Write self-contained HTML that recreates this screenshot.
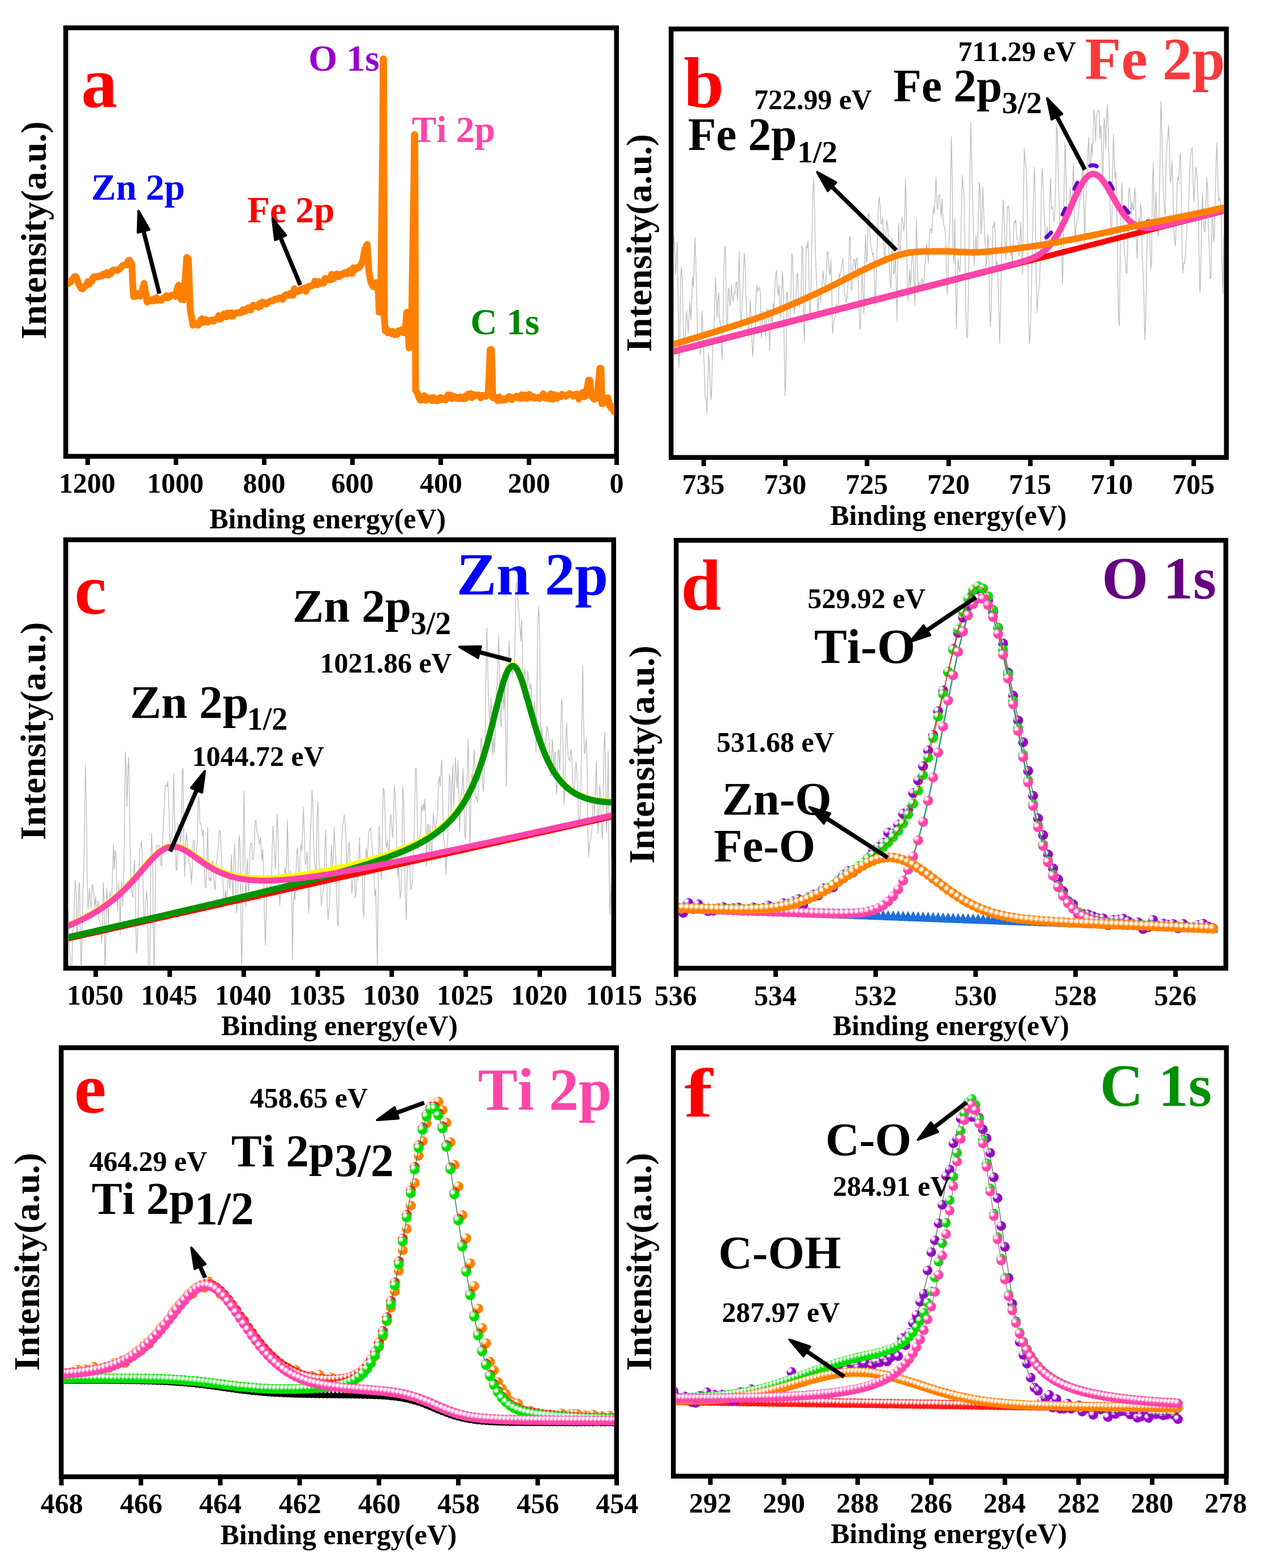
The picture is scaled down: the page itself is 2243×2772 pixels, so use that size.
<!DOCTYPE html>
<html><head><meta charset="utf-8"><title>XPS spectra</title>
<style>html,body{margin:0;padding:0;background:#fff;}svg{display:block;}text{font-family:'Liberation Serif','Times New Roman',serif;font-weight:bold;font-kerning:none}</style></head>
<body><svg xmlns="http://www.w3.org/2000/svg" width="2243" height="2772" viewBox="0 0 2243 2772">
<rect width="2243" height="2772" fill="#fff"/>
<defs>
<radialGradient id="gG" cx="0.31" cy="0.3" r="0.33"><stop offset="0" stop-color="#ffffff"/><stop offset="0.3" stop-color="#ffffff"/><stop offset="0.65" stop-color="#90f090"/><stop offset="1" stop-color="#00dd00"/></radialGradient>
<radialGradient id="gP" cx="0.31" cy="0.3" r="0.33"><stop offset="0" stop-color="#ffffff"/><stop offset="0.3" stop-color="#ffffff"/><stop offset="0.65" stop-color="#ffa8d8"/><stop offset="1" stop-color="#ff44aa"/></radialGradient>
<radialGradient id="gU" cx="0.31" cy="0.3" r="0.33"><stop offset="0" stop-color="#ffffff"/><stop offset="0.3" stop-color="#ffffff"/><stop offset="0.65" stop-color="#d8a8f0"/><stop offset="1" stop-color="#9900cc"/></radialGradient>
<radialGradient id="gO" cx="0.31" cy="0.3" r="0.33"><stop offset="0" stop-color="#ffffff"/><stop offset="0.3" stop-color="#ffffff"/><stop offset="0.65" stop-color="#ffc890"/><stop offset="1" stop-color="#ff8000"/></radialGradient>
<radialGradient id="gR" cx="0.31" cy="0.3" r="0.33"><stop offset="0" stop-color="#ffffff"/><stop offset="0.3" stop-color="#ffffff"/><stop offset="0.65" stop-color="#ff9a9a"/><stop offset="1" stop-color="#ff1a1a"/></radialGradient>
<radialGradient id="gK" cx="0.31" cy="0.3" r="0.33"><stop offset="0" stop-color="#ffffff"/><stop offset="0.3" stop-color="#ffffff"/><stop offset="0.65" stop-color="#000000"/><stop offset="1" stop-color="#000000"/></radialGradient>
</defs>
<rect x="116.2" y="49.2" width="973.5" height="757.5" fill="none" stroke="#000" stroke-width="8.5"/>
<rect x="151.0" y="810.0" width="8" height="12" fill="#000"/>
<rect x="307.0" y="810.0" width="8" height="12" fill="#000"/>
<rect x="463.0" y="810.0" width="8" height="12" fill="#000"/>
<rect x="619.0" y="810.0" width="8" height="12" fill="#000"/>
<rect x="775.0" y="810.0" width="8" height="12" fill="#000"/>
<rect x="931.0" y="810.0" width="8" height="12" fill="#000"/>
<rect x="1086.0" y="810.0" width="8" height="12" fill="#000"/>
<text x="104.0" y="871.0" font-size="50" fill="#000">1200</text>
<text x="260.0" y="871.0" font-size="50" fill="#000">1000</text>
<text x="429.6" y="871.0" font-size="50" fill="#000">800</text>
<text x="585.6" y="871.0" font-size="50" fill="#000">600</text>
<text x="742.1" y="871.0" font-size="50" fill="#000">400</text>
<text x="897.4" y="871.0" font-size="50" fill="#000">200</text>
<text x="1077.5" y="871.0" font-size="50" fill="#000">0</text>
<text x="370.2" y="933.5" font-size="50" fill="#000">Binding energy(eV)</text>
<text transform="translate(80.9,600.1) rotate(-90)" x="0" y="0" font-size="64.3" fill="#000">Intensity(a.u.)</text>
<rect x="1186.2" y="51.2" width="981.5" height="757.5" fill="none" stroke="#000" stroke-width="8.5"/>
<rect x="1239.8" y="812.0" width="8" height="12" fill="#000"/>
<rect x="1384.1" y="812.0" width="8" height="12" fill="#000"/>
<rect x="1528.5" y="812.0" width="8" height="12" fill="#000"/>
<rect x="1672.8" y="812.0" width="8" height="12" fill="#000"/>
<rect x="1817.2" y="812.0" width="8" height="12" fill="#000"/>
<rect x="1961.5" y="812.0" width="8" height="12" fill="#000"/>
<rect x="2105.9" y="812.0" width="8" height="12" fill="#000"/>
<text x="1205.8" y="872.7" font-size="50" fill="#000">735</text>
<text x="1350.2" y="872.7" font-size="50" fill="#000">730</text>
<text x="1494.5" y="872.7" font-size="50" fill="#000">725</text>
<text x="1638.9" y="872.7" font-size="50" fill="#000">720</text>
<text x="1783.2" y="872.7" font-size="50" fill="#000">715</text>
<text x="1927.6" y="872.7" font-size="50" fill="#000">710</text>
<text x="2071.9" y="872.7" font-size="50" fill="#000">705</text>
<text x="1467.4" y="928.0" font-size="50" fill="#000">Binding energy(eV)</text>
<text transform="translate(1151.0,622.6) rotate(-90)" x="0" y="0" font-size="64.3" fill="#000">Intensity(a.u.)</text>
<rect x="116.2" y="954.2" width="968.5" height="757.5" fill="none" stroke="#000" stroke-width="8.5"/>
<rect x="165.2" y="1715.0" width="8" height="12" fill="#000"/>
<rect x="296.0" y="1715.0" width="8" height="12" fill="#000"/>
<rect x="426.8" y="1715.0" width="8" height="12" fill="#000"/>
<rect x="557.6" y="1715.0" width="8" height="12" fill="#000"/>
<rect x="688.4" y="1715.0" width="8" height="12" fill="#000"/>
<rect x="819.2" y="1715.0" width="8" height="12" fill="#000"/>
<rect x="950.0" y="1715.0" width="8" height="12" fill="#000"/>
<rect x="1081.0" y="1715.0" width="8" height="12" fill="#000"/>
<text x="118.2" y="1775.5" font-size="50" fill="#000">1050</text>
<text x="248.9" y="1775.5" font-size="50" fill="#000">1045</text>
<text x="379.8" y="1775.5" font-size="50" fill="#000">1040</text>
<text x="510.5" y="1775.5" font-size="50" fill="#000">1035</text>
<text x="641.4" y="1775.5" font-size="50" fill="#000">1030</text>
<text x="772.1" y="1775.5" font-size="50" fill="#000">1025</text>
<text x="903.0" y="1775.5" font-size="50" fill="#000">1020</text>
<text x="1034.9" y="1775.5" font-size="50" fill="#000">1015</text>
<text x="391.0" y="1830.4" font-size="50" fill="#000">Binding energy(eV)</text>
<text transform="translate(80.0,1485.4) rotate(-90)" x="0" y="0" font-size="64.3" fill="#000">Intensity(a.u.)</text>
<rect x="1195.2" y="955.2" width="971.5" height="756.5" fill="none" stroke="#000" stroke-width="8.5"/>
<rect x="1191.0" y="1715.0" width="8" height="12" fill="#000"/>
<rect x="1367.0" y="1715.0" width="8" height="12" fill="#000"/>
<rect x="1543.7" y="1715.0" width="8" height="12" fill="#000"/>
<rect x="1720.4" y="1715.0" width="8" height="12" fill="#000"/>
<rect x="1897.1" y="1715.0" width="8" height="12" fill="#000"/>
<rect x="2073.8" y="1715.0" width="8" height="12" fill="#000"/>
<text x="1156.8" y="1776.5" font-size="50" fill="#000">536</text>
<text x="1333.0" y="1776.5" font-size="50" fill="#000">534</text>
<text x="1510.3" y="1776.5" font-size="50" fill="#000">532</text>
<text x="1686.9" y="1776.5" font-size="50" fill="#000">530</text>
<text x="1863.4" y="1776.5" font-size="50" fill="#000">528</text>
<text x="2040.0" y="1776.5" font-size="50" fill="#000">526</text>
<text x="1471.9" y="1830.4" font-size="50" fill="#000">Binding energy(eV)</text>
<text transform="translate(1156.0,1526.9) rotate(-90)" x="0" y="0" font-size="64.3" fill="#000">Intensity(a.u.)</text>
<rect x="108.2" y="1852.2" width="981.5" height="758.5" fill="none" stroke="#000" stroke-width="8.5"/>
<rect x="104.5" y="2614.0" width="8" height="12" fill="#000"/>
<rect x="245.1" y="2614.0" width="8" height="12" fill="#000"/>
<rect x="385.3" y="2614.0" width="8" height="12" fill="#000"/>
<rect x="525.6" y="2614.0" width="8" height="12" fill="#000"/>
<rect x="665.8" y="2614.0" width="8" height="12" fill="#000"/>
<rect x="806.1" y="2614.0" width="8" height="12" fill="#000"/>
<rect x="946.4" y="2614.0" width="8" height="12" fill="#000"/>
<rect x="1086.0" y="2614.0" width="8" height="12" fill="#000"/>
<text x="71.8" y="2674.8" font-size="50" fill="#000">468</text>
<text x="212.0" y="2674.8" font-size="50" fill="#000">466</text>
<text x="351.9" y="2674.8" font-size="50" fill="#000">464</text>
<text x="492.8" y="2674.8" font-size="50" fill="#000">462</text>
<text x="633.0" y="2674.8" font-size="50" fill="#000">460</text>
<text x="773.1" y="2674.8" font-size="50" fill="#000">458</text>
<text x="913.3" y="2674.8" font-size="50" fill="#000">456</text>
<text x="1053.2" y="2674.8" font-size="50" fill="#000">454</text>
<text x="389.4" y="2729.6" font-size="50" fill="#000">Binding energy(eV)</text>
<text transform="translate(69.0,2423.6) rotate(-90)" x="0" y="0" font-size="64.3" fill="#000">Intensity(a.u.)</text>
<rect x="1190.2" y="1852.2" width="977.5" height="757.5" fill="none" stroke="#000" stroke-width="8.5"/>
<rect x="1251.6" y="2613.0" width="8" height="12" fill="#000"/>
<rect x="1381.7" y="2613.0" width="8" height="12" fill="#000"/>
<rect x="1511.9" y="2613.0" width="8" height="12" fill="#000"/>
<rect x="1642.1" y="2613.0" width="8" height="12" fill="#000"/>
<rect x="1772.2" y="2613.0" width="8" height="12" fill="#000"/>
<rect x="1902.4" y="2613.0" width="8" height="12" fill="#000"/>
<rect x="2032.5" y="2613.0" width="8" height="12" fill="#000"/>
<rect x="2163.5" y="2613.0" width="8" height="12" fill="#000"/>
<text x="1218.1" y="2673.8" font-size="50" fill="#000">292</text>
<text x="1348.1" y="2673.8" font-size="50" fill="#000">290</text>
<text x="1478.2" y="2673.8" font-size="50" fill="#000">288</text>
<text x="1608.2" y="2673.8" font-size="50" fill="#000">286</text>
<text x="1738.1" y="2673.8" font-size="50" fill="#000">284</text>
<text x="1868.9" y="2673.8" font-size="50" fill="#000">282</text>
<text x="1998.9" y="2673.8" font-size="50" fill="#000">280</text>
<text x="2129.0" y="2673.8" font-size="50" fill="#000">278</text>
<text x="1468.2" y="2728.2" font-size="50" fill="#000">Binding energy(eV)</text>
<text transform="translate(1150.8,2423.6) rotate(-90)" x="0" y="0" font-size="64.3" fill="#000">Intensity(a.u.)</text>
<clipPath id="ca"><rect x="120" y="53" width="966" height="750"/></clipPath>
<g clip-path="url(#ca)">
<polyline points="120.0,502.0 122.3,499.2 124.6,498.9 126.9,495.0 129.2,492.6 131.5,488.9 133.8,489.0 136.4,493.7 138.9,502.2 141.4,505.8 144.0,510.0 146.2,510.8 148.5,507.3 150.8,505.9 153.0,503.8 155.2,497.7 157.5,502.1 159.8,499.5 162.0,497.9 164.2,490.9 166.5,489.1 168.8,489.5 171.0,490.0 173.3,488.0 175.6,489.1 177.8,487.4 180.1,487.9 182.4,484.3 184.7,485.7 186.9,485.1 189.2,481.7 191.5,486.6 193.8,483.0 196.1,483.7 198.3,478.5 200.6,477.4 202.9,477.5 205.2,477.2 207.4,478.2 209.7,476.4 212.0,475.0 214.5,472.2 217.0,469.2 219.5,468.5 222.0,468.0 224.3,468.3 226.7,460.7 229.0,460.0 233.0,468.0 235.8,524.0 238.2,523.9 240.5,523.7 242.9,518.4 245.3,521.4 247.6,523.8 250.0,520.0 252.2,510.5 254.5,501.0 258.0,520.0 260.0,534.0 262.3,528.6 264.6,532.0 266.9,531.9 269.2,529.6 271.5,532.1 273.8,530.2 276.2,526.2 278.5,531.1 280.8,530.1 283.1,530.1 285.4,530.7 287.7,527.5 290.0,526.0 292.2,526.1 294.4,522.4 296.7,526.8 298.9,523.6 301.1,523.8 303.3,521.6 305.6,522.1 307.8,522.9 310.0,524.0 314.0,508.0 316.0,504.0 318.0,524.0 320.3,529.1 322.7,523.1 325.0,530.0 327.5,492.5 330.0,455.0 333.0,458.0 336.0,545.0 338.5,560.0 341.0,575.0 343.3,570.5 345.7,573.6 348.0,572.0 350.3,574.9 352.5,572.2 354.8,565.6 357.1,563.6 359.3,569.9 361.6,566.6 363.9,565.1 366.1,569.5 368.4,569.2 370.7,566.4 372.9,566.0 375.2,565.8 377.5,568.0 379.7,565.1 382.0,564.2 384.3,563.7 386.5,558.0 388.8,564.3 391.1,562.9 393.3,561.3 395.6,554.7 397.9,557.3 400.1,560.2 402.4,553.3 404.7,556.6 406.9,558.8 409.2,552.7 411.5,559.1 413.7,555.9 416.0,554.0 418.3,552.8 420.5,553.2 422.8,553.2 425.1,551.1 427.3,552.7 429.6,547.6 431.9,547.4 434.1,550.1 436.4,546.9 438.7,543.9 440.9,547.5 443.2,547.9 445.5,542.5 447.7,539.5 450.0,541.7 452.3,540.8 454.5,539.7 456.8,543.0 459.1,536.3 461.3,541.0 463.6,534.2 465.9,534.5 468.1,537.1 470.4,537.5 472.7,536.1 474.9,534.0 477.2,532.7 479.5,532.0 481.7,532.2 484.0,530.0 486.3,528.7 488.5,529.0 490.8,528.9 493.1,526.7 495.3,527.7 497.6,526.4 499.9,529.0 502.1,524.1 504.4,521.5 506.7,520.8 508.9,520.8 511.2,522.2 513.5,518.4 515.7,519.3 518.0,521.9 520.3,510.5 522.5,513.1 524.8,515.6 527.1,515.1 529.3,513.9 531.6,511.5 533.9,513.2 536.1,511.5 538.4,508.7 540.7,515.0 542.9,509.2 545.2,506.2 547.5,506.4 549.7,505.3 552.0,505.0 554.3,503.9 556.5,496.7 558.8,501.1 561.1,503.8 563.3,497.7 565.6,499.4 567.9,501.0 570.1,499.9 572.4,500.5 574.7,491.9 576.9,494.3 579.2,493.4 581.5,494.8 583.7,495.0 586.0,485.1 588.3,493.2 590.5,486.2 592.8,490.4 595.1,484.3 597.3,487.4 599.6,489.0 601.9,484.8 604.1,484.8 606.4,485.3 608.7,482.8 610.9,481.4 613.2,484.4 615.5,482.3 617.7,478.2 620.0,478.0 622.3,483.6 624.6,473.2 626.9,477.2 629.1,473.4 631.4,473.3 633.7,473.7 636.0,471.0 638.5,467.0 641.0,462.0 645.0,440.0 649.0,432.0 652.0,480.0 655.0,497.0 657.5,503.5 660.0,507.0 663.0,499.8 666.0,500.0 669.0,520.0 670.0,552.0 672.5,545.0 676.6,240.0 677.2,104.0 678.0,104.0 678.5,300.0 679.2,560.0 681.0,585.0 683.4,582.4 685.8,588.5 688.2,585.7 690.6,586.5 693.0,590.0 695.3,585.9 697.6,591.8 699.9,590.0 702.2,591.1 704.5,584.7 706.8,586.4 709.1,583.1 711.4,587.0 713.7,588.4 716.0,584.0 719.0,552.0 721.0,575.0 723.0,615.0 727.0,600.0 729.4,450.0 731.8,300.0 732.4,238.0 733.2,238.0 733.8,400.0 734.5,690.0 737.8,694.9 741.0,704.0 743.2,707.8 745.5,706.5 747.7,703.8 749.9,699.6 752.2,707.8 754.4,704.2 756.6,703.1 758.8,705.6 761.1,705.7 763.3,708.4 765.5,702.4 767.8,707.7 770.0,705.0 772.2,708.4 774.4,708.2 776.6,704.1 778.9,702.6 781.1,706.6 783.3,704.3 785.5,704.2 787.7,707.1 789.9,702.9 792.2,697.9 794.4,702.3 796.6,698.6 798.8,704.9 801.0,703.5 803.2,701.1 805.5,702.4 807.7,704.2 809.9,702.3 812.1,705.1 814.3,701.6 816.5,704.1 818.8,705.0 821.0,705.1 823.2,699.5 825.4,703.1 827.6,696.3 829.8,698.0 832.1,695.7 834.3,702.9 836.5,697.2 838.7,699.9 840.9,699.3 843.1,699.6 845.4,698.1 847.6,699.9 849.8,703.5 852.0,699.0 854.2,698.9 856.4,699.9 858.6,700.8 860.8,697.7 863.0,698.0 866.4,618.0 868.6,618.0 871.0,703.0 873.3,701.0 875.7,703.7 878.0,706.0 880.2,708.4 882.4,701.8 884.6,704.2 886.9,707.9 889.1,707.2 891.3,705.2 893.5,707.0 895.7,705.3 898.0,702.0 900.2,700.9 902.4,703.0 904.6,706.6 906.8,702.9 909.0,702.0 911.2,702.1 913.5,700.2 915.7,703.5 917.9,700.8 920.1,704.3 922.3,697.7 924.5,704.0 926.8,701.5 929.0,698.3 931.2,704.5 933.4,702.0 935.6,697.2 937.9,700.3 940.1,703.0 942.3,701.0 944.5,703.9 946.7,703.7 948.9,703.3 951.1,702.4 953.4,704.7 955.6,702.9 957.8,702.3 960.0,696.1 962.2,703.1 964.5,703.9 966.7,700.0 968.9,699.4 971.1,705.1 973.3,696.0 975.5,701.3 977.8,705.8 980.0,697.6 982.2,701.4 984.4,704.1 986.6,699.2 988.8,700.7 991.0,701.4 993.3,696.9 995.5,698.7 997.7,699.5 999.9,700.6 1002.1,698.5 1004.4,697.9 1006.6,695.8 1008.8,697.3 1011.0,698.0 1013.4,700.3 1015.8,698.6 1018.2,696.6 1020.6,696.8 1023.0,705.4 1025.4,701.9 1027.8,700.9 1030.2,693.4 1032.6,701.3 1035.0,700.0 1037.7,686.0 1040.4,672.0 1042.4,672.0 1045.0,700.0 1047.5,702.2 1050.0,706.0 1052.5,704.0 1055.0,704.0 1057.7,677.5 1060.3,651.0 1062.3,651.0 1064.0,714.0 1067.0,712.8 1070.0,712.0 1074.0,703.0 1078.0,718.0 1080.5,721.8 1083.0,718.3 1085.5,728.0 1088.0,728.0" fill="none" stroke="#ff8000" stroke-width="12" stroke-linejoin="round" stroke-linecap="round"/>
</g>
<clipPath id="cb"><rect x="1191" y="55" width="972" height="750"/></clipPath>
<g clip-path="url(#cb)">
<polyline points="1188.0,584.8 1189.5,498.8 1191.0,412.7 1192.5,440.9 1194.0,485.6 1195.5,463.7 1197.0,428.2 1198.5,514.1 1200.0,650.1 1201.5,613.9 1203.0,491.0 1204.5,471.8 1206.0,495.9 1207.5,561.8 1209.0,615.7 1210.5,610.7 1212.0,576.6 1213.5,548.2 1215.0,568.8 1216.5,588.8 1218.0,557.8 1219.5,533.2 1221.0,565.0 1222.5,537.3 1224.0,489.4 1225.5,507.7 1227.0,464.8 1228.5,420.7 1230.0,469.8 1231.5,524.2 1233.0,598.1 1234.5,608.9 1236.0,601.9 1237.5,628.0 1239.0,614.8 1240.5,549.8 1242.0,566.7 1243.5,620.4 1245.0,651.7 1246.5,704.2 1248.0,703.7 1249.5,730.3 1251.0,685.2 1252.5,626.3 1254.0,643.2 1255.5,687.3 1257.0,707.0 1258.5,663.6 1260.0,607.7 1261.5,597.8 1263.0,551.1 1264.5,490.3 1266.0,516.3 1267.5,561.7 1269.0,529.2 1270.5,516.8 1272.0,567.3 1273.5,569.6 1275.0,610.6 1276.5,636.7 1278.0,577.2 1279.5,478.6 1281.0,435.1 1282.5,445.8 1284.0,569.3 1285.5,586.7 1287.0,510.5 1288.5,509.4 1290.0,540.2 1291.5,530.3 1293.0,502.5 1294.5,525.4 1296.0,532.5 1297.5,517.9 1299.0,519.4 1300.5,501.2 1302.0,498.3 1303.5,531.1 1305.0,500.0 1306.5,444.8 1308.0,528.3 1309.5,581.4 1311.0,554.7 1312.5,527.0 1314.0,484.3 1315.5,447.6 1317.0,464.6 1318.5,524.2 1320.0,562.9 1321.5,571.4 1323.0,596.8 1324.5,565.6 1326.0,529.3 1327.5,556.9 1329.0,600.9 1330.5,630.0 1332.0,604.2 1333.5,582.2 1335.0,576.7 1336.5,517.2 1338.0,504.3 1339.5,516.2 1341.0,509.3 1342.5,508.0 1344.0,518.5 1345.5,596.6 1347.0,585.4 1348.5,549.5 1350.0,558.4 1351.5,566.1 1353.0,594.9 1354.5,569.6 1356.0,546.0 1357.5,547.2 1359.0,574.2 1360.5,619.9 1362.0,563.3 1363.5,556.1 1365.0,573.7 1366.5,536.7 1368.0,545.0 1369.5,510.8 1371.0,485.6 1372.5,477.3 1374.0,509.2 1375.5,522.3 1377.0,503.3 1378.5,536.9 1380.0,563.2 1381.5,520.9 1383.0,479.5 1384.5,510.7 1386.0,602.0 1387.5,699.2 1389.0,666.5 1390.5,517.5 1392.0,517.7 1393.5,566.0 1395.0,565.2 1396.5,561.2 1398.0,514.2 1399.5,448.5 1401.0,453.9 1402.5,529.9 1404.0,555.0 1405.5,538.5 1407.0,525.5 1408.5,486.3 1410.0,482.3 1411.5,532.5 1413.0,542.5 1414.5,535.2 1416.0,518.0 1417.5,434.0 1419.0,439.8 1420.5,570.3 1422.0,604.1 1423.5,509.6 1425.0,435.0 1426.5,438.1 1428.0,426.4 1429.5,462.4 1431.0,562.2 1432.5,550.0 1434.0,476.4 1435.5,410.2 1437.0,335.2 1438.5,315.1 1440.0,377.8 1441.5,454.3 1443.0,491.5 1444.5,527.1 1446.0,556.8 1447.5,520.7 1449.0,517.2 1450.5,534.9 1452.0,516.5 1453.5,493.7 1455.0,479.7 1456.5,501.1 1458.0,510.5 1459.5,501.8 1461.0,472.4 1462.5,444.5 1464.0,447.3 1465.5,479.5 1467.0,487.0 1468.5,458.7 1470.0,500.2 1471.5,590.0 1473.0,576.7 1474.5,564.0 1476.0,560.8 1477.5,552.0 1479.0,536.7 1480.5,544.8 1482.0,543.2 1483.5,483.6 1485.0,488.2 1486.5,479.5 1488.0,467.1 1489.5,456.6 1491.0,474.0 1492.5,522.3 1494.0,521.8 1495.5,535.4 1497.0,528.2 1498.5,506.1 1500.0,490.5 1501.5,419.1 1503.0,419.0 1504.5,513.2 1506.0,511.2 1507.5,473.4 1509.0,459.2 1510.5,458.7 1512.0,477.6 1513.5,457.2 1515.0,456.6 1516.5,489.5 1518.0,517.1 1519.5,578.2 1521.0,581.7 1522.5,514.6 1524.0,484.0 1525.5,517.9 1527.0,553.8 1528.5,462.3 1530.0,415.1 1531.5,464.0 1533.0,453.6 1534.5,381.2 1536.0,377.0 1537.5,410.4 1539.0,435.2 1540.5,438.0 1542.0,451.0 1543.5,447.3 1545.0,459.8 1546.5,539.6 1548.0,511.8 1549.5,466.5 1551.0,419.5 1552.5,366.6 1554.0,347.7 1555.5,364.2 1557.0,395.4 1558.5,395.6 1560.0,384.9 1561.5,407.8 1563.0,449.2 1564.5,459.2 1566.0,412.9 1567.5,390.5 1569.0,397.3 1570.5,433.4 1572.0,466.7 1573.5,501.2 1575.0,510.9 1576.5,420.9 1578.0,437.8 1579.5,484.7 1581.0,481.3 1582.5,448.0 1584.0,503.1 1585.5,566.4 1587.0,446.4 1588.5,393.7 1590.0,443.9 1591.5,447.3 1593.0,397.8 1594.5,383.7 1596.0,394.1 1597.5,407.8 1599.0,392.5 1600.5,315.6 1602.0,369.8 1603.5,496.8 1605.0,531.2 1606.5,503.1 1608.0,476.5 1609.5,510.5 1611.0,470.5 1612.5,452.1 1614.0,445.9 1615.5,496.9 1617.0,538.9 1618.5,449.2 1620.0,388.5 1621.5,474.2 1623.0,517.5 1624.5,498.3 1626.0,510.9 1627.5,506.4 1629.0,491.9 1630.5,497.3 1632.0,506.4 1633.5,492.5 1635.0,468.0 1636.5,451.3 1638.0,430.3 1639.5,449.5 1641.0,465.1 1642.5,421.2 1644.0,406.3 1645.5,403.9 1647.0,411.8 1648.5,385.0 1650.0,366.5 1651.5,377.7 1653.0,342.9 1654.5,312.9 1656.0,362.3 1657.5,370.9 1659.0,347.2 1660.5,343.3 1662.0,363.4 1663.5,382.9 1665.0,351.6 1666.5,382.7 1668.0,396.6 1669.5,402.0 1671.0,411.8 1672.5,467.0 1674.0,521.1 1675.5,493.8 1677.0,436.5 1678.5,408.9 1680.0,335.7 1681.5,240.8 1683.0,307.9 1684.5,436.8 1686.0,465.5 1687.5,387.2 1689.0,484.8 1690.5,581.5 1692.0,515.0 1693.5,457.4 1695.0,475.6 1696.5,480.4 1698.0,453.6 1699.5,370.9 1701.0,309.8 1702.5,333.9 1704.0,344.1 1705.5,422.8 1707.0,535.0 1708.5,597.7 1710.0,595.6 1711.5,531.9 1713.0,415.6 1714.5,299.6 1716.0,217.1 1717.5,278.9 1719.0,351.5 1720.5,408.1 1722.0,469.9 1723.5,443.7 1725.0,417.0 1726.5,443.5 1728.0,434.8 1729.5,373.2 1731.0,322.3 1732.5,341.1 1734.0,413.9 1735.5,394.4 1737.0,330.7 1738.5,367.0 1740.0,406.8 1741.5,434.5 1743.0,471.7 1744.5,459.6 1746.0,415.0 1747.5,442.9 1749.0,537.2 1750.5,577.1 1752.0,545.4 1753.5,471.0 1755.0,399.6 1756.5,401.4 1758.0,391.3 1759.5,426.4 1761.0,476.7 1762.5,462.0 1764.0,490.7 1765.5,547.7 1767.0,607.2 1768.5,545.3 1770.0,466.8 1771.5,398.2 1773.0,353.5 1774.5,377.7 1776.0,412.3 1777.5,459.3 1779.0,436.9 1780.5,366.9 1782.0,364.0 1783.5,372.4 1785.0,421.9 1786.5,451.7 1788.0,440.2 1789.5,468.2 1791.0,430.0 1792.5,392.0 1794.0,394.0 1795.5,388.5 1797.0,421.9 1798.5,423.1 1800.0,433.1 1801.5,452.6 1803.0,418.9 1804.5,392.5 1806.0,455.4 1807.5,485.0 1809.0,349.1 1810.5,262.2 1812.0,285.2 1813.5,292.3 1815.0,335.8 1816.5,431.3 1818.0,554.0 1819.5,607.5 1821.0,592.4 1822.5,541.3 1824.0,468.9 1825.5,401.8 1827.0,329.9 1828.5,295.6 1830.0,358.7 1831.5,494.0 1833.0,552.8 1834.5,527.2 1836.0,510.9 1837.5,500.3 1839.0,446.1 1840.5,338.7 1842.0,297.7 1843.5,320.8 1845.0,364.2 1846.5,390.6 1848.0,426.5 1849.5,413.4 1851.0,400.0 1852.5,454.0 1854.0,460.5 1855.5,351.7 1857.0,315.1 1858.5,369.5 1860.0,366.4 1861.5,372.6 1863.0,392.2 1864.5,374.3 1866.0,323.7 1867.5,220.5 1869.0,232.7 1870.5,311.8 1872.0,357.4 1873.5,418.9 1875.0,418.9 1876.5,454.3 1878.0,502.3 1879.5,439.0 1881.0,318.0 1882.5,251.0 1884.0,301.1 1885.5,383.1 1887.0,377.8 1888.5,363.4 1890.0,365.5 1891.5,331.6 1893.0,350.3 1894.5,378.1 1896.0,322.6 1897.5,288.7 1899.0,375.1 1900.5,426.8 1902.0,402.0 1903.5,391.4 1905.0,386.6 1906.5,371.5 1908.0,355.7 1909.5,353.8 1911.0,340.1 1912.5,312.0 1914.0,283.1 1915.5,346.7 1917.0,429.2 1918.5,368.0 1920.0,337.1 1921.5,321.7 1923.0,268.0 1924.5,243.6 1926.0,294.0 1927.5,296.5 1929.0,254.2 1930.5,275.2 1932.0,239.0 1933.5,194.5 1935.0,209.6 1936.5,249.9 1938.0,207.9 1939.5,198.1 1941.0,197.1 1942.5,193.7 1944.0,245.7 1945.5,222.0 1947.0,241.2 1948.5,323.3 1950.0,293.5 1951.5,209.7 1953.0,222.5 1954.5,263.1 1956.0,211.7 1957.5,183.9 1959.0,242.2 1960.5,289.1 1962.0,357.9 1963.5,403.7 1965.0,416.6 1966.5,314.0 1968.0,237.1 1969.5,277.8 1971.0,315.4 1972.5,304.3 1974.0,366.7 1975.5,469.2 1977.0,562.7 1978.5,575.9 1980.0,446.9 1981.5,365.6 1983.0,323.5 1984.5,364.9 1986.0,415.4 1987.5,450.2 1989.0,454.6 1990.5,483.3 1992.0,482.1 1993.5,422.7 1995.0,338.5 1996.5,331.4 1998.0,350.1 1999.5,380.4 2001.0,357.5 2002.5,368.1 2004.0,371.8 2005.5,332.1 2007.0,344.7 2008.5,419.0 2010.0,457.7 2011.5,407.7 2013.0,385.5 2014.5,402.2 2016.0,361.3 2017.5,371.8 2019.0,456.7 2020.5,482.2 2022.0,528.2 2023.5,601.1 2025.0,568.9 2026.5,462.5 2028.0,415.9 2029.5,397.1 2031.0,384.6 2032.5,421.8 2034.0,475.2 2035.5,458.4 2037.0,332.1 2038.5,286.7 2040.0,381.9 2041.5,407.7 2043.0,340.0 2044.5,376.1 2046.0,414.9 2047.5,417.1 2049.0,366.7 2050.5,278.5 2052.0,179.5 2053.5,232.2 2055.0,296.4 2056.5,341.6 2058.0,370.6 2059.5,379.3 2061.0,290.5 2062.5,254.6 2064.0,244.5 2065.5,220.4 2067.0,261.3 2068.5,320.8 2070.0,317.0 2071.5,284.6 2073.0,323.2 2074.5,397.8 2076.0,425.6 2077.5,434.2 2079.0,393.5 2080.5,328.3 2082.0,312.4 2083.5,319.5 2085.0,283.5 2086.5,270.6 2088.0,346.2 2089.5,451.0 2091.0,482.7 2092.5,464.6 2094.0,465.9 2095.5,444.3 2097.0,421.8 2098.5,389.7 2100.0,389.6 2101.5,341.9 2103.0,298.5 2104.5,274.0 2106.0,262.6 2107.5,260.7 2109.0,326.5 2110.5,357.1 2112.0,323.2 2113.5,296.0 2115.0,300.6 2116.5,321.9 2118.0,361.9 2119.5,455.3 2121.0,518.6 2122.5,469.7 2124.0,385.4 2125.5,340.9 2127.0,384.5 2128.5,409.0 2130.0,409.3 2131.5,359.9 2133.0,314.5 2134.5,332.5 2136.0,408.6 2137.5,438.7 2139.0,492.7 2140.5,491.9 2142.0,392.7 2143.5,365.3 2145.0,428.0 2146.5,414.5 2148.0,354.0 2149.5,285.0 2151.0,252.6 2152.5,325.3 2154.0,355.0 2155.5,349.9 2157.0,352.4 2158.5,372.8 2160.0,469.7 2161.5,518.3 2163.0,420.4 2164.5,412.6 2166.0,423.5" fill="none" stroke="#bbbbbb" stroke-width="1.3" stroke-linejoin="round" stroke-linecap="round"/>
<polyline points="1186.0,610.0 1189.0,609.1 1192.0,608.2 1195.0,607.3 1198.0,606.4 1201.0,605.5 1204.0,604.6 1207.0,603.7 1210.0,602.8 1213.0,601.9 1216.0,601.0 1219.0,600.1 1222.0,599.2 1225.0,598.3 1228.0,597.4 1231.0,596.5 1234.0,595.6 1237.0,594.7 1240.0,593.8 1243.0,592.9 1246.0,592.0 1249.0,591.1 1252.0,590.2 1255.0,589.2 1258.0,588.3 1261.0,587.4 1264.0,586.4 1267.0,585.5 1270.0,584.5 1273.0,583.6 1276.0,582.6 1279.0,581.7 1282.0,580.7 1285.0,579.8 1288.0,578.8 1291.0,577.9 1294.0,576.9 1297.0,576.0 1300.0,575.0 1303.0,574.1 1306.0,573.1 1309.0,572.2 1312.0,571.2 1315.0,570.2 1318.0,569.3 1321.0,568.3 1324.0,567.3 1327.0,566.3 1330.0,565.3 1333.0,564.2 1336.0,563.2 1339.0,562.2 1342.0,561.1 1345.0,560.0 1348.0,559.0 1351.0,557.9 1354.0,556.8 1357.0,555.6 1360.0,554.5 1363.0,553.3 1366.0,552.2 1369.0,551.0 1372.0,549.8 1375.0,548.6 1378.0,547.4 1381.0,546.1 1384.0,544.9 1387.0,543.6 1390.0,542.4 1393.0,541.1 1396.0,539.8 1399.0,538.5 1402.0,537.2 1405.0,535.9 1408.0,534.6 1411.0,533.3 1414.0,531.9 1417.0,530.6 1420.0,529.3 1423.0,527.9 1426.0,526.5 1429.0,525.2 1432.0,523.8 1435.0,522.4 1438.0,521.0 1441.0,519.7 1444.0,518.3 1447.0,516.9 1450.0,515.5 1453.0,514.0 1456.0,512.6 1459.0,511.2 1462.0,509.7 1465.0,508.2 1468.0,506.7 1471.0,505.2 1474.0,503.7 1477.0,502.2 1480.0,500.6 1483.0,499.1 1486.0,497.5 1489.0,496.0 1492.0,494.4 1495.0,492.9 1498.0,491.3 1501.0,489.8 1504.0,488.2 1507.0,486.7 1510.0,485.1 1513.0,483.6 1516.0,482.1 1519.0,480.5 1522.0,479.0 1525.0,477.6 1528.0,476.1 1531.0,474.6 1534.0,473.2 1537.0,471.8 1540.0,470.4 1543.0,469.1 1546.0,467.7 1549.0,466.4 1552.0,465.1 1555.0,463.7 1558.0,462.4 1561.0,461.1 1564.0,459.9 1567.0,458.6 1570.0,457.4 1573.0,456.3 1576.0,455.1 1579.0,454.1 1582.0,453.0 1585.0,452.1 1588.0,451.1 1591.0,450.3 1594.0,449.5 1597.0,448.8 1600.0,448.1 1603.0,447.5 1606.0,446.9 1609.0,446.5 1612.0,446.1 1615.0,445.7 1618.0,445.5 1621.0,445.2 1624.0,445.0 1627.0,444.9 1630.0,444.7 1633.0,444.6 1636.0,444.5 1639.0,444.5 1642.0,444.4 1645.0,444.4 1648.0,444.4 1651.0,444.4 1654.0,444.3 1657.0,444.3 1660.0,444.2 1663.0,444.2 1666.0,444.2 1669.0,444.2 1672.0,444.2 1675.0,444.3 1678.0,444.5 1681.0,444.6 1684.0,444.8 1687.0,445.0 1690.0,445.1 1693.0,445.3 1696.0,445.4 1699.0,445.5 1702.0,445.5 1705.0,445.6 1708.0,445.7 1711.0,445.9 1714.0,446.0 1717.0,446.1 1720.0,446.2 1723.0,446.1 1726.0,446.1 1729.0,446.0 1732.0,445.8 1735.0,445.6 1738.0,445.4 1741.0,445.2 1744.0,444.9 1747.0,444.6 1750.0,444.4 1753.0,444.1 1756.0,443.8 1759.0,443.5 1762.0,443.2 1765.0,442.9 1768.0,442.5 1771.0,442.2 1774.0,441.9 1777.0,441.5 1780.0,441.2 1783.0,440.8 1786.0,440.5 1789.0,440.1 1792.0,439.7 1795.0,439.3 1798.0,438.9 1801.0,438.4 1804.0,437.9 1807.0,437.4 1810.0,436.9 1813.0,436.3 1816.0,435.6 1819.0,434.9 1822.0,434.1 1825.0,433.2 1828.0,432.1 1831.0,431.0 1834.0,429.7 1837.0,428.2 1840.0,426.5 1843.0,424.6 1846.0,422.5 1849.0,420.0 1852.0,417.3 1855.0,414.3 1858.0,411.0 1861.0,407.2 1864.0,403.2 1867.0,398.7 1870.0,393.9 1873.0,388.7 1876.0,383.2 1879.0,377.4 1882.0,371.3 1885.0,364.9 1888.0,358.4 1891.0,351.8 1894.0,345.1 1897.0,338.5 1900.0,331.9 1903.0,325.6 1906.0,319.6 1909.0,314.0 1912.0,308.9 1915.0,304.4 1918.0,300.4 1921.0,297.2 1924.0,294.7 1927.0,293.1 1930.0,292.2 1933.0,292.1 1936.0,292.8 1939.0,294.3 1942.0,296.5 1945.0,299.4 1948.0,302.9 1951.0,306.9 1954.0,311.4 1957.0,316.3 1960.0,321.4 1963.0,326.7 1966.0,332.1 1969.0,337.6 1972.0,342.9 1975.0,348.2 1978.0,353.2 1981.0,358.0 1984.0,362.5 1987.0,366.6 1990.0,370.5 1993.0,374.0 1996.0,377.1 1999.0,379.9 2002.0,382.3 2005.0,384.4 2008.0,386.1 2011.0,387.6 2014.0,388.8 2017.0,389.7 2020.0,390.5 2023.0,391.0 2026.0,391.3 2029.0,391.5 2032.0,391.6 2035.0,391.5 2038.0,391.4 2041.0,391.1 2044.0,390.8 2047.0,390.5 2050.0,390.1 2053.0,389.6 2056.0,389.1 2059.0,388.6 2062.0,388.1 2065.0,387.6 2068.0,387.0 2071.0,386.4 2074.0,385.9 2077.0,385.3 2080.0,384.7 2083.0,384.1 2086.0,383.5 2089.0,382.9 2092.0,382.3 2095.0,381.7 2098.0,381.0 2101.0,380.4 2104.0,379.8 2107.0,379.2 2110.0,378.5 2113.0,377.9 2116.0,377.3 2119.0,376.6 2122.0,376.0 2125.0,375.4 2128.0,374.7 2131.0,374.1 2134.0,373.5 2137.0,372.8 2140.0,372.2 2143.0,371.6 2146.0,370.9 2149.0,370.3 2152.0,369.6 2155.0,369.0 2158.0,368.4 2161.0,367.7 2164.0,367.1 2167.0,366.5" fill="none" stroke="#6600cc" stroke-width="7" stroke-linejoin="round" stroke-linecap="round" stroke-dasharray="12 38" stroke-linecap="butt"/>
<polyline points="1186.0,623.0 1189.0,622.3 1192.0,621.5 1195.0,620.7 1198.0,620.0 1201.0,619.2 1204.0,618.4 1207.0,617.6 1210.0,616.9 1213.0,616.1 1216.0,615.3 1219.0,614.6 1222.0,613.8 1225.0,613.0 1228.0,612.3 1231.0,611.5 1234.0,610.7 1237.0,610.0 1240.0,609.2 1243.0,608.4 1246.0,607.7 1249.0,606.9 1252.0,606.1 1255.0,605.4 1258.0,604.6 1261.0,603.8 1264.0,603.1 1267.0,602.3 1270.0,601.5 1273.0,600.8 1276.0,600.0 1279.0,599.2 1282.0,598.5 1285.0,597.7 1288.0,596.9 1291.0,596.2 1294.0,595.4 1297.0,594.6 1300.0,593.9 1303.0,593.1 1306.0,592.3 1309.0,591.5 1312.0,590.8 1315.0,590.0 1318.0,589.2 1321.0,588.5 1324.0,587.7 1327.0,586.9 1330.0,586.2 1333.0,585.4 1336.0,584.6 1339.0,583.9 1342.0,583.1 1345.0,582.3 1348.0,581.6 1351.0,580.8 1354.0,580.0 1357.0,579.3 1360.0,578.5 1363.0,577.7 1366.0,577.0 1369.0,576.2 1372.0,575.4 1375.0,574.7 1378.0,573.9 1381.0,573.1 1384.0,572.4 1387.0,571.6 1390.0,570.8 1393.0,570.1 1396.0,569.3 1399.0,568.5 1402.0,567.7 1405.0,567.0 1408.0,566.2 1411.0,565.4 1414.0,564.7 1417.0,563.9 1420.0,563.1 1423.0,562.4 1426.0,561.6 1429.0,560.8 1432.0,560.1 1435.0,559.3 1438.0,558.5 1441.0,557.8 1444.0,557.0 1447.0,556.2 1450.0,555.5 1453.0,554.7 1456.0,553.9 1459.0,553.2 1462.0,552.4 1465.0,551.6 1468.0,550.9 1471.0,550.1 1474.0,549.3 1477.0,548.6 1480.0,547.8 1483.0,547.0 1486.0,546.3 1489.0,545.5 1492.0,544.7 1495.0,544.0 1498.0,543.2 1501.0,542.4 1504.0,541.6 1507.0,540.9 1510.0,540.1 1513.0,539.3 1516.0,538.6 1519.0,537.8 1522.0,537.0 1525.0,536.3 1528.0,535.5 1531.0,534.7 1534.0,534.0 1537.0,533.2 1540.0,532.4 1543.0,531.7 1546.0,530.9 1549.0,530.1 1552.0,529.4 1555.0,528.6 1558.0,527.8 1561.0,527.1 1564.0,526.3 1567.0,525.5 1570.0,524.8 1573.0,524.0 1576.0,523.2 1579.0,522.5 1582.0,521.7 1585.0,520.9 1588.0,520.2 1591.0,519.4 1594.0,518.6 1597.0,517.8 1600.0,517.1 1603.0,516.3 1606.0,515.5 1609.0,514.8 1612.0,514.0 1615.0,513.2 1618.0,512.5 1621.0,511.7 1624.0,510.9 1627.0,510.2 1630.0,509.4 1633.0,508.6 1636.0,507.9 1639.0,507.1 1642.0,506.3 1645.0,505.6 1648.0,504.8 1651.0,504.0 1654.0,503.3 1657.0,502.5 1660.0,501.7 1663.0,501.0 1666.0,500.2 1669.0,499.4 1672.0,498.7 1675.0,497.9 1678.0,497.1 1681.0,496.4 1684.0,495.6 1687.0,494.8 1690.0,494.1 1693.0,493.3 1696.0,492.5 1699.0,491.7 1702.0,491.0 1705.0,490.2 1708.0,489.4 1711.0,488.7 1714.0,487.9 1717.0,487.1 1720.0,486.4 1723.0,485.6 1726.0,484.8 1729.0,484.1 1732.0,483.3 1735.0,482.5 1738.0,481.8 1741.0,481.0 1744.0,480.2 1747.0,479.5 1750.0,478.7 1753.0,477.9 1756.0,477.2 1759.0,476.4 1762.0,475.6 1765.0,474.9 1768.0,474.1 1771.0,473.3 1774.0,472.6 1777.0,471.8 1780.0,471.0 1783.0,470.3 1786.0,469.5 1789.0,468.7 1792.0,467.9 1795.0,467.2 1798.0,466.4 1801.0,465.6 1804.0,464.9 1807.0,464.1 1810.0,463.3 1813.0,462.6 1816.0,461.8 1819.0,461.0 1822.0,460.3 1825.0,459.5 1828.0,458.7 1831.0,458.0 1834.0,457.2 1837.0,456.4 1840.0,455.7 1843.0,454.9 1846.0,454.1 1849.0,453.4 1852.0,452.6 1855.0,451.8 1858.0,451.1 1861.0,450.3 1864.0,449.5 1867.0,448.8 1870.0,448.0 1873.0,447.2 1876.0,446.5 1879.0,445.7 1882.0,444.9 1885.0,444.1 1888.0,443.4 1891.0,442.6 1894.0,441.8 1897.0,441.1 1900.0,440.3 1903.0,439.5 1906.0,438.8 1909.0,438.0 1912.0,437.2 1915.0,436.5 1918.0,435.7 1921.0,434.9 1924.0,434.2 1927.0,433.4 1930.0,432.6 1933.0,431.9 1936.0,431.1 1939.0,430.3 1942.0,429.6 1945.0,428.8 1948.0,428.0 1951.0,427.3 1954.0,426.5 1957.0,425.7 1960.0,425.0 1963.0,424.2 1966.0,423.4 1969.0,422.7 1972.0,421.9 1975.0,421.1 1978.0,420.4 1981.0,419.6 1984.0,418.8 1987.0,418.0 1990.0,417.3 1993.0,416.5 1996.0,415.7 1999.0,415.0 2002.0,414.2 2005.0,413.4 2008.0,412.7 2011.0,411.9 2014.0,411.1 2017.0,410.4 2020.0,409.6 2023.0,408.8 2026.0,408.1 2029.0,407.3 2032.0,406.5 2035.0,405.8 2038.0,405.0 2041.0,404.2 2044.0,403.5 2047.0,402.7 2050.0,401.9 2053.0,401.2 2056.0,400.4 2059.0,399.6 2062.0,398.9 2065.0,398.1 2068.0,397.3 2071.0,396.6 2074.0,395.8 2077.0,395.0 2080.0,394.2 2083.0,393.5 2086.0,392.7 2089.0,391.9 2092.0,391.2 2095.0,390.4 2098.0,389.6 2101.0,388.9 2104.0,388.1 2107.0,387.3 2110.0,386.6 2113.0,385.8 2116.0,385.0 2119.0,384.3 2122.0,383.5 2125.0,382.7 2128.0,382.0 2131.0,381.2 2134.0,380.4 2137.0,379.7 2140.0,378.9 2143.0,378.1 2146.0,377.4 2149.0,376.6 2152.0,375.8 2155.0,375.1 2158.0,374.3 2161.0,373.5 2164.0,372.8 2167.0,372.0" fill="none" stroke="#ff0000" stroke-width="10" stroke-linejoin="round" stroke-linecap="round"/>
<polyline points="1186.0,622.0 1189.0,621.3 1192.0,620.5 1195.0,619.7 1198.0,619.0 1201.0,618.2 1204.0,617.4 1207.0,616.6 1210.0,615.9 1213.0,615.1 1216.0,614.3 1219.0,613.6 1222.0,612.8 1225.0,612.0 1228.0,611.3 1231.0,610.5 1234.0,609.7 1237.0,609.0 1240.0,608.2 1243.0,607.4 1246.0,606.7 1249.0,605.9 1252.0,605.1 1255.0,604.4 1258.0,603.6 1261.0,602.8 1264.0,602.1 1267.0,601.3 1270.0,600.5 1273.0,599.8 1276.0,599.0 1279.0,598.2 1282.0,597.5 1285.0,596.7 1288.0,595.9 1291.0,595.2 1294.0,594.4 1297.0,593.6 1300.0,592.9 1303.0,592.1 1306.0,591.3 1309.0,590.5 1312.0,589.8 1315.0,589.0 1318.0,588.2 1321.0,587.5 1324.0,586.7 1327.0,585.9 1330.0,585.2 1333.0,584.4 1336.0,583.6 1339.0,582.9 1342.0,582.1 1345.0,581.3 1348.0,580.6 1351.0,579.8 1354.0,579.0 1357.0,578.3 1360.0,577.5 1363.0,576.7 1366.0,576.0 1369.0,575.2 1372.0,574.4 1375.0,573.7 1378.0,572.9 1381.0,572.1 1384.0,571.4 1387.0,570.6 1390.0,569.8 1393.0,569.1 1396.0,568.3 1399.0,567.5 1402.0,566.7 1405.0,566.0 1408.0,565.2 1411.0,564.4 1414.0,563.7 1417.0,562.9 1420.0,562.1 1423.0,561.4 1426.0,560.6 1429.0,559.8 1432.0,559.1 1435.0,558.3 1438.0,557.5 1441.0,556.8 1444.0,556.0 1447.0,555.2 1450.0,554.5 1453.0,553.7 1456.0,552.9 1459.0,552.2 1462.0,551.4 1465.0,550.6 1468.0,549.9 1471.0,549.1 1474.0,548.3 1477.0,547.6 1480.0,546.8 1483.0,546.0 1486.0,545.3 1489.0,544.5 1492.0,543.7 1495.0,543.0 1498.0,542.2 1501.0,541.4 1504.0,540.6 1507.0,539.9 1510.0,539.1 1513.0,538.3 1516.0,537.6 1519.0,536.8 1522.0,536.0 1525.0,535.3 1528.0,534.5 1531.0,533.7 1534.0,533.0 1537.0,532.2 1540.0,531.4 1543.0,530.7 1546.0,529.9 1549.0,529.1 1552.0,528.4 1555.0,527.6 1558.0,526.8 1561.0,526.1 1564.0,525.3 1567.0,524.5 1570.0,523.8 1573.0,523.0 1576.0,522.2 1579.0,521.5 1582.0,520.7 1585.0,519.9 1588.0,519.2 1591.0,518.4 1594.0,517.6 1597.0,516.8 1600.0,516.1 1603.0,515.3 1606.0,514.5 1609.0,513.8 1612.0,513.0 1615.0,512.2 1618.0,511.5 1621.0,510.7 1624.0,509.9 1627.0,509.2 1630.0,508.4 1633.0,507.6 1636.0,506.9 1639.0,506.1 1642.0,505.3 1645.0,504.6 1648.0,503.8 1651.0,503.0 1654.0,502.3 1657.0,501.5 1660.0,500.7 1663.0,500.0 1666.0,499.2 1669.0,498.4 1672.0,497.7 1675.0,496.9 1678.0,496.1 1681.0,495.4 1684.0,494.6 1687.0,493.8 1690.0,493.0 1693.0,492.3 1696.0,491.5 1699.0,490.7 1702.0,490.0 1705.0,489.2 1708.0,488.4 1711.0,487.7 1714.0,486.9 1717.0,486.1 1720.0,485.4 1723.0,484.6 1726.0,483.8 1729.0,483.1 1732.0,482.3 1735.0,481.5 1738.0,480.8 1741.0,480.0 1744.0,479.2 1747.0,478.5 1750.0,477.7 1753.0,476.9 1756.0,476.2 1759.0,475.4 1762.0,474.6 1765.0,473.9 1768.0,473.1 1771.0,472.3 1774.0,471.5 1777.0,470.8 1780.0,470.0 1783.0,469.2 1786.0,468.4 1789.0,467.6 1792.0,466.8 1795.0,466.0 1798.0,465.2 1801.0,464.3 1804.0,463.5 1807.0,462.6 1810.0,461.7 1813.0,460.7 1816.0,459.7 1819.0,458.6 1822.0,457.4 1825.0,456.2 1828.0,454.9 1831.0,453.4 1834.0,451.8 1837.0,450.0 1840.0,448.0 1843.0,445.8 1846.0,443.4 1849.0,440.7 1852.0,437.8 1855.0,434.5 1858.0,430.9 1861.0,426.9 1864.0,422.6 1867.0,418.0 1870.0,413.0 1873.0,407.6 1876.0,401.9 1879.0,395.8 1882.0,389.5 1885.0,383.0 1888.0,376.3 1891.0,369.5 1894.0,362.6 1897.0,355.8 1900.0,349.1 1903.0,342.6 1906.0,336.4 1909.0,330.7 1912.0,325.4 1915.0,320.6 1918.0,316.6 1921.0,313.2 1924.0,310.5 1927.0,308.7 1930.0,307.6 1933.0,307.4 1936.0,308.0 1939.0,309.4 1942.0,311.4 1945.0,314.2 1948.0,317.6 1951.0,321.5 1954.0,325.9 1957.0,330.7 1960.0,335.7 1963.0,340.9 1966.0,346.2 1969.0,351.5 1972.0,356.8 1975.0,361.9 1978.0,366.8 1981.0,371.5 1984.0,375.9 1987.0,380.0 1990.0,383.7 1993.0,387.1 1996.0,390.1 1999.0,392.7 2002.0,395.0 2005.0,397.0 2008.0,398.6 2011.0,399.9 2014.0,401.0 2017.0,401.8 2020.0,402.4 2023.0,402.7 2026.0,402.9 2029.0,403.0 2032.0,402.9 2035.0,402.6 2038.0,402.3 2041.0,401.9 2044.0,401.4 2047.0,400.9 2050.0,400.3 2053.0,399.7 2056.0,399.0 2059.0,398.4 2062.0,397.7 2065.0,396.9 2068.0,396.2 2071.0,395.5 2074.0,394.7 2077.0,394.0 2080.0,393.2 2083.0,392.5 2086.0,391.7 2089.0,390.9 2092.0,390.2 2095.0,389.4 2098.0,388.6 2101.0,387.9 2104.0,387.1 2107.0,386.3 2110.0,385.6 2113.0,384.8 2116.0,384.0 2119.0,383.3 2122.0,382.5 2125.0,381.7 2128.0,381.0 2131.0,380.2 2134.0,379.4 2137.0,378.7 2140.0,377.9 2143.0,377.1 2146.0,376.4 2149.0,375.6 2152.0,374.8 2155.0,374.1 2158.0,373.3 2161.0,372.5 2164.0,371.8 2167.0,371.0" fill="none" stroke="#ff44aa" stroke-width="11" stroke-linejoin="round" stroke-linecap="round"/>
<polyline points="1186.0,610.0 1189.0,609.1 1192.0,608.2 1195.0,607.3 1198.0,606.4 1201.0,605.5 1204.0,604.6 1207.0,603.7 1210.0,602.8 1213.0,601.9 1216.0,601.0 1219.0,600.1 1222.0,599.2 1225.0,598.3 1228.0,597.4 1231.0,596.5 1234.0,595.6 1237.0,594.7 1240.0,593.8 1243.0,592.9 1246.0,592.0 1249.0,591.1 1252.0,590.2 1255.0,589.2 1258.0,588.3 1261.0,587.4 1264.0,586.4 1267.0,585.5 1270.0,584.5 1273.0,583.6 1276.0,582.6 1279.0,581.7 1282.0,580.7 1285.0,579.8 1288.0,578.8 1291.0,577.9 1294.0,576.9 1297.0,576.0 1300.0,575.0 1303.0,574.1 1306.0,573.1 1309.0,572.2 1312.0,571.2 1315.0,570.2 1318.0,569.3 1321.0,568.3 1324.0,567.3 1327.0,566.3 1330.0,565.3 1333.0,564.2 1336.0,563.2 1339.0,562.2 1342.0,561.1 1345.0,560.0 1348.0,559.0 1351.0,557.9 1354.0,556.8 1357.0,555.6 1360.0,554.5 1363.0,553.3 1366.0,552.2 1369.0,551.0 1372.0,549.8 1375.0,548.6 1378.0,547.4 1381.0,546.1 1384.0,544.9 1387.0,543.6 1390.0,542.4 1393.0,541.1 1396.0,539.8 1399.0,538.5 1402.0,537.2 1405.0,535.9 1408.0,534.6 1411.0,533.3 1414.0,531.9 1417.0,530.6 1420.0,529.3 1423.0,527.9 1426.0,526.5 1429.0,525.2 1432.0,523.8 1435.0,522.4 1438.0,521.0 1441.0,519.7 1444.0,518.3 1447.0,516.9 1450.0,515.5 1453.0,514.0 1456.0,512.6 1459.0,511.2 1462.0,509.7 1465.0,508.2 1468.0,506.7 1471.0,505.2 1474.0,503.7 1477.0,502.2 1480.0,500.6 1483.0,499.1 1486.0,497.5 1489.0,496.0 1492.0,494.4 1495.0,492.9 1498.0,491.3 1501.0,489.8 1504.0,488.2 1507.0,486.7 1510.0,485.1 1513.0,483.6 1516.0,482.1 1519.0,480.5 1522.0,479.0 1525.0,477.6 1528.0,476.1 1531.0,474.6 1534.0,473.2 1537.0,471.8 1540.0,470.4 1543.0,469.1 1546.0,467.7 1549.0,466.4 1552.0,465.1 1555.0,463.7 1558.0,462.4 1561.0,461.1 1564.0,459.9 1567.0,458.6 1570.0,457.4 1573.0,456.3 1576.0,455.1 1579.0,454.1 1582.0,453.0 1585.0,452.1 1588.0,451.1 1591.0,450.3 1594.0,449.5 1597.0,448.8 1600.0,448.1 1603.0,447.5 1606.0,446.9 1609.0,446.5 1612.0,446.1 1615.0,445.7 1618.0,445.5 1621.0,445.2 1624.0,445.0 1627.0,444.9 1630.0,444.7 1633.0,444.6 1636.0,444.5 1639.0,444.5 1642.0,444.4 1645.0,444.4 1648.0,444.4 1651.0,444.4 1654.0,444.3 1657.0,444.3 1660.0,444.2 1663.0,444.2 1666.0,444.2 1669.0,444.2 1672.0,444.2 1675.0,444.3 1678.0,444.5 1681.0,444.6 1684.0,444.8 1687.0,445.0 1690.0,445.1 1693.0,445.3 1696.0,445.4 1699.0,445.5 1702.0,445.5 1705.0,445.6 1708.0,445.7 1711.0,445.9 1714.0,446.0 1717.0,446.1 1720.0,446.2 1723.0,446.1 1726.0,446.1 1729.0,446.0 1732.0,445.8 1735.0,445.6 1738.0,445.4 1741.0,445.2 1744.0,444.9 1747.0,444.6 1750.0,444.4 1753.0,444.1 1756.0,443.8 1759.0,443.5 1762.0,443.2 1765.0,442.9 1768.0,442.5 1771.0,442.2 1774.0,441.9 1777.0,441.6 1780.0,441.2 1783.0,440.9 1786.0,440.5 1789.0,440.2 1792.0,439.8 1795.0,439.4 1798.0,439.1 1801.0,438.7 1804.0,438.3 1807.0,437.9 1810.0,437.5 1813.0,437.1 1816.0,436.7 1819.0,436.3 1822.0,435.9 1825.0,435.5 1828.0,435.0 1831.0,434.6 1834.0,434.1 1837.0,433.6 1840.0,433.2 1843.0,432.7 1846.0,432.2 1849.0,431.7 1852.0,431.2 1855.0,430.6 1858.0,430.1 1861.0,429.6 1864.0,429.0 1867.0,428.5 1870.0,427.9 1873.0,427.4 1876.0,426.8 1879.0,426.3 1882.0,425.7 1885.0,425.1 1888.0,424.5 1891.0,423.9 1894.0,423.4 1897.0,422.8 1900.0,422.2 1903.0,421.6 1906.0,421.0 1909.0,420.4 1912.0,419.8 1915.0,419.2 1918.0,418.6 1921.0,418.0 1924.0,417.4 1927.0,416.8 1930.0,416.2 1933.0,415.5 1936.0,414.9 1939.0,414.3 1942.0,413.6 1945.0,413.0 1948.0,412.3 1951.0,411.7 1954.0,411.0 1957.0,410.4 1960.0,409.7 1963.0,409.0 1966.0,408.4 1969.0,407.7 1972.0,407.0 1975.0,406.4 1978.0,405.7 1981.0,405.0 1984.0,404.4 1987.0,403.7 1990.0,403.1 1993.0,402.4 1996.0,401.7 1999.0,401.1 2002.0,400.5 2005.0,399.8 2008.0,399.2 2011.0,398.6 2014.0,397.9 2017.0,397.3 2020.0,396.7 2023.0,396.1 2026.0,395.5 2029.0,394.9 2032.0,394.3 2035.0,393.7 2038.0,393.1 2041.0,392.5 2044.0,391.9 2047.0,391.3 2050.0,390.7 2053.0,390.1 2056.0,389.5 2059.0,388.9 2062.0,388.3 2065.0,387.7 2068.0,387.1 2071.0,386.5 2074.0,385.9 2077.0,385.3 2080.0,384.7 2083.0,384.1 2086.0,383.5 2089.0,382.9 2092.0,382.3 2095.0,381.7 2098.0,381.0 2101.0,380.4 2104.0,379.8 2107.0,379.2 2110.0,378.5 2113.0,377.9 2116.0,377.3 2119.0,376.6 2122.0,376.0 2125.0,375.4 2128.0,374.7 2131.0,374.1 2134.0,373.5 2137.0,372.8 2140.0,372.2 2143.0,371.6 2146.0,370.9 2149.0,370.3 2152.0,369.6 2155.0,369.0 2158.0,368.4 2161.0,367.7 2164.0,367.1 2167.0,366.5" fill="none" stroke="#ff8000" stroke-width="11.5" stroke-linejoin="round" stroke-linecap="round"/>
</g>
<clipPath id="cc"><rect x="121" y="958" width="960" height="750"/></clipPath>
<g clip-path="url(#cc)">
<polyline points="118.0,1669.1 119.5,1607.6 121.0,1609.3 122.5,1670.9 124.0,1689.5 125.5,1748.9 127.0,1710.0 128.5,1642.3 130.0,1641.7 131.5,1594.1 133.0,1555.8 134.5,1575.9 136.0,1647.7 137.5,1640.4 139.0,1567.2 140.5,1560.1 142.0,1654.5 143.5,1716.6 145.0,1659.3 146.5,1580.6 148.0,1543.0 149.5,1454.4 151.0,1351.8 152.5,1415.8 154.0,1539.6 155.5,1606.6 157.0,1587.2 158.5,1570.7 160.0,1602.1 161.5,1603.9 163.0,1563.4 164.5,1565.6 166.0,1582.3 167.5,1604.9 169.0,1585.1 170.5,1602.2 172.0,1609.3 173.5,1592.3 175.0,1625.4 176.5,1629.5 178.0,1637.5 179.5,1666.3 181.0,1635.9 182.5,1559.8 184.0,1593.6 185.5,1711.4 187.0,1663.7 188.5,1570.5 190.0,1588.6 191.5,1633.9 193.0,1590.8 194.5,1577.0 196.0,1595.6 197.5,1592.8 199.0,1538.4 200.5,1492.9 202.0,1536.6 203.5,1502.9 205.0,1509.8 206.5,1576.3 208.0,1611.0 209.5,1561.6 211.0,1583.3 212.5,1652.6 214.0,1570.3 215.5,1559.0 217.0,1601.1 218.5,1570.1 220.0,1460.5 221.5,1328.9 223.0,1355.0 224.5,1425.9 226.0,1363.9 227.5,1338.1 229.0,1431.2 230.5,1526.4 232.0,1568.6 233.5,1581.1 235.0,1586.8 236.5,1538.6 238.0,1520.6 239.5,1597.8 241.0,1684.9 242.5,1674.4 244.0,1623.9 245.5,1562.4 247.0,1500.9 248.5,1499.4 250.0,1486.1 251.5,1513.3 253.0,1567.9 254.5,1623.3 256.0,1634.0 257.5,1593.9 259.0,1575.9 260.5,1591.2 262.0,1676.1 263.5,1771.7 265.0,1683.4 266.5,1529.5 268.0,1473.8 269.5,1513.7 271.0,1635.6 272.5,1727.9 274.0,1610.2 275.5,1516.3 277.0,1494.7 278.5,1496.1 280.0,1494.5 281.5,1494.0 283.0,1504.4 284.5,1530.1 286.0,1530.4 287.5,1480.1 289.0,1453.5 290.5,1428.9 292.0,1390.6 293.5,1387.3 295.0,1390.6 296.5,1381.1 298.0,1406.0 299.5,1465.9 301.0,1493.7 302.5,1480.6 304.0,1479.5 305.5,1446.8 307.0,1367.5 308.5,1437.2 310.0,1486.4 311.5,1538.5 313.0,1536.9 314.5,1456.1 316.0,1463.0 317.5,1457.5 319.0,1490.6 320.5,1477.0 322.0,1363.2 323.5,1358.0 325.0,1500.4 326.5,1549.2 328.0,1495.6 329.5,1473.1 331.0,1486.3 332.5,1507.8 334.0,1525.3 335.5,1528.5 337.0,1540.0 338.5,1562.9 340.0,1528.8 341.5,1487.3 343.0,1484.7 344.5,1512.8 346.0,1514.6 347.5,1506.7 349.0,1480.0 350.5,1409.2 352.0,1411.8 353.5,1456.3 355.0,1455.9 356.5,1464.4 358.0,1477.7 359.5,1466.9 361.0,1538.7 362.5,1564.4 364.0,1570.1 365.5,1522.5 367.0,1462.9 368.5,1530.0 370.0,1557.3 371.5,1551.8 373.0,1558.1 374.5,1524.3 376.0,1522.0 377.5,1547.1 379.0,1564.7 380.5,1572.8 382.0,1530.5 383.5,1516.9 385.0,1507.1 386.5,1484.7 388.0,1466.9 389.5,1470.6 391.0,1503.3 392.5,1545.8 394.0,1557.2 395.5,1590.8 397.0,1593.5 398.5,1573.9 400.0,1590.7 401.5,1580.6 403.0,1553.1 404.5,1542.4 406.0,1571.3 407.5,1555.7 409.0,1511.7 410.5,1561.8 412.0,1588.3 413.5,1512.4 415.0,1491.3 416.5,1554.1 418.0,1613.8 419.5,1604.3 421.0,1535.9 422.5,1476.9 424.0,1488.7 425.5,1581.4 427.0,1710.2 428.5,1654.4 430.0,1474.2 431.5,1398.3 433.0,1526.7 434.5,1603.6 436.0,1538.0 437.5,1518.8 439.0,1579.9 440.5,1561.4 442.0,1499.7 443.5,1490.8 445.0,1491.2 446.5,1519.4 448.0,1518.5 449.5,1498.2 451.0,1453.3 452.5,1449.6 454.0,1470.4 455.5,1473.2 457.0,1483.7 458.5,1493.1 460.0,1479.9 461.5,1497.4 463.0,1521.8 464.5,1501.0 466.0,1539.0 467.5,1623.3 469.0,1670.8 470.5,1617.0 472.0,1556.8 473.5,1557.5 475.0,1551.0 476.5,1554.7 478.0,1578.2 479.5,1586.7 481.0,1505.1 482.5,1460.0 484.0,1483.3 485.5,1511.8 487.0,1536.7 488.5,1478.8 490.0,1440.2 491.5,1479.4 493.0,1569.5 494.5,1600.3 496.0,1574.2 497.5,1577.2 499.0,1567.7 500.5,1574.1 502.0,1570.1 503.5,1534.6 505.0,1546.9 506.5,1530.8 508.0,1448.9 509.5,1512.3 511.0,1576.9 512.5,1571.5 514.0,1539.0 515.5,1573.3 517.0,1696.8 518.5,1601.6 520.0,1576.8 521.5,1590.6 523.0,1547.2 524.5,1506.6 526.0,1498.6 527.5,1542.0 529.0,1571.4 530.5,1511.1 532.0,1492.1 533.5,1503.9 535.0,1464.5 536.5,1427.4 538.0,1477.1 539.5,1526.4 541.0,1528.2 542.5,1506.1 544.0,1527.1 545.5,1614.3 547.0,1583.9 548.5,1476.1 550.0,1447.2 551.5,1397.1 553.0,1418.7 554.5,1496.6 556.0,1523.5 557.5,1534.6 559.0,1548.2 560.5,1439.4 562.0,1416.6 563.5,1507.9 565.0,1557.2 566.5,1559.1 568.0,1602.8 569.5,1585.9 571.0,1578.2 572.5,1567.8 574.0,1507.5 575.5,1468.3 577.0,1515.8 578.5,1605.3 580.0,1626.1 581.5,1605.7 583.0,1591.6 584.5,1520.3 586.0,1495.0 587.5,1537.9 589.0,1514.7 590.5,1461.9 592.0,1492.1 593.5,1517.3 595.0,1581.0 596.5,1631.2 598.0,1638.0 599.5,1559.5 601.0,1543.8 602.5,1550.9 604.0,1492.4 605.5,1462.8 607.0,1451.9 608.5,1440.5 610.0,1457.8 611.5,1480.1 613.0,1527.9 614.5,1522.2 616.0,1496.5 617.5,1489.4 619.0,1534.9 620.5,1547.3 622.0,1579.7 623.5,1555.8 625.0,1541.1 626.5,1545.3 628.0,1586.7 629.5,1576.7 631.0,1521.5 632.5,1556.5 634.0,1527.4 635.5,1481.4 637.0,1527.5 638.5,1535.6 640.0,1530.8 641.5,1605.1 643.0,1620.2 644.5,1559.7 646.0,1509.1 647.5,1499.7 649.0,1524.0 650.5,1494.8 652.0,1469.9 653.5,1467.3 655.0,1463.6 656.5,1485.4 658.0,1502.0 659.5,1511.9 661.0,1549.4 662.5,1583.6 664.0,1572.5 665.5,1636.9 667.0,1706.2 668.5,1565.0 670.0,1460.0 671.5,1487.0 673.0,1545.1 674.5,1553.8 676.0,1463.2 677.5,1393.1 679.0,1398.5 680.5,1435.1 682.0,1492.6 683.5,1498.7 685.0,1484.7 686.5,1508.9 688.0,1515.3 689.5,1447.8 691.0,1440.4 692.5,1463.8 694.0,1480.9 695.5,1442.5 697.0,1389.3 698.5,1400.6 700.0,1446.2 701.5,1497.8 703.0,1549.7 704.5,1529.4 706.0,1567.5 707.5,1587.5 709.0,1572.5 710.5,1490.0 712.0,1391.1 713.5,1415.0 715.0,1503.4 716.5,1584.9 718.0,1625.8 719.5,1553.3 721.0,1529.1 722.5,1515.3 724.0,1524.2 725.5,1567.9 727.0,1572.5 728.5,1560.4 730.0,1532.5 731.5,1485.3 733.0,1430.7 734.5,1358.4 736.0,1359.5 737.5,1445.0 739.0,1503.1 740.5,1493.3 742.0,1475.5 743.5,1474.3 745.0,1424.4 746.5,1433.4 748.0,1421.1 749.5,1432.8 751.0,1413.1 752.5,1449.4 754.0,1530.8 755.5,1457.3 757.0,1457.1 758.5,1508.8 760.0,1458.1 761.5,1488.9 763.0,1526.1 764.5,1470.1 766.0,1436.5 767.5,1457.9 769.0,1466.2 770.5,1457.0 772.0,1452.6 773.5,1434.6 775.0,1383.4 776.5,1372.3 778.0,1389.7 779.5,1358.9 781.0,1343.5 782.5,1414.6 784.0,1485.2 785.5,1488.2 787.0,1515.8 788.5,1545.5 790.0,1501.5 791.5,1480.1 793.0,1417.2 794.5,1367.7 796.0,1382.9 797.5,1436.9 799.0,1386.2 800.5,1352.1 802.0,1426.8 803.5,1387.7 805.0,1339.6 806.5,1368.3 808.0,1394.0 809.5,1345.3 811.0,1398.2 812.5,1469.9 814.0,1417.6 815.5,1400.9 817.0,1394.6 818.5,1358.8 820.0,1402.3 821.5,1475.4 823.0,1483.8 824.5,1417.8 826.0,1359.5 827.5,1307.2 829.0,1378.3 830.5,1500.8 832.0,1436.4 833.5,1369.5 835.0,1378.1 836.5,1356.0 838.0,1324.9 839.5,1367.9 841.0,1411.3 842.5,1409.2 844.0,1419.4 845.5,1400.8 847.0,1366.2 848.5,1376.9 850.0,1308.1 851.5,1303.2 853.0,1385.7 854.5,1399.1 856.0,1364.0 857.5,1301.7 859.0,1195.6 860.5,1110.2 862.0,1176.0 863.5,1237.3 865.0,1267.2 866.5,1277.1 868.0,1232.7 869.5,1308.2 871.0,1335.6 872.5,1304.4 874.0,1330.3 875.5,1297.0 877.0,1223.1 878.5,1212.2 880.0,1174.8 881.5,1123.0 883.0,1185.1 884.5,1273.4 886.0,1284.8 887.5,1218.2 889.0,1228.8 890.5,1255.6 892.0,1203.6 893.5,1280.1 895.0,1389.7 896.5,1306.2 898.0,1197.9 899.5,1133.3 901.0,1158.7 902.5,1172.7 904.0,1181.3 905.5,1192.7 907.0,1179.9 908.5,1177.9 910.0,1151.9 911.5,1048.2 913.0,1029.2 914.5,1046.5 916.0,1074.3 917.5,1085.5 919.0,1110.6 920.5,1132.6 922.0,1094.9 923.5,1154.4 925.0,1234.0 926.5,1192.1 928.0,1182.2 929.5,1235.8 931.0,1225.8 932.5,1186.1 934.0,1195.4 935.5,1207.9 937.0,1218.3 938.5,1208.8 940.0,1243.3 941.5,1271.7 943.0,1269.5 944.5,1238.9 946.0,1257.6 947.5,1329.0 949.0,1232.9 950.5,1107.3 952.0,1073.3 953.5,1101.0 955.0,1258.8 956.5,1318.2 958.0,1287.4 959.5,1320.2 961.0,1338.1 962.5,1314.4 964.0,1315.2 965.5,1297.3 967.0,1283.4 968.5,1292.7 970.0,1305.2 971.5,1327.4 973.0,1371.8 974.5,1371.6 976.0,1306.5 977.5,1320.5 979.0,1375.2 980.5,1330.2 982.0,1332.5 983.5,1403.8 985.0,1387.1 986.5,1324.6 988.0,1328.8 989.5,1362.6 991.0,1299.1 992.5,1236.3 994.0,1246.8 995.5,1353.4 997.0,1421.9 998.5,1387.3 1000.0,1306.9 1001.5,1277.0 1003.0,1314.6 1004.5,1342.0 1006.0,1340.7 1007.5,1346.1 1009.0,1324.8 1010.5,1332.0 1012.0,1376.1 1013.5,1394.4 1015.0,1393.3 1016.5,1373.5 1018.0,1346.2 1019.5,1360.9 1021.0,1393.5 1022.5,1443.6 1024.0,1455.0 1025.5,1436.7 1027.0,1379.7 1028.5,1272.6 1030.0,1176.8 1031.5,1273.8 1033.0,1332.6 1034.5,1326.8 1036.0,1306.1 1037.5,1335.6 1039.0,1472.0 1040.5,1515.3 1042.0,1490.1 1043.5,1486.1 1045.0,1479.5 1046.5,1463.4 1048.0,1409.6 1049.5,1412.5 1051.0,1443.3 1052.5,1394.9 1054.0,1347.2 1055.5,1410.4 1057.0,1472.7 1058.5,1441.9 1060.0,1387.9 1061.5,1403.2 1063.0,1458.5 1064.5,1483.4 1066.0,1437.1 1067.5,1321.9 1069.0,1293.7 1070.5,1357.9 1072.0,1471.3 1073.5,1427.1 1075.0,1328.2 1076.5,1534.5 1078.0,1616.1 1079.5,1575.8 1081.0,1514.9" fill="none" stroke="#bbbbbb" stroke-width="1.3" stroke-linejoin="round" stroke-linecap="round"/>
<polyline points="116.0,1637.4 119.0,1636.1 122.0,1634.9 125.0,1633.6 128.0,1632.2 131.0,1630.9 134.0,1629.5 137.0,1628.1 140.0,1626.7 143.0,1625.2 146.0,1623.7 149.0,1622.2 152.0,1620.6 155.0,1619.0 158.0,1617.4 161.0,1615.7 164.0,1614.0 167.0,1612.2 170.0,1610.4 173.0,1608.5 176.0,1606.6 179.0,1604.7 182.0,1602.6 185.0,1600.5 188.0,1598.4 191.0,1596.2 194.0,1593.9 197.0,1591.6 200.0,1589.1 203.0,1586.7 206.0,1584.1 209.0,1581.5 212.0,1578.7 215.0,1576.0 218.0,1573.1 221.0,1570.1 224.0,1567.1 227.0,1564.0 230.0,1560.8 233.0,1557.6 236.0,1554.3 239.0,1550.9 242.0,1547.5 245.0,1544.0 248.0,1540.5 251.0,1537.0 254.0,1533.4 257.0,1529.9 260.0,1526.5 263.0,1523.1 266.0,1519.7 269.0,1516.5 272.0,1513.4 275.0,1510.5 278.0,1507.7 281.0,1505.1 284.0,1502.8 287.0,1500.8 290.0,1499.0 293.0,1497.5 296.0,1496.3 299.0,1495.4 302.0,1494.8 305.0,1494.6 308.0,1494.6 311.0,1495.0 314.0,1495.6 317.0,1496.5 320.0,1497.6 323.0,1498.9 326.0,1500.4 329.0,1502.1 332.0,1503.9 335.0,1505.9 338.0,1507.9 341.0,1509.9 344.0,1512.0 347.0,1514.2 350.0,1516.3 353.0,1518.4 356.0,1520.5 359.0,1522.5 362.0,1524.5 365.0,1526.5 368.0,1528.4 371.0,1530.2 374.0,1531.9 377.0,1533.5 380.0,1535.1 383.0,1536.6 386.0,1538.0 389.0,1539.4 392.0,1540.6 395.0,1541.8 398.0,1542.9 401.0,1543.9 404.0,1544.9 407.0,1545.8 410.0,1546.6 413.0,1547.4 416.0,1548.1 419.0,1548.7 422.0,1549.3 425.0,1549.8 428.0,1550.3 431.0,1550.7 434.0,1551.1 437.0,1551.4 440.0,1551.7 443.0,1552.0 446.0,1552.2 449.0,1552.3 452.0,1552.5 455.0,1552.6 458.0,1552.6 461.0,1552.6 464.0,1552.6 467.0,1552.6 470.0,1552.5 473.0,1552.5 476.0,1552.3 479.0,1552.2 482.0,1552.0 485.0,1551.9 488.0,1551.6 491.0,1551.4 494.0,1551.2 497.0,1550.9 500.0,1550.6 503.0,1550.3 506.0,1550.0 509.0,1549.7 512.0,1549.3 515.0,1548.9 518.0,1548.6 521.0,1548.2 524.0,1547.7 527.0,1547.3 530.0,1546.9 533.0,1546.4 536.0,1546.0 539.0,1545.5 542.0,1545.0 545.0,1544.5 548.0,1544.0 551.0,1543.5 554.0,1543.0 557.0,1542.4 560.0,1541.9 563.0,1541.3 566.0,1540.7 569.0,1540.2 572.0,1539.6 575.0,1539.0 578.0,1538.4 581.0,1537.7 584.0,1537.1 587.0,1536.5 590.0,1535.8 593.0,1535.2 596.0,1534.5 599.0,1533.8 602.0,1533.2 605.0,1532.5 608.0,1531.8 611.0,1531.1 614.0,1530.4 617.0,1529.6 620.0,1528.9 623.0,1528.2 626.0,1527.4 629.0,1526.6 632.0,1525.9 635.0,1525.1 638.0,1524.3 641.0,1523.5 644.0,1522.7 647.0,1521.8 650.0,1521.0 653.0,1520.2 656.0,1519.3 659.0,1518.4 662.0,1517.5 665.0,1516.6 668.0,1515.7 671.0,1514.8 674.0,1513.9 677.0,1512.9 680.0,1511.9 683.0,1510.9 686.0,1509.9 689.0,1508.9 692.0,1507.9 695.0,1506.8 698.0,1505.7 701.0,1504.6 704.0,1503.5 707.0,1502.4 710.0,1501.2 713.0,1500.0 716.0,1498.8 719.0,1497.5 722.0,1496.2 725.0,1494.9 728.0,1493.6 731.0,1492.2 734.0,1490.8 737.0,1489.3 740.0,1487.8 743.0,1486.2 746.0,1484.6 749.0,1483.0 752.0,1481.3 755.0,1479.5 758.0,1477.7 761.0,1475.8 764.0,1473.9 767.0,1471.9 770.0,1469.8 773.0,1467.6 776.0,1465.3 779.0,1462.9 782.0,1460.5 785.0,1457.9 788.0,1455.2 791.0,1452.3 794.0,1449.3 797.0,1446.2 800.0,1442.9 803.0,1439.5 806.0,1435.8 809.0,1432.0 812.0,1427.9 815.0,1423.6 818.0,1419.0 821.0,1414.2 824.0,1409.1 827.0,1403.6 830.0,1397.9 833.0,1391.7 836.0,1385.2 839.0,1378.3 842.0,1370.9 845.0,1363.0 848.0,1354.7 851.0,1345.9 854.0,1336.6 857.0,1326.8 860.0,1316.5 863.0,1305.7 866.0,1294.5 869.0,1282.9 872.0,1271.0 875.0,1259.0 878.0,1246.9 881.0,1235.0 884.0,1223.6 887.0,1212.7 890.0,1202.7 893.0,1193.9 896.0,1186.6 899.0,1180.9 902.0,1177.1 905.0,1175.2 908.0,1175.4 911.0,1177.5 914.0,1181.5 917.0,1187.3 920.0,1194.5 923.0,1202.9 926.0,1212.3 929.0,1222.4 932.0,1233.0 935.0,1243.7 938.0,1254.4 941.0,1265.1 944.0,1275.4 947.0,1285.4 950.0,1295.0 953.0,1304.1 956.0,1312.7 959.0,1320.8 962.0,1328.4 965.0,1335.5 968.0,1342.2 971.0,1348.3 974.0,1354.1 977.0,1359.4 980.0,1364.3 983.0,1368.8 986.0,1373.0 989.0,1376.9 992.0,1380.5 995.0,1383.8 998.0,1386.9 1001.0,1389.7 1004.0,1392.3 1007.0,1394.7 1010.0,1396.9 1013.0,1398.9 1016.0,1400.8 1019.0,1402.5 1022.0,1404.1 1025.0,1405.5 1028.0,1406.9 1031.0,1408.1 1034.0,1409.2 1037.0,1410.2 1040.0,1411.1 1043.0,1411.9 1046.0,1412.7 1049.0,1413.4 1052.0,1414.0 1055.0,1414.5 1058.0,1415.0 1061.0,1415.4 1064.0,1415.8 1067.0,1416.1 1070.0,1416.4 1073.0,1416.6 1076.0,1416.8 1079.0,1417.0 1082.0,1417.1 1085.0,1417.2" fill="none" stroke="#ffff00" stroke-width="10" stroke-linejoin="round" stroke-linecap="round"/>
<polyline points="116.0,1660.2 119.0,1659.6 122.0,1658.9 125.0,1658.2 128.0,1657.5 131.0,1656.9 134.0,1656.2 137.0,1655.5 140.0,1654.8 143.0,1654.2 146.0,1653.5 149.0,1652.8 152.0,1652.2 155.0,1651.5 158.0,1650.8 161.0,1650.1 164.0,1649.5 167.0,1648.8 170.0,1648.1 173.0,1647.5 176.0,1646.8 179.0,1646.1 182.0,1645.4 185.0,1644.8 188.0,1644.1 191.0,1643.4 194.0,1642.7 197.0,1642.1 200.0,1641.4 203.0,1640.7 206.0,1640.1 209.0,1639.4 212.0,1638.7 215.0,1638.0 218.0,1637.4 221.0,1636.7 224.0,1636.0 227.0,1635.3 230.0,1634.7 233.0,1634.0 236.0,1633.3 239.0,1632.7 242.0,1632.0 245.0,1631.3 248.0,1630.6 251.0,1630.0 254.0,1629.3 257.0,1628.6 260.0,1628.0 263.0,1627.3 266.0,1626.6 269.0,1625.9 272.0,1625.3 275.0,1624.6 278.0,1623.9 281.0,1623.2 284.0,1622.6 287.0,1621.9 290.0,1621.2 293.0,1620.6 296.0,1619.9 299.0,1619.2 302.0,1618.5 305.0,1617.9 308.0,1617.2 311.0,1616.5 314.0,1615.9 317.0,1615.2 320.0,1614.5 323.0,1613.8 326.0,1613.2 329.0,1612.5 332.0,1611.8 335.0,1611.1 338.0,1610.5 341.0,1609.8 344.0,1609.1 347.0,1608.5 350.0,1607.8 353.0,1607.1 356.0,1606.4 359.0,1605.8 362.0,1605.1 365.0,1604.4 368.0,1603.8 371.0,1603.1 374.0,1602.4 377.0,1601.7 380.0,1601.1 383.0,1600.4 386.0,1599.7 389.0,1599.0 392.0,1598.4 395.0,1597.7 398.0,1597.0 401.0,1596.4 404.0,1595.7 407.0,1595.0 410.0,1594.3 413.0,1593.7 416.0,1593.0 419.0,1592.3 422.0,1591.6 425.0,1591.0 428.0,1590.3 431.0,1589.6 434.0,1589.0 437.0,1588.3 440.0,1587.6 443.0,1586.9 446.0,1586.3 449.0,1585.6 452.0,1584.9 455.0,1584.3 458.0,1583.6 461.0,1582.9 464.0,1582.2 467.0,1581.6 470.0,1580.9 473.0,1580.2 476.0,1579.5 479.0,1578.9 482.0,1578.2 485.0,1577.5 488.0,1576.9 491.0,1576.2 494.0,1575.5 497.0,1574.8 500.0,1574.2 503.0,1573.5 506.0,1572.8 509.0,1572.2 512.0,1571.5 515.0,1570.8 518.0,1570.1 521.0,1569.5 524.0,1568.8 527.0,1568.1 530.0,1567.4 533.0,1566.8 536.0,1566.1 539.0,1565.4 542.0,1564.8 545.0,1564.1 548.0,1563.4 551.0,1562.7 554.0,1562.1 557.0,1561.4 560.0,1560.7 563.0,1560.1 566.0,1559.4 569.0,1558.7 572.0,1558.0 575.0,1557.4 578.0,1556.7 581.0,1556.0 584.0,1555.3 587.0,1554.7 590.0,1554.0 593.0,1553.3 596.0,1552.7 599.0,1552.0 602.0,1551.3 605.0,1550.6 608.0,1550.0 611.0,1549.3 614.0,1548.6 617.0,1548.0 620.0,1547.3 623.0,1546.6 626.0,1545.9 629.0,1545.3 632.0,1544.6 635.0,1543.9 638.0,1543.2 641.0,1542.6 644.0,1541.9 647.0,1541.2 650.0,1540.6 653.0,1539.9 656.0,1539.2 659.0,1538.5 662.0,1537.9 665.0,1537.2 668.0,1536.5 671.0,1535.8 674.0,1535.2 677.0,1534.5 680.0,1533.8 683.0,1533.2 686.0,1532.5 689.0,1531.8 692.0,1531.1 695.0,1530.5 698.0,1529.8 701.0,1529.1 704.0,1528.5 707.0,1527.8 710.0,1527.1 713.0,1526.4 716.0,1525.8 719.0,1525.1 722.0,1524.4 725.0,1523.7 728.0,1523.1 731.0,1522.4 734.0,1521.7 737.0,1521.1 740.0,1520.4 743.0,1519.7 746.0,1519.0 749.0,1518.4 752.0,1517.7 755.0,1517.0 758.0,1516.4 761.0,1515.7 764.0,1515.0 767.0,1514.3 770.0,1513.7 773.0,1513.0 776.0,1512.3 779.0,1511.6 782.0,1511.0 785.0,1510.3 788.0,1509.6 791.0,1509.0 794.0,1508.3 797.0,1507.6 800.0,1506.9 803.0,1506.3 806.0,1505.6 809.0,1504.9 812.0,1504.3 815.0,1503.6 818.0,1502.9 821.0,1502.2 824.0,1501.6 827.0,1500.9 830.0,1500.2 833.0,1499.5 836.0,1498.9 839.0,1498.2 842.0,1497.5 845.0,1496.9 848.0,1496.2 851.0,1495.5 854.0,1494.8 857.0,1494.2 860.0,1493.5 863.0,1492.8 866.0,1492.1 869.0,1491.5 872.0,1490.8 875.0,1490.1 878.0,1489.5 881.0,1488.8 884.0,1488.1 887.0,1487.4 890.0,1486.8 893.0,1486.1 896.0,1485.4 899.0,1484.8 902.0,1484.1 905.0,1483.4 908.0,1482.7 911.0,1482.1 914.0,1481.4 917.0,1480.7 920.0,1480.0 923.0,1479.4 926.0,1478.7 929.0,1478.0 932.0,1477.4 935.0,1476.7 938.0,1476.0 941.0,1475.3 944.0,1474.7 947.0,1474.0 950.0,1473.3 953.0,1472.7 956.0,1472.0 959.0,1471.3 962.0,1470.6 965.0,1470.0 968.0,1469.3 971.0,1468.6 974.0,1467.9 977.0,1467.3 980.0,1466.6 983.0,1465.9 986.0,1465.3 989.0,1464.6 992.0,1463.9 995.0,1463.2 998.0,1462.6 1001.0,1461.9 1004.0,1461.2 1007.0,1460.6 1010.0,1459.9 1013.0,1459.2 1016.0,1458.5 1019.0,1457.9 1022.0,1457.2 1025.0,1456.5 1028.0,1455.8 1031.0,1455.2 1034.0,1454.5 1037.0,1453.8 1040.0,1453.2 1043.0,1452.5 1046.0,1451.8 1049.0,1451.1 1052.0,1450.5 1055.0,1449.8 1058.0,1449.1 1061.0,1448.4 1064.0,1447.8 1067.0,1447.1 1070.0,1446.4 1073.0,1445.8 1076.0,1445.1 1079.0,1444.4 1082.0,1443.7 1085.0,1443.1" fill="none" stroke="#ff0000" stroke-width="10" stroke-linejoin="round" stroke-linecap="round"/>
<polyline points="116.0,1657.9 119.0,1657.2 122.0,1656.5 125.0,1655.9 128.0,1655.2 131.0,1654.5 134.0,1653.8 137.0,1653.1 140.0,1652.4 143.0,1651.8 146.0,1651.1 149.0,1650.4 152.0,1649.7 155.0,1649.0 158.0,1648.3 161.0,1647.7 164.0,1647.0 167.0,1646.3 170.0,1645.6 173.0,1644.9 176.0,1644.2 179.0,1643.6 182.0,1642.9 185.0,1642.2 188.0,1641.5 191.0,1640.8 194.0,1640.1 197.0,1639.4 200.0,1638.8 203.0,1638.1 206.0,1637.4 209.0,1636.7 212.0,1636.0 215.0,1635.3 218.0,1634.6 221.0,1633.9 224.0,1633.3 227.0,1632.6 230.0,1631.9 233.0,1631.2 236.0,1630.5 239.0,1629.8 242.0,1629.1 245.0,1628.4 248.0,1627.7 251.0,1627.1 254.0,1626.4 257.0,1625.7 260.0,1625.0 263.0,1624.3 266.0,1623.6 269.0,1622.9 272.0,1622.2 275.0,1621.5 278.0,1620.8 281.0,1620.1 284.0,1619.5 287.0,1618.8 290.0,1618.1 293.0,1617.4 296.0,1616.7 299.0,1616.0 302.0,1615.3 305.0,1614.6 308.0,1613.9 311.0,1613.2 314.0,1612.5 317.0,1611.8 320.0,1611.1 323.0,1610.4 326.0,1609.7 329.0,1609.0 332.0,1608.3 335.0,1607.6 338.0,1606.9 341.0,1606.2 344.0,1605.5 347.0,1604.8 350.0,1604.1 353.0,1603.4 356.0,1602.7 359.0,1602.0 362.0,1601.3 365.0,1600.6 368.0,1599.9 371.0,1599.2 374.0,1598.5 377.0,1597.8 380.0,1597.1 383.0,1596.4 386.0,1595.7 389.0,1595.0 392.0,1594.3 395.0,1593.6 398.0,1592.9 401.0,1592.1 404.0,1591.4 407.0,1590.7 410.0,1590.0 413.0,1589.3 416.0,1588.6 419.0,1587.9 422.0,1587.2 425.0,1586.4 428.0,1585.7 431.0,1585.0 434.0,1584.3 437.0,1583.6 440.0,1582.9 443.0,1582.1 446.0,1581.4 449.0,1580.7 452.0,1580.0 455.0,1579.2 458.0,1578.5 461.0,1577.8 464.0,1577.1 467.0,1576.3 470.0,1575.6 473.0,1574.9 476.0,1574.1 479.0,1573.4 482.0,1572.7 485.0,1571.9 488.0,1571.2 491.0,1570.5 494.0,1569.7 497.0,1569.0 500.0,1568.2 503.0,1567.5 506.0,1566.7 509.0,1566.0 512.0,1565.2 515.0,1564.5 518.0,1563.7 521.0,1563.0 524.0,1562.2 527.0,1561.5 530.0,1560.7 533.0,1559.9 536.0,1559.2 539.0,1558.4 542.0,1557.6 545.0,1556.9 548.0,1556.1 551.0,1555.3 554.0,1554.5 557.0,1553.7 560.0,1553.0 563.0,1552.2 566.0,1551.4 569.0,1550.6 572.0,1549.8 575.0,1549.0 578.0,1548.2 581.0,1547.4 584.0,1546.6 587.0,1545.7 590.0,1544.9 593.0,1544.1 596.0,1543.3 599.0,1542.4 602.0,1541.6 605.0,1540.8 608.0,1539.9 611.0,1539.1 614.0,1538.2 617.0,1537.3 620.0,1536.5 623.0,1535.6 626.0,1534.7 629.0,1533.8 632.0,1532.9 635.0,1532.0 638.0,1531.1 641.0,1530.2 644.0,1529.3 647.0,1528.3 650.0,1527.4 653.0,1526.5 656.0,1525.5 659.0,1524.5 662.0,1523.5 665.0,1522.5 668.0,1521.5 671.0,1520.5 674.0,1519.5 677.0,1518.5 680.0,1517.4 683.0,1516.3 686.0,1515.3 689.0,1514.2 692.0,1513.0 695.0,1511.9 698.0,1510.7 701.0,1509.6 704.0,1508.4 707.0,1507.2 710.0,1505.9 713.0,1504.7 716.0,1503.4 719.0,1502.0 722.0,1500.7 725.0,1499.3 728.0,1497.9 731.0,1496.5 734.0,1495.0 737.0,1493.5 740.0,1491.9 743.0,1490.3 746.0,1488.7 749.0,1487.0 752.0,1485.2 755.0,1483.4 758.0,1481.6 761.0,1479.6 764.0,1477.6 767.0,1475.6 770.0,1473.4 773.0,1471.2 776.0,1468.9 779.0,1466.4 782.0,1463.9 785.0,1461.3 788.0,1458.5 791.0,1455.7 794.0,1452.6 797.0,1449.5 800.0,1446.1 803.0,1442.6 806.0,1439.0 809.0,1435.1 812.0,1431.0 815.0,1426.6 818.0,1422.0 821.0,1417.2 824.0,1412.0 827.0,1406.5 830.0,1400.7 833.0,1394.6 836.0,1388.0 839.0,1381.0 842.0,1373.6 845.0,1365.8 848.0,1357.4 851.0,1348.6 854.0,1339.3 857.0,1329.4 860.0,1319.1 863.0,1308.3 866.0,1297.0 869.0,1285.4 872.0,1273.5 875.0,1261.4 878.0,1249.4 881.0,1237.5 884.0,1225.9 887.0,1215.1 890.0,1205.1 893.0,1196.3 896.0,1188.9 899.0,1183.2 902.0,1179.3 905.0,1177.4 908.0,1177.6 911.0,1179.7 914.0,1183.7 917.0,1189.4 920.0,1196.6 923.0,1205.0 926.0,1214.4 929.0,1224.5 932.0,1235.0 935.0,1245.7 938.0,1256.4 941.0,1267.0 944.0,1277.4 947.0,1287.4 950.0,1296.9 953.0,1306.0 956.0,1314.6 959.0,1322.7 962.0,1330.3 965.0,1337.4 968.0,1344.0 971.0,1350.1 974.0,1355.9 977.0,1361.1 980.0,1366.0 983.0,1370.6 986.0,1374.8 989.0,1378.6 992.0,1382.2 995.0,1385.5 998.0,1388.6 1001.0,1391.4 1004.0,1394.0 1007.0,1396.3 1010.0,1398.5 1013.0,1400.5 1016.0,1402.4 1019.0,1404.1 1022.0,1405.7 1025.0,1407.1 1028.0,1408.4 1031.0,1409.6 1034.0,1410.7 1037.0,1411.7 1040.0,1412.6 1043.0,1413.4 1046.0,1414.2 1049.0,1414.8 1052.0,1415.4 1055.0,1416.0 1058.0,1416.4 1061.0,1416.8 1064.0,1417.2 1067.0,1417.5 1070.0,1417.8 1073.0,1418.0 1076.0,1418.2 1079.0,1418.3 1082.0,1418.4 1085.0,1418.5" fill="none" stroke="#009400" stroke-width="11" stroke-linejoin="round" stroke-linecap="round"/>
<polyline points="116.0,1638.7 119.0,1637.5 122.0,1636.2 125.0,1634.9 128.0,1633.6 131.0,1632.3 134.0,1630.9 137.0,1629.5 140.0,1628.1 143.0,1626.6 146.0,1625.2 149.0,1623.6 152.0,1622.1 155.0,1620.5 158.0,1618.9 161.0,1617.2 164.0,1615.5 167.0,1613.7 170.0,1611.9 173.0,1610.1 176.0,1608.2 179.0,1606.2 182.0,1604.2 185.0,1602.1 188.0,1600.0 191.0,1597.8 194.0,1595.5 197.0,1593.2 200.0,1590.8 203.0,1588.3 206.0,1585.8 209.0,1583.2 212.0,1580.5 215.0,1577.7 218.0,1574.8 221.0,1571.9 224.0,1568.9 227.0,1565.8 230.0,1562.6 233.0,1559.4 236.0,1556.1 239.0,1552.7 242.0,1549.3 245.0,1545.9 248.0,1542.4 251.0,1538.9 254.0,1535.4 257.0,1531.9 260.0,1528.4 263.0,1525.0 266.0,1521.7 269.0,1518.5 272.0,1515.4 275.0,1512.5 278.0,1509.8 281.0,1507.2 284.0,1504.9 287.0,1502.9 290.0,1501.1 293.0,1499.6 296.0,1498.5 299.0,1497.6 302.0,1497.1 305.0,1496.8 308.0,1496.9 311.0,1497.3 314.0,1497.9 317.0,1498.8 320.0,1500.0 323.0,1501.3 326.0,1502.9 329.0,1504.6 332.0,1506.4 335.0,1508.4 338.0,1510.4 341.0,1512.5 344.0,1514.6 347.0,1516.8 350.0,1519.0 353.0,1521.1 356.0,1523.2 359.0,1525.3 362.0,1527.3 365.0,1529.3 368.0,1531.2 371.0,1533.0 374.0,1534.8 377.0,1536.5 380.0,1538.1 383.0,1539.6 386.0,1541.0 389.0,1542.4 392.0,1543.7 395.0,1544.9 398.0,1546.1 401.0,1547.1 404.0,1548.1 407.0,1549.1 410.0,1549.9 413.0,1550.7 416.0,1551.5 419.0,1552.2 422.0,1552.8 425.0,1553.4 428.0,1553.9 431.0,1554.3 434.0,1554.8 437.0,1555.1 440.0,1555.5 443.0,1555.8 446.0,1556.0 449.0,1556.2 452.0,1556.4 455.0,1556.6 458.0,1556.7 461.0,1556.8 464.0,1556.8 467.0,1556.8 470.0,1556.8 473.0,1556.8 476.0,1556.7 479.0,1556.7 482.0,1556.6 485.0,1556.5 488.0,1556.3 491.0,1556.1 494.0,1556.0 497.0,1555.8 500.0,1555.6 503.0,1555.3 506.0,1555.1 509.0,1554.8 512.0,1554.5 515.0,1554.3 518.0,1554.0 521.0,1553.6 524.0,1553.3 527.0,1553.0 530.0,1552.6 533.0,1552.3 536.0,1551.9 539.0,1551.5 542.0,1551.1 545.0,1550.7 548.0,1550.3 551.0,1549.9 554.0,1549.5 557.0,1549.1 560.0,1548.6 563.0,1548.2 566.0,1547.7 569.0,1547.3 572.0,1546.8 575.0,1546.3 578.0,1545.9 581.0,1545.4 584.0,1544.9 587.0,1544.4 590.0,1543.9 593.0,1543.4 596.0,1542.9 599.0,1542.4 602.0,1541.9 605.0,1541.4 608.0,1540.8 611.0,1540.3 614.0,1539.8 617.0,1539.2 620.0,1538.7 623.0,1538.2 626.0,1537.6 629.0,1537.1 632.0,1536.5 635.0,1536.0 638.0,1535.4 641.0,1534.9 644.0,1534.3 647.0,1533.7 650.0,1533.2 653.0,1532.6 656.0,1532.0 659.0,1531.4 662.0,1530.9 665.0,1530.3 668.0,1529.7 671.0,1529.1 674.0,1528.5 677.0,1527.9 680.0,1527.4 683.0,1526.8 686.0,1526.2 689.0,1525.6 692.0,1525.0 695.0,1524.4 698.0,1523.8 701.0,1523.2 704.0,1522.6 707.0,1522.0 710.0,1521.4 713.0,1520.8 716.0,1520.2 719.0,1519.6 722.0,1518.9 725.0,1518.3 728.0,1517.7 731.0,1517.1 734.0,1516.5 737.0,1515.9 740.0,1515.3 743.0,1514.6 746.0,1514.0 749.0,1513.4 752.0,1512.8 755.0,1512.2 758.0,1511.5 761.0,1510.9 764.0,1510.3 767.0,1509.7 770.0,1509.0 773.0,1508.4 776.0,1507.8 779.0,1507.1 782.0,1506.5 785.0,1505.9 788.0,1505.2 791.0,1504.6 794.0,1504.0 797.0,1503.3 800.0,1502.7 803.0,1502.1 806.0,1501.4 809.0,1500.8 812.0,1500.2 815.0,1499.5 818.0,1498.9 821.0,1498.3 824.0,1497.6 827.0,1497.0 830.0,1496.3 833.0,1495.7 836.0,1495.1 839.0,1494.4 842.0,1493.8 845.0,1493.1 848.0,1492.5 851.0,1491.8 854.0,1491.2 857.0,1490.6 860.0,1489.9 863.0,1489.3 866.0,1488.6 869.0,1488.0 872.0,1487.3 875.0,1486.7 878.0,1486.0 881.0,1485.4 884.0,1484.7 887.0,1484.1 890.0,1483.4 893.0,1482.8 896.0,1482.1 899.0,1481.5 902.0,1480.8 905.0,1480.2 908.0,1479.5 911.0,1478.9 914.0,1478.2 917.0,1477.6 920.0,1476.9 923.0,1476.3 926.0,1475.6 929.0,1475.0 932.0,1474.3 935.0,1473.7 938.0,1473.0 941.0,1472.4 944.0,1471.7 947.0,1471.0 950.0,1470.4 953.0,1469.7 956.0,1469.1 959.0,1468.4 962.0,1467.8 965.0,1467.1 968.0,1466.5 971.0,1465.8 974.0,1465.1 977.0,1464.5 980.0,1463.8 983.0,1463.2 986.0,1462.5 989.0,1461.9 992.0,1461.2 995.0,1460.5 998.0,1459.9 1001.0,1459.2 1004.0,1458.6 1007.0,1457.9 1010.0,1457.3 1013.0,1456.6 1016.0,1455.9 1019.0,1455.3 1022.0,1454.6 1025.0,1454.0 1028.0,1453.3 1031.0,1452.6 1034.0,1452.0 1037.0,1451.3 1040.0,1450.7 1043.0,1450.0 1046.0,1449.3 1049.0,1448.7 1052.0,1448.0 1055.0,1447.4 1058.0,1446.7 1061.0,1446.0 1064.0,1445.4 1067.0,1444.7 1070.0,1444.1 1073.0,1443.4 1076.0,1442.7 1079.0,1442.1 1082.0,1441.4 1085.0,1440.7" fill="none" stroke="#ff44aa" stroke-width="10.5" stroke-linejoin="round" stroke-linecap="round"/>
</g>
<clipPath id="cd"><rect x="1199" y="959" width="963" height="749"/></clipPath>
<g clip-path="url(#cd)">
<path d="M1189.9,1594.5L1198.9,1612.5L1180.9,1612.5ZM1198.7,1594.8L1207.7,1612.8L1189.7,1612.8ZM1207.6,1595.1L1216.6,1613.1L1198.6,1613.1ZM1216.4,1595.5L1225.4,1613.5L1207.4,1613.5ZM1225.2,1595.8L1234.2,1613.8L1216.2,1613.8ZM1234.1,1596.1L1243.1,1614.1L1225.1,1614.1ZM1242.9,1596.5L1251.9,1614.5L1233.9,1614.5ZM1251.7,1596.8L1260.7,1614.8L1242.7,1614.8ZM1260.6,1597.2L1269.6,1615.2L1251.6,1615.2ZM1269.4,1597.5L1278.4,1615.5L1260.4,1615.5ZM1278.2,1597.8L1287.2,1615.8L1269.2,1615.8ZM1287.1,1598.2L1296.1,1616.2L1278.1,1616.2ZM1295.9,1598.5L1304.9,1616.5L1286.9,1616.5ZM1304.7,1598.8L1313.7,1616.8L1295.7,1616.8ZM1313.6,1599.2L1322.6,1617.2L1304.6,1617.2ZM1322.4,1599.5L1331.4,1617.5L1313.4,1617.5ZM1331.2,1599.9L1340.2,1617.9L1322.2,1617.9ZM1340.1,1600.2L1349.1,1618.2L1331.1,1618.2ZM1348.9,1600.5L1357.9,1618.5L1339.9,1618.5ZM1357.7,1600.9L1366.7,1618.9L1348.7,1618.9ZM1366.6,1601.2L1375.6,1619.2L1357.6,1619.2ZM1375.4,1601.5L1384.4,1619.5L1366.4,1619.5ZM1384.3,1601.9L1393.3,1619.9L1375.3,1619.9ZM1393.1,1602.2L1402.1,1620.2L1384.1,1620.2ZM1401.9,1602.6L1410.9,1620.6L1392.9,1620.6ZM1410.8,1602.9L1419.8,1620.9L1401.8,1620.9ZM1419.6,1603.2L1428.6,1621.2L1410.6,1621.2ZM1428.4,1603.6L1437.4,1621.6L1419.4,1621.6ZM1437.3,1603.9L1446.3,1621.9L1428.3,1621.9ZM1446.1,1604.2L1455.1,1622.2L1437.1,1622.2ZM1454.9,1604.6L1463.9,1622.6L1445.9,1622.6ZM1463.8,1604.9L1472.8,1622.9L1454.8,1622.9ZM1472.6,1605.3L1481.6,1623.3L1463.6,1623.3ZM1481.4,1605.6L1490.4,1623.6L1472.4,1623.6ZM1490.3,1605.9L1499.3,1623.9L1481.3,1623.9ZM1499.1,1606.3L1508.1,1624.3L1490.1,1624.3ZM1507.9,1606.6L1516.9,1624.6L1498.9,1624.6ZM1516.8,1606.9L1525.8,1624.9L1507.8,1624.9ZM1525.6,1607.3L1534.6,1625.3L1516.6,1625.3ZM1534.4,1607.6L1543.4,1625.6L1525.4,1625.6ZM1543.3,1608.0L1552.3,1626.0L1534.3,1626.0ZM1552.1,1608.3L1561.1,1626.3L1543.1,1626.3ZM1561.0,1608.6L1570.0,1626.6L1552.0,1626.6ZM1569.8,1609.0L1578.8,1627.0L1560.8,1627.0ZM1578.6,1609.3L1587.6,1627.3L1569.6,1627.3ZM1587.5,1609.6L1596.5,1627.6L1578.5,1627.6ZM1596.3,1610.0L1605.3,1628.0L1587.3,1628.0ZM1605.1,1610.3L1614.1,1628.3L1596.1,1628.3ZM1614.0,1610.7L1623.0,1628.7L1605.0,1628.7ZM1622.8,1611.0L1631.8,1629.0L1613.8,1629.0ZM1631.6,1611.3L1640.6,1629.3L1622.6,1629.3ZM1640.5,1611.7L1649.5,1629.7L1631.5,1629.7ZM1649.3,1612.0L1658.3,1630.0L1640.3,1630.0ZM1658.1,1612.3L1667.1,1630.3L1649.1,1630.3ZM1667.0,1612.7L1676.0,1630.7L1658.0,1630.7ZM1675.8,1613.0L1684.8,1631.0L1666.8,1631.0ZM1684.6,1613.4L1693.6,1631.4L1675.6,1631.4ZM1693.5,1613.7L1702.5,1631.7L1684.5,1631.7ZM1702.3,1614.0L1711.3,1632.0L1693.3,1632.0ZM1711.1,1614.4L1720.1,1632.4L1702.1,1632.4ZM1720.0,1614.7L1729.0,1632.7L1711.0,1632.7ZM1728.8,1615.0L1737.8,1633.0L1719.8,1633.0ZM1737.7,1615.4L1746.7,1633.4L1728.7,1633.4ZM1746.5,1615.7L1755.5,1633.7L1737.5,1633.7ZM1755.3,1616.1L1764.3,1634.1L1746.3,1634.1ZM1764.2,1616.4L1773.2,1634.4L1755.2,1634.4ZM1773.0,1616.7L1782.0,1634.7L1764.0,1634.7ZM1781.8,1617.1L1790.8,1635.1L1772.8,1635.1ZM1790.7,1617.4L1799.7,1635.4L1781.7,1635.4ZM1799.5,1617.7L1808.5,1635.7L1790.5,1635.7ZM1808.3,1618.1L1817.3,1636.1L1799.3,1636.1ZM1817.2,1618.4L1826.2,1636.4L1808.2,1636.4ZM1826.0,1618.8L1835.0,1636.8L1817.0,1636.8ZM1834.8,1619.1L1843.8,1637.1L1825.8,1637.1ZM1843.7,1619.4L1852.7,1637.4L1834.7,1637.4ZM1852.5,1619.8L1861.5,1637.8L1843.5,1637.8ZM1861.3,1620.1L1870.3,1638.1L1852.3,1638.1ZM1870.2,1620.4L1879.2,1638.4L1861.2,1638.4ZM1879.0,1620.8L1888.0,1638.8L1870.0,1638.8ZM1887.8,1621.1L1896.8,1639.1L1878.8,1639.1ZM1896.7,1621.5L1905.7,1639.5L1887.7,1639.5ZM1905.5,1621.8L1914.5,1639.8L1896.5,1639.8ZM1914.4,1622.1L1923.4,1640.1L1905.4,1640.1ZM1923.2,1622.5L1932.2,1640.5L1914.2,1640.5ZM1932.0,1622.8L1941.0,1640.8L1923.0,1640.8ZM1940.9,1623.1L1949.9,1641.1L1931.9,1641.1ZM1949.7,1623.5L1958.7,1641.5L1940.7,1641.5ZM1958.5,1623.8L1967.5,1641.8L1949.5,1641.8ZM1967.4,1624.2L1976.4,1642.2L1958.4,1642.2ZM1976.2,1624.5L1985.2,1642.5L1967.2,1642.5ZM1985.0,1624.8L1994.0,1642.8L1976.0,1642.8ZM1993.9,1625.2L2002.9,1643.2L1984.9,1643.2ZM2002.7,1625.5L2011.7,1643.5L1993.7,1643.5ZM2011.5,1625.8L2020.5,1643.8L2002.5,1643.8ZM2020.4,1626.2L2029.4,1644.2L2011.4,1644.2ZM2029.2,1626.5L2038.2,1644.5L2020.2,1644.5ZM2038.0,1626.9L2047.0,1644.9L2029.0,1644.9ZM2046.9,1627.2L2055.9,1645.2L2037.9,1645.2ZM2055.7,1627.5L2064.7,1645.5L2046.7,1645.5ZM2064.5,1627.9L2073.5,1645.9L2055.5,1645.9ZM2073.4,1628.2L2082.4,1646.2L2064.4,1646.2ZM2082.2,1628.5L2091.2,1646.5L2073.2,1646.5ZM2091.1,1628.9L2100.1,1646.9L2082.1,1646.9ZM2099.9,1629.2L2108.9,1647.2L2090.9,1647.2ZM2108.7,1629.6L2117.7,1647.6L2099.7,1647.6ZM2117.6,1629.9L2126.6,1647.9L2108.6,1647.9ZM2126.4,1630.2L2135.4,1648.2L2117.4,1648.2ZM2135.2,1630.6L2144.2,1648.6L2126.2,1648.6ZM2144.1,1630.9L2153.1,1648.9L2135.1,1648.9Z" fill="#1e6fdc"/>
<circle cx="1189.9" cy="1607.5" r="8.8" fill="url(#gU)"/>
<circle cx="1198.7" cy="1606.5" r="8.8" fill="url(#gU)"/>
<circle cx="1207.6" cy="1613.8" r="8.8" fill="url(#gU)"/>
<circle cx="1216.4" cy="1596.3" r="8.8" fill="url(#gU)"/>
<circle cx="1225.2" cy="1606.9" r="8.8" fill="url(#gU)"/>
<circle cx="1234.1" cy="1598.7" r="8.8" fill="url(#gU)"/>
<circle cx="1242.9" cy="1606.1" r="8.8" fill="url(#gU)"/>
<circle cx="1251.7" cy="1610.5" r="8.8" fill="url(#gU)"/>
<circle cx="1260.6" cy="1609.9" r="8.8" fill="url(#gU)"/>
<circle cx="1269.4" cy="1605.9" r="8.8" fill="url(#gU)"/>
<circle cx="1278.2" cy="1603.9" r="8.8" fill="url(#gU)"/>
<circle cx="1287.1" cy="1606.6" r="8.8" fill="url(#gU)"/>
<circle cx="1295.9" cy="1605.5" r="8.8" fill="url(#gU)"/>
<circle cx="1304.7" cy="1604.2" r="8.8" fill="url(#gU)"/>
<circle cx="1313.6" cy="1609.7" r="8.8" fill="url(#gU)"/>
<circle cx="1322.4" cy="1609.1" r="8.8" fill="url(#gU)"/>
<circle cx="1331.2" cy="1604.3" r="8.8" fill="url(#gU)"/>
<circle cx="1340.1" cy="1608.3" r="8.8" fill="url(#gU)"/>
<circle cx="1348.9" cy="1604.9" r="8.8" fill="url(#gU)"/>
<circle cx="1357.7" cy="1601.0" r="8.8" fill="url(#gU)"/>
<circle cx="1366.6" cy="1604.8" r="8.8" fill="url(#gU)"/>
<circle cx="1375.4" cy="1603.0" r="8.8" fill="url(#gU)"/>
<circle cx="1384.3" cy="1596.9" r="8.8" fill="url(#gU)"/>
<circle cx="1393.1" cy="1597.5" r="8.8" fill="url(#gU)"/>
<circle cx="1401.9" cy="1593.6" r="8.8" fill="url(#gU)"/>
<circle cx="1410.8" cy="1589.5" r="8.8" fill="url(#gU)"/>
<circle cx="1419.6" cy="1600.1" r="8.8" fill="url(#gU)"/>
<circle cx="1428.4" cy="1586.4" r="8.8" fill="url(#gU)"/>
<circle cx="1437.3" cy="1581.4" r="8.8" fill="url(#gU)"/>
<circle cx="1446.1" cy="1583.0" r="8.8" fill="url(#gU)"/>
<circle cx="1454.9" cy="1570.2" r="8.8" fill="url(#gU)"/>
<circle cx="1463.8" cy="1571.3" r="8.8" fill="url(#gU)"/>
<circle cx="1472.6" cy="1568.5" r="8.8" fill="url(#gU)"/>
<circle cx="1481.4" cy="1556.3" r="8.8" fill="url(#gU)"/>
<circle cx="1490.3" cy="1546.2" r="8.8" fill="url(#gU)"/>
<circle cx="1499.1" cy="1539.9" r="8.8" fill="url(#gU)"/>
<circle cx="1507.9" cy="1542.2" r="8.8" fill="url(#gU)"/>
<circle cx="1516.8" cy="1534.4" r="8.8" fill="url(#gU)"/>
<circle cx="1525.6" cy="1528.0" r="8.8" fill="url(#gU)"/>
<circle cx="1534.4" cy="1516.1" r="8.8" fill="url(#gU)"/>
<circle cx="1543.3" cy="1502.7" r="8.8" fill="url(#gU)"/>
<circle cx="1552.1" cy="1497.3" r="8.8" fill="url(#gU)"/>
<circle cx="1561.0" cy="1489.7" r="8.8" fill="url(#gU)"/>
<circle cx="1569.8" cy="1471.8" r="8.8" fill="url(#gU)"/>
<circle cx="1578.6" cy="1473.3" r="8.8" fill="url(#gU)"/>
<circle cx="1587.5" cy="1457.7" r="8.8" fill="url(#gU)"/>
<circle cx="1596.3" cy="1438.4" r="8.8" fill="url(#gU)"/>
<circle cx="1605.1" cy="1431.6" r="8.8" fill="url(#gU)"/>
<circle cx="1614.0" cy="1401.8" r="8.8" fill="url(#gU)"/>
<circle cx="1622.8" cy="1379.5" r="8.8" fill="url(#gU)"/>
<circle cx="1631.6" cy="1354.4" r="8.8" fill="url(#gU)"/>
<circle cx="1640.5" cy="1326.9" r="8.8" fill="url(#gU)"/>
<circle cx="1649.3" cy="1299.4" r="8.8" fill="url(#gU)"/>
<circle cx="1658.1" cy="1257.4" r="8.8" fill="url(#gU)"/>
<circle cx="1667.0" cy="1220.8" r="8.8" fill="url(#gU)"/>
<circle cx="1675.8" cy="1188.0" r="8.8" fill="url(#gU)"/>
<circle cx="1684.6" cy="1146.9" r="8.8" fill="url(#gU)"/>
<circle cx="1693.5" cy="1118.8" r="8.8" fill="url(#gU)"/>
<circle cx="1702.3" cy="1091.8" r="8.8" fill="url(#gU)"/>
<circle cx="1711.1" cy="1072.0" r="8.8" fill="url(#gU)"/>
<circle cx="1720.0" cy="1048.7" r="8.8" fill="url(#gU)"/>
<circle cx="1728.8" cy="1040.5" r="8.8" fill="url(#gU)"/>
<circle cx="1737.7" cy="1053.1" r="8.8" fill="url(#gU)"/>
<circle cx="1746.5" cy="1061.1" r="8.8" fill="url(#gU)"/>
<circle cx="1755.3" cy="1081.7" r="8.8" fill="url(#gU)"/>
<circle cx="1764.2" cy="1109.7" r="8.8" fill="url(#gU)"/>
<circle cx="1773.0" cy="1137.6" r="8.8" fill="url(#gU)"/>
<circle cx="1781.8" cy="1189.0" r="8.8" fill="url(#gU)"/>
<circle cx="1790.7" cy="1229.9" r="8.8" fill="url(#gU)"/>
<circle cx="1799.5" cy="1273.8" r="8.8" fill="url(#gU)"/>
<circle cx="1808.3" cy="1312.0" r="8.8" fill="url(#gU)"/>
<circle cx="1817.2" cy="1362.7" r="8.8" fill="url(#gU)"/>
<circle cx="1826.0" cy="1406.9" r="8.8" fill="url(#gU)"/>
<circle cx="1834.8" cy="1446.9" r="8.8" fill="url(#gU)"/>
<circle cx="1843.7" cy="1476.3" r="8.8" fill="url(#gU)"/>
<circle cx="1852.5" cy="1510.6" r="8.8" fill="url(#gU)"/>
<circle cx="1861.3" cy="1535.3" r="8.8" fill="url(#gU)"/>
<circle cx="1870.2" cy="1554.5" r="8.8" fill="url(#gU)"/>
<circle cx="1879.0" cy="1575.2" r="8.8" fill="url(#gU)"/>
<circle cx="1887.8" cy="1593.1" r="8.8" fill="url(#gU)"/>
<circle cx="1896.7" cy="1598.6" r="8.8" fill="url(#gU)"/>
<circle cx="1905.5" cy="1615.6" r="8.8" fill="url(#gU)"/>
<circle cx="1914.4" cy="1615.9" r="8.8" fill="url(#gU)"/>
<circle cx="1923.2" cy="1616.9" r="8.8" fill="url(#gU)"/>
<circle cx="1932.0" cy="1620.0" r="8.8" fill="url(#gU)"/>
<circle cx="1940.9" cy="1623.2" r="8.8" fill="url(#gU)"/>
<circle cx="1949.7" cy="1623.6" r="8.8" fill="url(#gU)"/>
<circle cx="1958.5" cy="1635.3" r="8.8" fill="url(#gU)"/>
<circle cx="1967.4" cy="1626.4" r="8.8" fill="url(#gU)"/>
<circle cx="1976.2" cy="1625.7" r="8.8" fill="url(#gU)"/>
<circle cx="1985.0" cy="1624.1" r="8.8" fill="url(#gU)"/>
<circle cx="1993.9" cy="1628.9" r="8.8" fill="url(#gU)"/>
<circle cx="2002.7" cy="1633.3" r="8.8" fill="url(#gU)"/>
<circle cx="2011.5" cy="1630.6" r="8.8" fill="url(#gU)"/>
<circle cx="2020.4" cy="1642.2" r="8.8" fill="url(#gU)"/>
<circle cx="2029.2" cy="1639.0" r="8.8" fill="url(#gU)"/>
<circle cx="2038.0" cy="1626.5" r="8.8" fill="url(#gU)"/>
<circle cx="2046.9" cy="1636.9" r="8.8" fill="url(#gU)"/>
<circle cx="2055.7" cy="1632.9" r="8.8" fill="url(#gU)"/>
<circle cx="2064.5" cy="1634.7" r="8.8" fill="url(#gU)"/>
<circle cx="2073.4" cy="1633.5" r="8.8" fill="url(#gU)"/>
<circle cx="2082.2" cy="1640.9" r="8.8" fill="url(#gU)"/>
<circle cx="2091.1" cy="1633.3" r="8.8" fill="url(#gU)"/>
<circle cx="2099.9" cy="1639.4" r="8.8" fill="url(#gU)"/>
<circle cx="2108.7" cy="1639.2" r="8.8" fill="url(#gU)"/>
<circle cx="2117.6" cy="1635.3" r="8.8" fill="url(#gU)"/>
<circle cx="2126.4" cy="1633.0" r="8.8" fill="url(#gU)"/>
<circle cx="2135.2" cy="1638.1" r="8.8" fill="url(#gU)"/>
<circle cx="2144.1" cy="1641.3" r="8.8" fill="url(#gU)"/>
<polyline points="1189.9,1604.0 1198.7,1604.3 1207.6,1604.5 1216.4,1604.8 1225.2,1605.1 1234.1,1605.3 1242.9,1605.5 1251.7,1605.8 1260.6,1606.0 1269.4,1606.2 1278.2,1606.3 1287.1,1606.4 1295.9,1606.5 1304.7,1606.6 1313.6,1606.5 1322.4,1606.4 1331.2,1606.2 1340.1,1605.8 1348.9,1605.3 1357.7,1604.6 1366.6,1603.6 1375.4,1602.4 1384.3,1600.9 1393.1,1599.0 1401.9,1596.8 1410.8,1594.1 1419.6,1591.0 1428.4,1587.4 1437.3,1583.3 1446.1,1578.8 1454.9,1573.7 1463.8,1568.2 1472.6,1562.3 1481.4,1556.1 1490.3,1549.5 1499.1,1542.7 1507.9,1535.8 1516.8,1528.6 1525.6,1521.4 1534.4,1514.0 1543.3,1506.4 1552.1,1498.4 1561.0,1489.9 1569.8,1480.6 1578.6,1470.0 1587.5,1457.9 1596.3,1443.6 1605.1,1426.7 1614.0,1406.9 1622.8,1383.9 1631.6,1357.5 1640.5,1327.7 1649.3,1295.1 1658.1,1260.2 1667.0,1223.9 1675.8,1187.5 1684.6,1152.3 1693.5,1119.8 1702.3,1091.6 1711.1,1069.2 1720.0,1054.0 1728.8,1047.0 1737.7,1048.8 1746.5,1059.9 1755.3,1079.9 1764.2,1107.9 1773.0,1142.6 1781.8,1182.6 1790.7,1226.1 1799.5,1271.4 1808.3,1316.9 1817.2,1361.1 1826.0,1402.9 1834.8,1441.4 1843.7,1476.0 1852.5,1506.3 1861.3,1532.3 1870.2,1554.1 1879.0,1572.1 1887.8,1586.6 1896.7,1598.1 1905.5,1607.1 1914.4,1614.0 1923.2,1619.3 1932.0,1623.2 1940.9,1626.1 1949.7,1628.3 1958.5,1630.0 1967.4,1631.3 1976.2,1632.3 1985.0,1633.1 1993.9,1633.7 2002.7,1634.3 2011.5,1634.8 2020.4,1635.3 2029.2,1635.8 2038.0,1636.2 2046.9,1636.7 2055.7,1637.1 2064.5,1637.5 2073.4,1637.9 2082.2,1638.3 2091.1,1638.7 2099.9,1639.1 2108.7,1639.5 2117.6,1639.9 2126.4,1640.2 2135.2,1640.6 2144.1,1641.0" fill="none" stroke="#444" stroke-width="1.2" stroke-linejoin="round" stroke-linecap="round"/>
<circle cx="1189.9" cy="1604.3" r="8.8" fill="url(#gG)"/>
<circle cx="1198.7" cy="1604.6" r="8.8" fill="url(#gG)"/>
<circle cx="1207.6" cy="1604.8" r="8.8" fill="url(#gG)"/>
<circle cx="1216.4" cy="1605.1" r="8.8" fill="url(#gG)"/>
<circle cx="1225.2" cy="1605.4" r="8.8" fill="url(#gG)"/>
<circle cx="1234.1" cy="1605.6" r="8.8" fill="url(#gG)"/>
<circle cx="1242.9" cy="1605.9" r="8.8" fill="url(#gG)"/>
<circle cx="1251.7" cy="1606.1" r="8.8" fill="url(#gG)"/>
<circle cx="1260.6" cy="1606.3" r="8.8" fill="url(#gG)"/>
<circle cx="1269.4" cy="1606.5" r="8.8" fill="url(#gG)"/>
<circle cx="1278.2" cy="1606.7" r="8.8" fill="url(#gG)"/>
<circle cx="1287.1" cy="1606.8" r="8.8" fill="url(#gG)"/>
<circle cx="1295.9" cy="1606.9" r="8.8" fill="url(#gG)"/>
<circle cx="1304.7" cy="1607.0" r="8.8" fill="url(#gG)"/>
<circle cx="1313.6" cy="1607.0" r="8.8" fill="url(#gG)"/>
<circle cx="1322.4" cy="1606.9" r="8.8" fill="url(#gG)"/>
<circle cx="1331.2" cy="1606.6" r="8.8" fill="url(#gG)"/>
<circle cx="1340.1" cy="1606.3" r="8.8" fill="url(#gG)"/>
<circle cx="1348.9" cy="1605.8" r="8.8" fill="url(#gG)"/>
<circle cx="1357.7" cy="1605.1" r="8.8" fill="url(#gG)"/>
<circle cx="1366.6" cy="1604.2" r="8.8" fill="url(#gG)"/>
<circle cx="1375.4" cy="1603.0" r="8.8" fill="url(#gG)"/>
<circle cx="1384.3" cy="1601.5" r="8.8" fill="url(#gG)"/>
<circle cx="1393.1" cy="1599.7" r="8.8" fill="url(#gG)"/>
<circle cx="1401.9" cy="1597.5" r="8.8" fill="url(#gG)"/>
<circle cx="1410.8" cy="1594.9" r="8.8" fill="url(#gG)"/>
<circle cx="1419.6" cy="1591.8" r="8.8" fill="url(#gG)"/>
<circle cx="1428.4" cy="1588.2" r="8.8" fill="url(#gG)"/>
<circle cx="1437.3" cy="1584.2" r="8.8" fill="url(#gG)"/>
<circle cx="1446.1" cy="1579.7" r="8.8" fill="url(#gG)"/>
<circle cx="1454.9" cy="1574.7" r="8.8" fill="url(#gG)"/>
<circle cx="1463.8" cy="1569.4" r="8.8" fill="url(#gG)"/>
<circle cx="1472.6" cy="1563.6" r="8.8" fill="url(#gG)"/>
<circle cx="1481.4" cy="1557.5" r="8.8" fill="url(#gG)"/>
<circle cx="1490.3" cy="1551.2" r="8.8" fill="url(#gG)"/>
<circle cx="1499.1" cy="1544.7" r="8.8" fill="url(#gG)"/>
<circle cx="1507.9" cy="1538.1" r="8.8" fill="url(#gG)"/>
<circle cx="1516.8" cy="1531.4" r="8.8" fill="url(#gG)"/>
<circle cx="1525.6" cy="1524.8" r="8.8" fill="url(#gG)"/>
<circle cx="1534.4" cy="1518.1" r="8.8" fill="url(#gG)"/>
<circle cx="1543.3" cy="1511.4" r="8.8" fill="url(#gG)"/>
<circle cx="1552.1" cy="1504.5" r="8.8" fill="url(#gG)"/>
<circle cx="1561.0" cy="1497.2" r="8.8" fill="url(#gG)"/>
<circle cx="1569.8" cy="1489.1" r="8.8" fill="url(#gG)"/>
<circle cx="1578.6" cy="1479.9" r="8.8" fill="url(#gG)"/>
<circle cx="1587.5" cy="1469.0" r="8.8" fill="url(#gG)"/>
<circle cx="1596.3" cy="1455.9" r="8.8" fill="url(#gG)"/>
<circle cx="1605.1" cy="1440.0" r="8.8" fill="url(#gG)"/>
<circle cx="1614.0" cy="1420.7" r="8.8" fill="url(#gG)"/>
<circle cx="1622.8" cy="1397.5" r="8.8" fill="url(#gG)"/>
<circle cx="1631.6" cy="1370.4" r="8.8" fill="url(#gG)"/>
<circle cx="1640.5" cy="1339.2" r="8.8" fill="url(#gG)"/>
<circle cx="1649.3" cy="1304.5" r="8.8" fill="url(#gG)"/>
<circle cx="1658.1" cy="1266.8" r="8.8" fill="url(#gG)"/>
<circle cx="1667.0" cy="1227.2" r="8.8" fill="url(#gG)"/>
<circle cx="1675.8" cy="1187.2" r="8.8" fill="url(#gG)"/>
<circle cx="1684.6" cy="1148.5" r="8.8" fill="url(#gG)"/>
<circle cx="1693.5" cy="1112.8" r="8.8" fill="url(#gG)"/>
<circle cx="1702.3" cy="1082.1" r="8.8" fill="url(#gG)"/>
<circle cx="1711.1" cy="1058.1" r="8.8" fill="url(#gG)"/>
<circle cx="1720.0" cy="1042.5" r="8.8" fill="url(#gG)"/>
<circle cx="1728.8" cy="1036.4" r="8.8" fill="url(#gG)"/>
<circle cx="1737.7" cy="1040.4" r="8.8" fill="url(#gG)"/>
<circle cx="1746.5" cy="1054.4" r="8.8" fill="url(#gG)"/>
<circle cx="1755.3" cy="1078.0" r="8.8" fill="url(#gG)"/>
<circle cx="1764.2" cy="1109.8" r="8.8" fill="url(#gG)"/>
<circle cx="1773.0" cy="1148.5" r="8.8" fill="url(#gG)"/>
<circle cx="1781.8" cy="1192.2" r="8.8" fill="url(#gG)"/>
<circle cx="1790.7" cy="1238.9" r="8.8" fill="url(#gG)"/>
<circle cx="1799.5" cy="1286.8" r="8.8" fill="url(#gG)"/>
<circle cx="1808.3" cy="1334.1" r="8.8" fill="url(#gG)"/>
<circle cx="1817.2" cy="1379.4" r="8.8" fill="url(#gG)"/>
<circle cx="1826.0" cy="1421.5" r="8.8" fill="url(#gG)"/>
<circle cx="1834.8" cy="1459.5" r="8.8" fill="url(#gG)"/>
<circle cx="1843.7" cy="1493.1" r="8.8" fill="url(#gG)"/>
<circle cx="1852.5" cy="1522.0" r="8.8" fill="url(#gG)"/>
<circle cx="1861.3" cy="1546.3" r="8.8" fill="url(#gG)"/>
<circle cx="1870.2" cy="1566.3" r="8.8" fill="url(#gG)"/>
<circle cx="1879.0" cy="1582.4" r="8.8" fill="url(#gG)"/>
<circle cx="1887.8" cy="1595.1" r="8.8" fill="url(#gG)"/>
<circle cx="1896.7" cy="1605.0" r="8.8" fill="url(#gG)"/>
<circle cx="1905.5" cy="1612.5" r="8.8" fill="url(#gG)"/>
<circle cx="1914.4" cy="1618.2" r="8.8" fill="url(#gG)"/>
<circle cx="1923.2" cy="1622.4" r="8.8" fill="url(#gG)"/>
<circle cx="1932.0" cy="1625.5" r="8.8" fill="url(#gG)"/>
<circle cx="1940.9" cy="1627.9" r="8.8" fill="url(#gG)"/>
<circle cx="1949.7" cy="1629.6" r="8.8" fill="url(#gG)"/>
<circle cx="1958.5" cy="1630.9" r="8.8" fill="url(#gG)"/>
<circle cx="1967.4" cy="1631.9" r="8.8" fill="url(#gG)"/>
<circle cx="1976.2" cy="1632.7" r="8.8" fill="url(#gG)"/>
<circle cx="1985.0" cy="1633.4" r="8.8" fill="url(#gG)"/>
<circle cx="1993.9" cy="1634.0" r="8.8" fill="url(#gG)"/>
<circle cx="2002.7" cy="1634.5" r="8.8" fill="url(#gG)"/>
<circle cx="2011.5" cy="1635.0" r="8.8" fill="url(#gG)"/>
<circle cx="2020.4" cy="1635.4" r="8.8" fill="url(#gG)"/>
<circle cx="2029.2" cy="1635.9" r="8.8" fill="url(#gG)"/>
<circle cx="2038.0" cy="1636.3" r="8.8" fill="url(#gG)"/>
<circle cx="2046.9" cy="1636.7" r="8.8" fill="url(#gG)"/>
<circle cx="2055.7" cy="1637.1" r="8.8" fill="url(#gG)"/>
<circle cx="2064.5" cy="1637.5" r="8.8" fill="url(#gG)"/>
<circle cx="2073.4" cy="1637.9" r="8.8" fill="url(#gG)"/>
<circle cx="2082.2" cy="1638.3" r="8.8" fill="url(#gG)"/>
<circle cx="2091.1" cy="1638.7" r="8.8" fill="url(#gG)"/>
<circle cx="2099.9" cy="1639.1" r="8.8" fill="url(#gG)"/>
<circle cx="2108.7" cy="1639.5" r="8.8" fill="url(#gG)"/>
<circle cx="2117.6" cy="1639.9" r="8.8" fill="url(#gG)"/>
<circle cx="2126.4" cy="1640.3" r="8.8" fill="url(#gG)"/>
<circle cx="2135.2" cy="1640.6" r="8.8" fill="url(#gG)"/>
<circle cx="2144.1" cy="1641.0" r="8.8" fill="url(#gG)"/>
<polyline points="1189.9,1604.3 1198.7,1604.6 1207.6,1604.8 1216.4,1605.1 1225.2,1605.4 1234.1,1605.6 1242.9,1605.9 1251.7,1606.1 1260.6,1606.3 1269.4,1606.5 1278.2,1606.7 1287.1,1606.8 1295.9,1606.9 1304.7,1607.0 1313.6,1607.0 1322.4,1606.9 1331.2,1606.6 1340.1,1606.3 1348.9,1605.8 1357.7,1605.1 1366.6,1604.2 1375.4,1603.0 1384.3,1601.5 1393.1,1599.7 1401.9,1597.5 1410.8,1594.9 1419.6,1591.8 1428.4,1588.2 1437.3,1584.2 1446.1,1579.7 1454.9,1574.7 1463.8,1569.4 1472.6,1563.6 1481.4,1557.5 1490.3,1551.2 1499.1,1544.7 1507.9,1538.1 1516.8,1531.4 1525.6,1524.8 1534.4,1518.1 1543.3,1511.4 1552.1,1504.5 1561.0,1497.2 1569.8,1489.1 1578.6,1479.9 1587.5,1469.0 1596.3,1455.9 1605.1,1440.0 1614.0,1420.7 1622.8,1397.5 1631.6,1370.4 1640.5,1339.2 1649.3,1304.5 1658.1,1266.8 1667.0,1227.2 1675.8,1187.2 1684.6,1148.5 1693.5,1112.8 1702.3,1082.1 1711.1,1058.1 1720.0,1042.5 1728.8,1036.4 1737.7,1040.4 1746.5,1054.4 1755.3,1078.0 1764.2,1109.8 1773.0,1148.5 1781.8,1192.2 1790.7,1238.9 1799.5,1286.8 1808.3,1334.1 1817.2,1379.4 1826.0,1421.5 1834.8,1459.5 1843.7,1493.1 1852.5,1522.0 1861.3,1546.3 1870.2,1566.3 1879.0,1582.4 1887.8,1595.1 1896.7,1605.0 1905.5,1612.5 1914.4,1618.2 1923.2,1622.4 1932.0,1625.5 1940.9,1627.9 1949.7,1629.6 1958.5,1630.9 1967.4,1631.9 1976.2,1632.7 1985.0,1633.4 1993.9,1634.0 2002.7,1634.5 2011.5,1635.0 2020.4,1635.4 2029.2,1635.9 2038.0,1636.3 2046.9,1636.7 2055.7,1637.1 2064.5,1637.5 2073.4,1637.9 2082.2,1638.3 2091.1,1638.7 2099.9,1639.1 2108.7,1639.5 2117.6,1639.9 2126.4,1640.3 2135.2,1640.6 2144.1,1641.0" fill="none" stroke="#ff2020" stroke-width="1.4" stroke-linejoin="round" stroke-linecap="round"/>
<polyline points="1189.9,1605.3 1198.7,1605.6 1207.6,1605.9 1216.4,1606.3 1225.2,1606.6 1234.1,1606.9 1242.9,1607.2 1251.7,1607.6 1260.6,1607.9 1269.4,1608.2 1278.2,1608.5 1287.1,1608.8 1295.9,1609.2 1304.7,1609.5 1313.6,1609.8 1322.4,1610.1 1331.2,1610.4 1340.1,1610.7 1348.9,1611.0 1357.7,1611.3 1366.6,1611.6 1375.4,1612.0 1384.3,1612.3 1393.1,1612.6 1401.9,1612.8 1410.8,1613.1 1419.6,1613.4 1428.4,1613.7 1437.3,1614.0 1446.1,1614.2 1454.9,1614.5 1463.8,1614.7 1472.6,1614.9 1481.4,1615.0 1490.3,1615.0 1499.1,1614.9 1507.9,1614.6 1516.8,1614.0 1525.6,1613.0 1534.4,1611.4 1543.3,1608.9 1552.1,1605.4 1561.0,1600.4 1569.8,1593.5 1578.6,1584.3 1587.5,1572.2 1596.3,1556.7 1605.1,1537.3 1614.0,1513.7 1622.8,1485.5 1631.6,1452.7 1640.5,1415.5 1649.3,1374.4 1658.1,1330.3 1667.0,1284.4 1675.8,1238.2 1684.6,1193.5 1693.5,1152.3 1702.3,1116.4 1711.1,1087.7 1720.0,1067.8 1728.8,1057.9 1737.7,1058.5 1746.5,1069.7 1755.3,1090.7 1764.2,1120.5 1773.0,1157.4 1781.8,1199.6 1790.7,1245.1 1799.5,1292.0 1808.3,1338.5 1817.2,1383.1 1826.0,1424.7 1834.8,1462.3 1843.7,1495.6 1852.5,1524.2 1861.3,1548.3 1870.2,1568.1 1879.0,1584.0 1887.8,1596.6 1896.7,1606.4 1905.5,1613.9 1914.4,1619.5 1923.2,1623.6 1932.0,1626.7 1940.9,1629.0 1949.7,1630.6 1958.5,1631.9 1967.4,1632.8 1976.2,1633.6 1985.0,1634.2 1993.9,1634.8 2002.7,1635.3 2011.5,1635.7 2020.4,1636.2 2029.2,1636.6 2038.0,1637.0 2046.9,1637.4 2055.7,1637.8 2064.5,1638.2 2073.4,1638.5 2082.2,1638.9 2091.1,1639.3 2099.9,1639.7 2108.7,1640.0 2117.6,1640.4 2126.4,1640.8 2135.2,1641.1 2144.1,1641.5" fill="none" stroke="#2f9f77" stroke-width="2.6" stroke-linejoin="round" stroke-linecap="round"/>
<circle cx="1189.9" cy="1605.3" r="8.8" fill="url(#gP)"/>
<circle cx="1198.7" cy="1605.6" r="8.8" fill="url(#gP)"/>
<circle cx="1207.6" cy="1605.9" r="8.8" fill="url(#gP)"/>
<circle cx="1216.4" cy="1606.3" r="8.8" fill="url(#gP)"/>
<circle cx="1225.2" cy="1606.6" r="8.8" fill="url(#gP)"/>
<circle cx="1234.1" cy="1606.9" r="8.8" fill="url(#gP)"/>
<circle cx="1242.9" cy="1607.2" r="8.8" fill="url(#gP)"/>
<circle cx="1251.7" cy="1607.6" r="8.8" fill="url(#gP)"/>
<circle cx="1260.6" cy="1607.9" r="8.8" fill="url(#gP)"/>
<circle cx="1269.4" cy="1608.2" r="8.8" fill="url(#gP)"/>
<circle cx="1278.2" cy="1608.5" r="8.8" fill="url(#gP)"/>
<circle cx="1287.1" cy="1608.8" r="8.8" fill="url(#gP)"/>
<circle cx="1295.9" cy="1609.2" r="8.8" fill="url(#gP)"/>
<circle cx="1304.7" cy="1609.5" r="8.8" fill="url(#gP)"/>
<circle cx="1313.6" cy="1609.8" r="8.8" fill="url(#gP)"/>
<circle cx="1322.4" cy="1610.1" r="8.8" fill="url(#gP)"/>
<circle cx="1331.2" cy="1610.4" r="8.8" fill="url(#gP)"/>
<circle cx="1340.1" cy="1610.7" r="8.8" fill="url(#gP)"/>
<circle cx="1348.9" cy="1611.0" r="8.8" fill="url(#gP)"/>
<circle cx="1357.7" cy="1611.3" r="8.8" fill="url(#gP)"/>
<circle cx="1366.6" cy="1611.6" r="8.8" fill="url(#gP)"/>
<circle cx="1375.4" cy="1612.0" r="8.8" fill="url(#gP)"/>
<circle cx="1384.3" cy="1612.3" r="8.8" fill="url(#gP)"/>
<circle cx="1393.1" cy="1612.6" r="8.8" fill="url(#gP)"/>
<circle cx="1401.9" cy="1612.8" r="8.8" fill="url(#gP)"/>
<circle cx="1410.8" cy="1613.1" r="8.8" fill="url(#gP)"/>
<circle cx="1419.6" cy="1613.4" r="8.8" fill="url(#gP)"/>
<circle cx="1428.4" cy="1613.7" r="8.8" fill="url(#gP)"/>
<circle cx="1437.3" cy="1614.0" r="8.8" fill="url(#gP)"/>
<circle cx="1446.1" cy="1614.2" r="8.8" fill="url(#gP)"/>
<circle cx="1454.9" cy="1614.5" r="8.8" fill="url(#gP)"/>
<circle cx="1463.8" cy="1614.7" r="8.8" fill="url(#gP)"/>
<circle cx="1472.6" cy="1614.9" r="8.8" fill="url(#gP)"/>
<circle cx="1481.4" cy="1615.0" r="8.8" fill="url(#gP)"/>
<circle cx="1490.3" cy="1615.0" r="8.8" fill="url(#gP)"/>
<circle cx="1499.1" cy="1614.9" r="8.8" fill="url(#gP)"/>
<circle cx="1507.9" cy="1614.6" r="8.8" fill="url(#gP)"/>
<circle cx="1516.8" cy="1614.0" r="8.8" fill="url(#gP)"/>
<circle cx="1525.6" cy="1613.0" r="8.8" fill="url(#gP)"/>
<circle cx="1534.4" cy="1611.4" r="8.8" fill="url(#gP)"/>
<circle cx="1543.3" cy="1608.9" r="8.8" fill="url(#gP)"/>
<circle cx="1552.1" cy="1605.4" r="8.8" fill="url(#gP)"/>
<circle cx="1561.0" cy="1600.4" r="8.8" fill="url(#gP)"/>
<circle cx="1569.8" cy="1593.5" r="8.8" fill="url(#gP)"/>
<circle cx="1578.6" cy="1584.3" r="8.8" fill="url(#gP)"/>
<circle cx="1587.5" cy="1572.2" r="8.8" fill="url(#gP)"/>
<circle cx="1596.3" cy="1556.7" r="8.8" fill="url(#gP)"/>
<circle cx="1605.1" cy="1537.3" r="8.8" fill="url(#gP)"/>
<circle cx="1614.0" cy="1513.7" r="8.8" fill="url(#gP)"/>
<circle cx="1622.8" cy="1485.5" r="8.8" fill="url(#gP)"/>
<circle cx="1631.6" cy="1452.7" r="8.8" fill="url(#gP)"/>
<circle cx="1640.5" cy="1415.5" r="8.8" fill="url(#gP)"/>
<circle cx="1649.3" cy="1374.4" r="8.8" fill="url(#gP)"/>
<circle cx="1658.1" cy="1330.3" r="8.8" fill="url(#gP)"/>
<circle cx="1667.0" cy="1284.4" r="8.8" fill="url(#gP)"/>
<circle cx="1675.8" cy="1238.2" r="8.8" fill="url(#gP)"/>
<circle cx="1684.6" cy="1193.5" r="8.8" fill="url(#gP)"/>
<circle cx="1693.5" cy="1152.3" r="8.8" fill="url(#gP)"/>
<circle cx="1702.3" cy="1116.4" r="8.8" fill="url(#gP)"/>
<circle cx="1711.1" cy="1087.7" r="8.8" fill="url(#gP)"/>
<circle cx="1720.0" cy="1067.8" r="8.8" fill="url(#gP)"/>
<circle cx="1728.8" cy="1057.9" r="8.8" fill="url(#gP)"/>
<circle cx="1737.7" cy="1058.5" r="8.8" fill="url(#gP)"/>
<circle cx="1746.5" cy="1069.7" r="8.8" fill="url(#gP)"/>
<circle cx="1755.3" cy="1090.7" r="8.8" fill="url(#gP)"/>
<circle cx="1764.2" cy="1120.5" r="8.8" fill="url(#gP)"/>
<circle cx="1773.0" cy="1157.4" r="8.8" fill="url(#gP)"/>
<circle cx="1781.8" cy="1199.6" r="8.8" fill="url(#gP)"/>
<circle cx="1790.7" cy="1245.1" r="8.8" fill="url(#gP)"/>
<circle cx="1799.5" cy="1292.0" r="8.8" fill="url(#gP)"/>
<circle cx="1808.3" cy="1338.5" r="8.8" fill="url(#gP)"/>
<circle cx="1817.2" cy="1383.1" r="8.8" fill="url(#gP)"/>
<circle cx="1826.0" cy="1424.7" r="8.8" fill="url(#gP)"/>
<circle cx="1834.8" cy="1462.3" r="8.8" fill="url(#gP)"/>
<circle cx="1843.7" cy="1495.6" r="8.8" fill="url(#gP)"/>
<circle cx="1852.5" cy="1524.2" r="8.8" fill="url(#gP)"/>
<circle cx="1861.3" cy="1548.3" r="8.8" fill="url(#gP)"/>
<circle cx="1870.2" cy="1568.1" r="8.8" fill="url(#gP)"/>
<circle cx="1879.0" cy="1584.0" r="8.8" fill="url(#gP)"/>
<circle cx="1887.8" cy="1596.6" r="8.8" fill="url(#gP)"/>
<circle cx="1896.7" cy="1606.4" r="8.8" fill="url(#gP)"/>
<circle cx="1905.5" cy="1613.9" r="8.8" fill="url(#gP)"/>
<circle cx="1914.4" cy="1619.5" r="8.8" fill="url(#gP)"/>
<circle cx="1923.2" cy="1623.6" r="8.8" fill="url(#gP)"/>
<circle cx="1932.0" cy="1626.7" r="8.8" fill="url(#gP)"/>
<circle cx="1940.9" cy="1629.0" r="8.8" fill="url(#gP)"/>
<circle cx="1949.7" cy="1630.6" r="8.8" fill="url(#gP)"/>
<circle cx="1958.5" cy="1631.9" r="8.8" fill="url(#gP)"/>
<circle cx="1967.4" cy="1632.8" r="8.8" fill="url(#gP)"/>
<circle cx="1976.2" cy="1633.6" r="8.8" fill="url(#gP)"/>
<circle cx="1985.0" cy="1634.2" r="8.8" fill="url(#gP)"/>
<circle cx="1993.9" cy="1634.8" r="8.8" fill="url(#gP)"/>
<circle cx="2002.7" cy="1635.3" r="8.8" fill="url(#gP)"/>
<circle cx="2011.5" cy="1635.7" r="8.8" fill="url(#gP)"/>
<circle cx="2020.4" cy="1636.2" r="8.8" fill="url(#gP)"/>
<circle cx="2029.2" cy="1636.6" r="8.8" fill="url(#gP)"/>
<circle cx="2038.0" cy="1637.0" r="8.8" fill="url(#gP)"/>
<circle cx="2046.9" cy="1637.4" r="8.8" fill="url(#gP)"/>
<circle cx="2055.7" cy="1637.8" r="8.8" fill="url(#gP)"/>
<circle cx="2064.5" cy="1638.2" r="8.8" fill="url(#gP)"/>
<circle cx="2073.4" cy="1638.5" r="8.8" fill="url(#gP)"/>
<circle cx="2082.2" cy="1638.9" r="8.8" fill="url(#gP)"/>
<circle cx="2091.1" cy="1639.3" r="8.8" fill="url(#gP)"/>
<circle cx="2099.9" cy="1639.7" r="8.8" fill="url(#gP)"/>
<circle cx="2108.7" cy="1640.0" r="8.8" fill="url(#gP)"/>
<circle cx="2117.6" cy="1640.4" r="8.8" fill="url(#gP)"/>
<circle cx="2126.4" cy="1640.8" r="8.8" fill="url(#gP)"/>
<circle cx="2135.2" cy="1641.1" r="8.8" fill="url(#gP)"/>
<circle cx="2144.1" cy="1641.5" r="8.8" fill="url(#gP)"/>
<circle cx="1189.9" cy="1604.6" r="8.8" fill="url(#gO)"/>
<circle cx="1198.7" cy="1604.9" r="8.8" fill="url(#gO)"/>
<circle cx="1207.6" cy="1605.2" r="8.8" fill="url(#gO)"/>
<circle cx="1216.4" cy="1605.5" r="8.8" fill="url(#gO)"/>
<circle cx="1225.2" cy="1605.8" r="8.8" fill="url(#gO)"/>
<circle cx="1234.1" cy="1606.0" r="8.8" fill="url(#gO)"/>
<circle cx="1242.9" cy="1606.3" r="8.8" fill="url(#gO)"/>
<circle cx="1251.7" cy="1606.5" r="8.8" fill="url(#gO)"/>
<circle cx="1260.6" cy="1606.8" r="8.8" fill="url(#gO)"/>
<circle cx="1269.4" cy="1607.0" r="8.8" fill="url(#gO)"/>
<circle cx="1278.2" cy="1607.2" r="8.8" fill="url(#gO)"/>
<circle cx="1287.1" cy="1607.3" r="8.8" fill="url(#gO)"/>
<circle cx="1295.9" cy="1607.5" r="8.8" fill="url(#gO)"/>
<circle cx="1304.7" cy="1607.5" r="8.8" fill="url(#gO)"/>
<circle cx="1313.6" cy="1607.5" r="8.8" fill="url(#gO)"/>
<circle cx="1322.4" cy="1607.4" r="8.8" fill="url(#gO)"/>
<circle cx="1331.2" cy="1607.2" r="8.8" fill="url(#gO)"/>
<circle cx="1340.1" cy="1606.9" r="8.8" fill="url(#gO)"/>
<circle cx="1348.9" cy="1606.5" r="8.8" fill="url(#gO)"/>
<circle cx="1357.7" cy="1605.8" r="8.8" fill="url(#gO)"/>
<circle cx="1366.6" cy="1604.9" r="8.8" fill="url(#gO)"/>
<circle cx="1375.4" cy="1603.8" r="8.8" fill="url(#gO)"/>
<circle cx="1384.3" cy="1602.3" r="8.8" fill="url(#gO)"/>
<circle cx="1393.1" cy="1600.5" r="8.8" fill="url(#gO)"/>
<circle cx="1401.9" cy="1598.3" r="8.8" fill="url(#gO)"/>
<circle cx="1410.8" cy="1595.8" r="8.8" fill="url(#gO)"/>
<circle cx="1419.6" cy="1592.7" r="8.8" fill="url(#gO)"/>
<circle cx="1428.4" cy="1589.3" r="8.8" fill="url(#gO)"/>
<circle cx="1437.3" cy="1585.3" r="8.8" fill="url(#gO)"/>
<circle cx="1446.1" cy="1580.9" r="8.8" fill="url(#gO)"/>
<circle cx="1454.9" cy="1576.0" r="8.8" fill="url(#gO)"/>
<circle cx="1463.8" cy="1570.7" r="8.8" fill="url(#gO)"/>
<circle cx="1472.6" cy="1565.1" r="8.8" fill="url(#gO)"/>
<circle cx="1481.4" cy="1559.3" r="8.8" fill="url(#gO)"/>
<circle cx="1490.3" cy="1553.2" r="8.8" fill="url(#gO)"/>
<circle cx="1499.1" cy="1547.2" r="8.8" fill="url(#gO)"/>
<circle cx="1507.9" cy="1541.2" r="8.8" fill="url(#gO)"/>
<circle cx="1516.8" cy="1535.5" r="8.8" fill="url(#gO)"/>
<circle cx="1525.6" cy="1530.2" r="8.8" fill="url(#gO)"/>
<circle cx="1534.4" cy="1525.5" r="8.8" fill="url(#gO)"/>
<circle cx="1543.3" cy="1521.6" r="8.8" fill="url(#gO)"/>
<circle cx="1552.1" cy="1518.6" r="8.8" fill="url(#gO)"/>
<circle cx="1561.0" cy="1516.6" r="8.8" fill="url(#gO)"/>
<circle cx="1569.8" cy="1515.8" r="8.8" fill="url(#gO)"/>
<circle cx="1578.6" cy="1516.1" r="8.8" fill="url(#gO)"/>
<circle cx="1587.5" cy="1517.7" r="8.8" fill="url(#gO)"/>
<circle cx="1596.3" cy="1520.4" r="8.8" fill="url(#gO)"/>
<circle cx="1605.1" cy="1524.1" r="8.8" fill="url(#gO)"/>
<circle cx="1614.0" cy="1528.8" r="8.8" fill="url(#gO)"/>
<circle cx="1622.8" cy="1534.2" r="8.8" fill="url(#gO)"/>
<circle cx="1631.6" cy="1540.2" r="8.8" fill="url(#gO)"/>
<circle cx="1640.5" cy="1546.6" r="8.8" fill="url(#gO)"/>
<circle cx="1649.3" cy="1553.2" r="8.8" fill="url(#gO)"/>
<circle cx="1658.1" cy="1559.9" r="8.8" fill="url(#gO)"/>
<circle cx="1667.0" cy="1566.6" r="8.8" fill="url(#gO)"/>
<circle cx="1675.8" cy="1573.2" r="8.8" fill="url(#gO)"/>
<circle cx="1684.6" cy="1579.4" r="8.8" fill="url(#gO)"/>
<circle cx="1693.5" cy="1585.4" r="8.8" fill="url(#gO)"/>
<circle cx="1702.3" cy="1590.9" r="8.8" fill="url(#gO)"/>
<circle cx="1711.1" cy="1596.0" r="8.8" fill="url(#gO)"/>
<circle cx="1720.0" cy="1600.6" r="8.8" fill="url(#gO)"/>
<circle cx="1728.8" cy="1604.7" r="8.8" fill="url(#gO)"/>
<circle cx="1737.7" cy="1608.4" r="8.8" fill="url(#gO)"/>
<circle cx="1746.5" cy="1611.6" r="8.8" fill="url(#gO)"/>
<circle cx="1755.3" cy="1614.5" r="8.8" fill="url(#gO)"/>
<circle cx="1764.2" cy="1616.9" r="8.8" fill="url(#gO)"/>
<circle cx="1773.0" cy="1619.0" r="8.8" fill="url(#gO)"/>
<circle cx="1781.8" cy="1620.8" r="8.8" fill="url(#gO)"/>
<circle cx="1790.7" cy="1622.4" r="8.8" fill="url(#gO)"/>
<circle cx="1799.5" cy="1623.7" r="8.8" fill="url(#gO)"/>
<circle cx="1808.3" cy="1624.8" r="8.8" fill="url(#gO)"/>
<circle cx="1817.2" cy="1625.8" r="8.8" fill="url(#gO)"/>
<circle cx="1826.0" cy="1626.7" r="8.8" fill="url(#gO)"/>
<circle cx="1834.8" cy="1627.4" r="8.8" fill="url(#gO)"/>
<circle cx="1843.7" cy="1628.1" r="8.8" fill="url(#gO)"/>
<circle cx="1852.5" cy="1628.7" r="8.8" fill="url(#gO)"/>
<circle cx="1861.3" cy="1629.3" r="8.8" fill="url(#gO)"/>
<circle cx="1870.2" cy="1629.8" r="8.8" fill="url(#gO)"/>
<circle cx="1879.0" cy="1630.3" r="8.8" fill="url(#gO)"/>
<circle cx="1887.8" cy="1630.7" r="8.8" fill="url(#gO)"/>
<circle cx="1896.7" cy="1631.2" r="8.8" fill="url(#gO)"/>
<circle cx="1905.5" cy="1631.6" r="8.8" fill="url(#gO)"/>
<circle cx="1914.4" cy="1632.0" r="8.8" fill="url(#gO)"/>
<circle cx="1923.2" cy="1632.4" r="8.8" fill="url(#gO)"/>
<circle cx="1932.0" cy="1632.8" r="8.8" fill="url(#gO)"/>
<circle cx="1940.9" cy="1633.2" r="8.8" fill="url(#gO)"/>
<circle cx="1949.7" cy="1633.6" r="8.8" fill="url(#gO)"/>
<circle cx="1958.5" cy="1634.0" r="8.8" fill="url(#gO)"/>
<circle cx="1967.4" cy="1634.4" r="8.8" fill="url(#gO)"/>
<circle cx="1976.2" cy="1634.7" r="8.8" fill="url(#gO)"/>
<circle cx="1985.0" cy="1635.1" r="8.8" fill="url(#gO)"/>
<circle cx="1993.9" cy="1635.5" r="8.8" fill="url(#gO)"/>
<circle cx="2002.7" cy="1635.9" r="8.8" fill="url(#gO)"/>
<circle cx="2011.5" cy="1636.2" r="8.8" fill="url(#gO)"/>
<circle cx="2020.4" cy="1636.6" r="8.8" fill="url(#gO)"/>
<circle cx="2029.2" cy="1637.0" r="8.8" fill="url(#gO)"/>
<circle cx="2038.0" cy="1637.3" r="8.8" fill="url(#gO)"/>
<circle cx="2046.9" cy="1637.7" r="8.8" fill="url(#gO)"/>
<circle cx="2055.7" cy="1638.0" r="8.8" fill="url(#gO)"/>
<circle cx="2064.5" cy="1638.4" r="8.8" fill="url(#gO)"/>
<circle cx="2073.4" cy="1638.8" r="8.8" fill="url(#gO)"/>
<circle cx="2082.2" cy="1639.1" r="8.8" fill="url(#gO)"/>
<circle cx="2091.1" cy="1639.5" r="8.8" fill="url(#gO)"/>
<circle cx="2099.9" cy="1639.8" r="8.8" fill="url(#gO)"/>
<circle cx="2108.7" cy="1640.2" r="8.8" fill="url(#gO)"/>
<circle cx="2117.6" cy="1640.5" r="8.8" fill="url(#gO)"/>
<circle cx="2126.4" cy="1640.9" r="8.8" fill="url(#gO)"/>
<circle cx="2135.2" cy="1641.2" r="8.8" fill="url(#gO)"/>
<circle cx="2144.1" cy="1641.6" r="8.8" fill="url(#gO)"/>
</g>
<clipPath id="ce"><rect x="113" y="1856" width="973" height="750"/></clipPath>
<g clip-path="url(#ce)">
<circle cx="108.8" cy="2437.6" r="8.8" fill="url(#gK)"/>
<circle cx="115.8" cy="2437.7" r="8.8" fill="url(#gK)"/>
<circle cx="122.8" cy="2437.7" r="8.8" fill="url(#gK)"/>
<circle cx="129.8" cy="2437.7" r="8.8" fill="url(#gK)"/>
<circle cx="136.9" cy="2437.7" r="8.8" fill="url(#gK)"/>
<circle cx="143.9" cy="2437.7" r="8.8" fill="url(#gK)"/>
<circle cx="150.9" cy="2437.7" r="8.8" fill="url(#gK)"/>
<circle cx="157.9" cy="2437.7" r="8.8" fill="url(#gK)"/>
<circle cx="164.9" cy="2437.8" r="8.8" fill="url(#gK)"/>
<circle cx="171.9" cy="2437.8" r="8.8" fill="url(#gK)"/>
<circle cx="178.9" cy="2437.8" r="8.8" fill="url(#gK)"/>
<circle cx="185.9" cy="2437.8" r="8.8" fill="url(#gK)"/>
<circle cx="193.0" cy="2437.9" r="8.8" fill="url(#gK)"/>
<circle cx="200.0" cy="2437.9" r="8.8" fill="url(#gK)"/>
<circle cx="207.0" cy="2438.0" r="8.8" fill="url(#gK)"/>
<circle cx="214.0" cy="2438.1" r="8.8" fill="url(#gK)"/>
<circle cx="221.0" cy="2438.1" r="8.8" fill="url(#gK)"/>
<circle cx="228.0" cy="2438.2" r="8.8" fill="url(#gK)"/>
<circle cx="235.0" cy="2438.3" r="8.8" fill="url(#gK)"/>
<circle cx="242.0" cy="2438.4" r="8.8" fill="url(#gK)"/>
<circle cx="249.1" cy="2438.6" r="8.8" fill="url(#gK)"/>
<circle cx="256.1" cy="2438.7" r="8.8" fill="url(#gK)"/>
<circle cx="263.1" cy="2438.9" r="8.8" fill="url(#gK)"/>
<circle cx="270.1" cy="2439.1" r="8.8" fill="url(#gK)"/>
<circle cx="277.1" cy="2439.4" r="8.8" fill="url(#gK)"/>
<circle cx="284.1" cy="2439.6" r="8.8" fill="url(#gK)"/>
<circle cx="291.1" cy="2440.0" r="8.8" fill="url(#gK)"/>
<circle cx="298.2" cy="2440.3" r="8.8" fill="url(#gK)"/>
<circle cx="305.2" cy="2440.7" r="8.8" fill="url(#gK)"/>
<circle cx="312.2" cy="2441.2" r="8.8" fill="url(#gK)"/>
<circle cx="319.2" cy="2441.7" r="8.8" fill="url(#gK)"/>
<circle cx="326.2" cy="2442.2" r="8.8" fill="url(#gK)"/>
<circle cx="333.2" cy="2442.9" r="8.8" fill="url(#gK)"/>
<circle cx="340.2" cy="2443.5" r="8.8" fill="url(#gK)"/>
<circle cx="347.2" cy="2444.3" r="8.8" fill="url(#gK)"/>
<circle cx="354.3" cy="2445.1" r="8.8" fill="url(#gK)"/>
<circle cx="361.3" cy="2445.9" r="8.8" fill="url(#gK)"/>
<circle cx="368.3" cy="2446.9" r="8.8" fill="url(#gK)"/>
<circle cx="375.3" cy="2447.8" r="8.8" fill="url(#gK)"/>
<circle cx="382.3" cy="2448.8" r="8.8" fill="url(#gK)"/>
<circle cx="389.3" cy="2449.8" r="8.8" fill="url(#gK)"/>
<circle cx="396.3" cy="2450.8" r="8.8" fill="url(#gK)"/>
<circle cx="403.3" cy="2451.8" r="8.8" fill="url(#gK)"/>
<circle cx="410.4" cy="2452.8" r="8.8" fill="url(#gK)"/>
<circle cx="417.4" cy="2453.8" r="8.8" fill="url(#gK)"/>
<circle cx="424.4" cy="2454.7" r="8.8" fill="url(#gK)"/>
<circle cx="431.4" cy="2455.6" r="8.8" fill="url(#gK)"/>
<circle cx="438.4" cy="2456.4" r="8.8" fill="url(#gK)"/>
<circle cx="445.4" cy="2457.2" r="8.8" fill="url(#gK)"/>
<circle cx="452.4" cy="2457.9" r="8.8" fill="url(#gK)"/>
<circle cx="459.4" cy="2458.6" r="8.8" fill="url(#gK)"/>
<circle cx="466.5" cy="2459.2" r="8.8" fill="url(#gK)"/>
<circle cx="473.5" cy="2459.7" r="8.8" fill="url(#gK)"/>
<circle cx="480.5" cy="2460.2" r="8.8" fill="url(#gK)"/>
<circle cx="487.5" cy="2460.7" r="8.8" fill="url(#gK)"/>
<circle cx="494.5" cy="2461.0" r="8.8" fill="url(#gK)"/>
<circle cx="501.5" cy="2461.4" r="8.8" fill="url(#gK)"/>
<circle cx="508.5" cy="2461.7" r="8.8" fill="url(#gK)"/>
<circle cx="515.6" cy="2461.9" r="8.8" fill="url(#gK)"/>
<circle cx="522.6" cy="2462.2" r="8.8" fill="url(#gK)"/>
<circle cx="529.6" cy="2462.4" r="8.8" fill="url(#gK)"/>
<circle cx="536.6" cy="2462.5" r="8.8" fill="url(#gK)"/>
<circle cx="543.6" cy="2462.7" r="8.8" fill="url(#gK)"/>
<circle cx="550.6" cy="2462.8" r="8.8" fill="url(#gK)"/>
<circle cx="557.6" cy="2463.0" r="8.8" fill="url(#gK)"/>
<circle cx="564.6" cy="2463.1" r="8.8" fill="url(#gK)"/>
<circle cx="571.7" cy="2463.1" r="8.8" fill="url(#gK)"/>
<circle cx="578.7" cy="2463.2" r="8.8" fill="url(#gK)"/>
<circle cx="585.7" cy="2463.3" r="8.8" fill="url(#gK)"/>
<circle cx="592.7" cy="2463.4" r="8.8" fill="url(#gK)"/>
<circle cx="599.7" cy="2463.5" r="8.8" fill="url(#gK)"/>
<circle cx="606.7" cy="2463.5" r="8.8" fill="url(#gK)"/>
<circle cx="613.7" cy="2463.6" r="8.8" fill="url(#gK)"/>
<circle cx="620.7" cy="2463.7" r="8.8" fill="url(#gK)"/>
<circle cx="627.8" cy="2463.8" r="8.8" fill="url(#gK)"/>
<circle cx="634.8" cy="2463.9" r="8.8" fill="url(#gK)"/>
<circle cx="641.8" cy="2464.1" r="8.8" fill="url(#gK)"/>
<circle cx="648.8" cy="2464.2" r="8.8" fill="url(#gK)"/>
<circle cx="655.8" cy="2464.5" r="8.8" fill="url(#gK)"/>
<circle cx="662.8" cy="2464.7" r="8.8" fill="url(#gK)"/>
<circle cx="669.8" cy="2465.0" r="8.8" fill="url(#gK)"/>
<circle cx="676.9" cy="2465.4" r="8.8" fill="url(#gK)"/>
<circle cx="683.9" cy="2465.9" r="8.8" fill="url(#gK)"/>
<circle cx="690.9" cy="2466.6" r="8.8" fill="url(#gK)"/>
<circle cx="697.9" cy="2467.3" r="8.8" fill="url(#gK)"/>
<circle cx="704.9" cy="2468.3" r="8.8" fill="url(#gK)"/>
<circle cx="711.9" cy="2469.4" r="8.8" fill="url(#gK)"/>
<circle cx="718.9" cy="2470.8" r="8.8" fill="url(#gK)"/>
<circle cx="725.9" cy="2472.4" r="8.8" fill="url(#gK)"/>
<circle cx="733.0" cy="2474.3" r="8.8" fill="url(#gK)"/>
<circle cx="740.0" cy="2476.4" r="8.8" fill="url(#gK)"/>
<circle cx="747.0" cy="2478.8" r="8.8" fill="url(#gK)"/>
<circle cx="754.0" cy="2481.5" r="8.8" fill="url(#gK)"/>
<circle cx="761.0" cy="2484.3" r="8.8" fill="url(#gK)"/>
<circle cx="768.0" cy="2487.3" r="8.8" fill="url(#gK)"/>
<circle cx="775.0" cy="2490.2" r="8.8" fill="url(#gK)"/>
<circle cx="782.0" cy="2493.1" r="8.8" fill="url(#gK)"/>
<circle cx="789.1" cy="2495.9" r="8.8" fill="url(#gK)"/>
<circle cx="796.1" cy="2498.4" r="8.8" fill="url(#gK)"/>
<circle cx="803.1" cy="2500.7" r="8.8" fill="url(#gK)"/>
<circle cx="810.1" cy="2502.8" r="8.8" fill="url(#gK)"/>
<circle cx="817.1" cy="2504.5" r="8.8" fill="url(#gK)"/>
<circle cx="824.1" cy="2506.0" r="8.8" fill="url(#gK)"/>
<circle cx="831.1" cy="2507.3" r="8.8" fill="url(#gK)"/>
<circle cx="838.2" cy="2508.3" r="8.8" fill="url(#gK)"/>
<circle cx="845.2" cy="2509.2" r="8.8" fill="url(#gK)"/>
<circle cx="852.2" cy="2509.9" r="8.8" fill="url(#gK)"/>
<circle cx="859.2" cy="2510.4" r="8.8" fill="url(#gK)"/>
<circle cx="866.2" cy="2510.9" r="8.8" fill="url(#gK)"/>
<circle cx="873.2" cy="2511.2" r="8.8" fill="url(#gK)"/>
<circle cx="880.2" cy="2511.5" r="8.8" fill="url(#gK)"/>
<circle cx="887.2" cy="2511.8" r="8.8" fill="url(#gK)"/>
<circle cx="894.3" cy="2511.9" r="8.8" fill="url(#gK)"/>
<circle cx="901.3" cy="2512.1" r="8.8" fill="url(#gK)"/>
<circle cx="908.3" cy="2512.2" r="8.8" fill="url(#gK)"/>
<circle cx="915.3" cy="2512.3" r="8.8" fill="url(#gK)"/>
<circle cx="922.3" cy="2512.3" r="8.8" fill="url(#gK)"/>
<circle cx="929.3" cy="2512.4" r="8.8" fill="url(#gK)"/>
<circle cx="936.3" cy="2512.4" r="8.8" fill="url(#gK)"/>
<circle cx="943.3" cy="2512.5" r="8.8" fill="url(#gK)"/>
<circle cx="950.4" cy="2512.5" r="8.8" fill="url(#gK)"/>
<circle cx="957.4" cy="2512.5" r="8.8" fill="url(#gK)"/>
<circle cx="964.4" cy="2512.5" r="8.8" fill="url(#gK)"/>
<circle cx="971.4" cy="2512.6" r="8.8" fill="url(#gK)"/>
<circle cx="978.4" cy="2512.6" r="8.8" fill="url(#gK)"/>
<circle cx="985.4" cy="2512.6" r="8.8" fill="url(#gK)"/>
<circle cx="992.4" cy="2512.6" r="8.8" fill="url(#gK)"/>
<circle cx="999.5" cy="2512.6" r="8.8" fill="url(#gK)"/>
<circle cx="1006.5" cy="2512.6" r="8.8" fill="url(#gK)"/>
<circle cx="1013.5" cy="2512.6" r="8.8" fill="url(#gK)"/>
<circle cx="1020.5" cy="2512.6" r="8.8" fill="url(#gK)"/>
<circle cx="1027.5" cy="2512.6" r="8.8" fill="url(#gK)"/>
<circle cx="1034.5" cy="2512.6" r="8.8" fill="url(#gK)"/>
<circle cx="1041.5" cy="2512.6" r="8.8" fill="url(#gK)"/>
<circle cx="1048.5" cy="2512.6" r="8.8" fill="url(#gK)"/>
<circle cx="1055.6" cy="2512.6" r="8.8" fill="url(#gK)"/>
<circle cx="1062.6" cy="2512.6" r="8.8" fill="url(#gK)"/>
<circle cx="1069.6" cy="2512.6" r="8.8" fill="url(#gK)"/>
<circle cx="1076.6" cy="2512.6" r="8.8" fill="url(#gK)"/>
<circle cx="1083.6" cy="2512.6" r="8.8" fill="url(#gK)"/>
<circle cx="1090.6" cy="2512.6" r="8.8" fill="url(#gK)"/>
<circle cx="108.8" cy="2429.2" r="8.8" fill="url(#gO)"/>
<circle cx="115.8" cy="2431.8" r="8.8" fill="url(#gO)"/>
<circle cx="122.8" cy="2429.6" r="8.8" fill="url(#gO)"/>
<circle cx="129.8" cy="2424.4" r="8.8" fill="url(#gO)"/>
<circle cx="136.9" cy="2421.4" r="8.8" fill="url(#gO)"/>
<circle cx="143.9" cy="2423.8" r="8.8" fill="url(#gO)"/>
<circle cx="150.9" cy="2421.1" r="8.8" fill="url(#gO)"/>
<circle cx="157.9" cy="2425.5" r="8.8" fill="url(#gO)"/>
<circle cx="164.9" cy="2416.3" r="8.8" fill="url(#gO)"/>
<circle cx="171.9" cy="2420.3" r="8.8" fill="url(#gO)"/>
<circle cx="178.9" cy="2419.0" r="8.8" fill="url(#gO)"/>
<circle cx="185.9" cy="2417.1" r="8.8" fill="url(#gO)"/>
<circle cx="193.0" cy="2417.9" r="8.8" fill="url(#gO)"/>
<circle cx="200.0" cy="2409.7" r="8.8" fill="url(#gO)"/>
<circle cx="207.0" cy="2409.2" r="8.8" fill="url(#gO)"/>
<circle cx="214.0" cy="2405.3" r="8.8" fill="url(#gO)"/>
<circle cx="221.0" cy="2409.6" r="8.8" fill="url(#gO)"/>
<circle cx="228.0" cy="2399.9" r="8.8" fill="url(#gO)"/>
<circle cx="235.0" cy="2397.6" r="8.8" fill="url(#gO)"/>
<circle cx="242.0" cy="2388.3" r="8.8" fill="url(#gO)"/>
<circle cx="249.1" cy="2387.5" r="8.8" fill="url(#gO)"/>
<circle cx="256.1" cy="2375.5" r="8.8" fill="url(#gO)"/>
<circle cx="263.1" cy="2376.5" r="8.8" fill="url(#gO)"/>
<circle cx="270.1" cy="2364.3" r="8.8" fill="url(#gO)"/>
<circle cx="277.1" cy="2357.2" r="8.8" fill="url(#gO)"/>
<circle cx="284.1" cy="2346.1" r="8.8" fill="url(#gO)"/>
<circle cx="291.1" cy="2342.9" r="8.8" fill="url(#gO)"/>
<circle cx="298.2" cy="2332.6" r="8.8" fill="url(#gO)"/>
<circle cx="305.2" cy="2320.4" r="8.8" fill="url(#gO)"/>
<circle cx="312.2" cy="2311.0" r="8.8" fill="url(#gO)"/>
<circle cx="319.2" cy="2303.0" r="8.8" fill="url(#gO)"/>
<circle cx="326.2" cy="2297.1" r="8.8" fill="url(#gO)"/>
<circle cx="333.2" cy="2287.8" r="8.8" fill="url(#gO)"/>
<circle cx="340.2" cy="2287.4" r="8.8" fill="url(#gO)"/>
<circle cx="347.2" cy="2278.0" r="8.8" fill="url(#gO)"/>
<circle cx="354.3" cy="2275.2" r="8.8" fill="url(#gO)"/>
<circle cx="361.3" cy="2276.4" r="8.8" fill="url(#gO)"/>
<circle cx="368.3" cy="2265.6" r="8.8" fill="url(#gO)"/>
<circle cx="375.3" cy="2272.1" r="8.8" fill="url(#gO)"/>
<circle cx="382.3" cy="2277.3" r="8.8" fill="url(#gO)"/>
<circle cx="389.3" cy="2287.2" r="8.8" fill="url(#gO)"/>
<circle cx="396.3" cy="2289.2" r="8.8" fill="url(#gO)"/>
<circle cx="403.3" cy="2298.5" r="8.8" fill="url(#gO)"/>
<circle cx="410.4" cy="2309.4" r="8.8" fill="url(#gO)"/>
<circle cx="417.4" cy="2315.4" r="8.8" fill="url(#gO)"/>
<circle cx="424.4" cy="2330.3" r="8.8" fill="url(#gO)"/>
<circle cx="431.4" cy="2334.2" r="8.8" fill="url(#gO)"/>
<circle cx="438.4" cy="2346.5" r="8.8" fill="url(#gO)"/>
<circle cx="445.4" cy="2355.7" r="8.8" fill="url(#gO)"/>
<circle cx="452.4" cy="2366.4" r="8.8" fill="url(#gO)"/>
<circle cx="459.4" cy="2378.7" r="8.8" fill="url(#gO)"/>
<circle cx="466.5" cy="2386.8" r="8.8" fill="url(#gO)"/>
<circle cx="473.5" cy="2396.1" r="8.8" fill="url(#gO)"/>
<circle cx="480.5" cy="2400.7" r="8.8" fill="url(#gO)"/>
<circle cx="487.5" cy="2408.3" r="8.8" fill="url(#gO)"/>
<circle cx="494.5" cy="2412.5" r="8.8" fill="url(#gO)"/>
<circle cx="501.5" cy="2415.2" r="8.8" fill="url(#gO)"/>
<circle cx="508.5" cy="2417.8" r="8.8" fill="url(#gO)"/>
<circle cx="515.6" cy="2422.5" r="8.8" fill="url(#gO)"/>
<circle cx="522.6" cy="2422.1" r="8.8" fill="url(#gO)"/>
<circle cx="529.6" cy="2431.0" r="8.8" fill="url(#gO)"/>
<circle cx="536.6" cy="2436.4" r="8.8" fill="url(#gO)"/>
<circle cx="543.6" cy="2438.2" r="8.8" fill="url(#gO)"/>
<circle cx="550.6" cy="2432.6" r="8.8" fill="url(#gO)"/>
<circle cx="557.6" cy="2436.0" r="8.8" fill="url(#gO)"/>
<circle cx="564.6" cy="2430.5" r="8.8" fill="url(#gO)"/>
<circle cx="571.7" cy="2438.2" r="8.8" fill="url(#gO)"/>
<circle cx="578.7" cy="2441.2" r="8.8" fill="url(#gO)"/>
<circle cx="585.7" cy="2435.6" r="8.8" fill="url(#gO)"/>
<circle cx="592.7" cy="2440.0" r="8.8" fill="url(#gO)"/>
<circle cx="599.7" cy="2439.9" r="8.8" fill="url(#gO)"/>
<circle cx="606.7" cy="2438.1" r="8.8" fill="url(#gO)"/>
<circle cx="613.7" cy="2442.5" r="8.8" fill="url(#gO)"/>
<circle cx="620.7" cy="2436.5" r="8.8" fill="url(#gO)"/>
<circle cx="627.8" cy="2430.4" r="8.8" fill="url(#gO)"/>
<circle cx="634.8" cy="2429.6" r="8.8" fill="url(#gO)"/>
<circle cx="641.8" cy="2422.7" r="8.8" fill="url(#gO)"/>
<circle cx="648.8" cy="2414.8" r="8.8" fill="url(#gO)"/>
<circle cx="655.8" cy="2403.9" r="8.8" fill="url(#gO)"/>
<circle cx="662.8" cy="2397.6" r="8.8" fill="url(#gO)"/>
<circle cx="669.8" cy="2381.1" r="8.8" fill="url(#gO)"/>
<circle cx="676.9" cy="2362.2" r="8.8" fill="url(#gO)"/>
<circle cx="683.9" cy="2335.4" r="8.8" fill="url(#gO)"/>
<circle cx="690.9" cy="2311.9" r="8.8" fill="url(#gO)"/>
<circle cx="697.9" cy="2283.0" r="8.8" fill="url(#gO)"/>
<circle cx="704.9" cy="2246.5" r="8.8" fill="url(#gO)"/>
<circle cx="711.9" cy="2210.2" r="8.8" fill="url(#gO)"/>
<circle cx="718.9" cy="2172.3" r="8.8" fill="url(#gO)"/>
<circle cx="725.9" cy="2131.2" r="8.8" fill="url(#gO)"/>
<circle cx="733.0" cy="2091.4" r="8.8" fill="url(#gO)"/>
<circle cx="740.0" cy="2043.1" r="8.8" fill="url(#gO)"/>
<circle cx="747.0" cy="2017.4" r="8.8" fill="url(#gO)"/>
<circle cx="754.0" cy="1986.1" r="8.8" fill="url(#gO)"/>
<circle cx="761.0" cy="1959.9" r="8.8" fill="url(#gO)"/>
<circle cx="768.0" cy="1950.1" r="8.8" fill="url(#gO)"/>
<circle cx="775.0" cy="1947.6" r="8.8" fill="url(#gO)"/>
<circle cx="782.0" cy="1962.5" r="8.8" fill="url(#gO)"/>
<circle cx="789.1" cy="1984.7" r="8.8" fill="url(#gO)"/>
<circle cx="796.1" cy="2019.4" r="8.8" fill="url(#gO)"/>
<circle cx="803.1" cy="2059.4" r="8.8" fill="url(#gO)"/>
<circle cx="810.1" cy="2097.3" r="8.8" fill="url(#gO)"/>
<circle cx="817.1" cy="2148.3" r="8.8" fill="url(#gO)"/>
<circle cx="824.1" cy="2189.2" r="8.8" fill="url(#gO)"/>
<circle cx="831.1" cy="2233.5" r="8.8" fill="url(#gO)"/>
<circle cx="838.2" cy="2273.6" r="8.8" fill="url(#gO)"/>
<circle cx="845.2" cy="2313.3" r="8.8" fill="url(#gO)"/>
<circle cx="852.2" cy="2347.8" r="8.8" fill="url(#gO)"/>
<circle cx="859.2" cy="2374.7" r="8.8" fill="url(#gO)"/>
<circle cx="866.2" cy="2407.4" r="8.8" fill="url(#gO)"/>
<circle cx="873.2" cy="2422.6" r="8.8" fill="url(#gO)"/>
<circle cx="880.2" cy="2443.3" r="8.8" fill="url(#gO)"/>
<circle cx="887.2" cy="2455.1" r="8.8" fill="url(#gO)"/>
<circle cx="894.3" cy="2464.8" r="8.8" fill="url(#gO)"/>
<circle cx="901.3" cy="2476.5" r="8.8" fill="url(#gO)"/>
<circle cx="908.3" cy="2480.2" r="8.8" fill="url(#gO)"/>
<circle cx="915.3" cy="2481.2" r="8.8" fill="url(#gO)"/>
<circle cx="922.3" cy="2492.7" r="8.8" fill="url(#gO)"/>
<circle cx="929.3" cy="2498.2" r="8.8" fill="url(#gO)"/>
<circle cx="936.3" cy="2494.0" r="8.8" fill="url(#gO)"/>
<circle cx="943.3" cy="2497.3" r="8.8" fill="url(#gO)"/>
<circle cx="950.4" cy="2498.0" r="8.8" fill="url(#gO)"/>
<circle cx="957.4" cy="2499.7" r="8.8" fill="url(#gO)"/>
<circle cx="964.4" cy="2501.4" r="8.8" fill="url(#gO)"/>
<circle cx="971.4" cy="2500.5" r="8.8" fill="url(#gO)"/>
<circle cx="978.4" cy="2503.4" r="8.8" fill="url(#gO)"/>
<circle cx="985.4" cy="2502.3" r="8.8" fill="url(#gO)"/>
<circle cx="992.4" cy="2498.8" r="8.8" fill="url(#gO)"/>
<circle cx="999.5" cy="2506.8" r="8.8" fill="url(#gO)"/>
<circle cx="1006.5" cy="2500.4" r="8.8" fill="url(#gO)"/>
<circle cx="1013.5" cy="2499.5" r="8.8" fill="url(#gO)"/>
<circle cx="1020.5" cy="2499.9" r="8.8" fill="url(#gO)"/>
<circle cx="1027.5" cy="2503.9" r="8.8" fill="url(#gO)"/>
<circle cx="1034.5" cy="2502.1" r="8.8" fill="url(#gO)"/>
<circle cx="1041.5" cy="2502.8" r="8.8" fill="url(#gO)"/>
<circle cx="1048.5" cy="2501.1" r="8.8" fill="url(#gO)"/>
<circle cx="1055.6" cy="2511.8" r="8.8" fill="url(#gO)"/>
<circle cx="1062.6" cy="2503.6" r="8.8" fill="url(#gO)"/>
<circle cx="1069.6" cy="2507.6" r="8.8" fill="url(#gO)"/>
<circle cx="1076.6" cy="2502.8" r="8.8" fill="url(#gO)"/>
<circle cx="1083.6" cy="2508.1" r="8.8" fill="url(#gO)"/>
<circle cx="1090.6" cy="2501.1" r="8.8" fill="url(#gO)"/>
<circle cx="108.8" cy="2428.1" r="8.8" fill="url(#gR)"/>
<circle cx="115.8" cy="2427.6" r="8.8" fill="url(#gR)"/>
<circle cx="122.8" cy="2427.0" r="8.8" fill="url(#gR)"/>
<circle cx="129.8" cy="2426.4" r="8.8" fill="url(#gR)"/>
<circle cx="136.9" cy="2425.8" r="8.8" fill="url(#gR)"/>
<circle cx="143.9" cy="2425.0" r="8.8" fill="url(#gR)"/>
<circle cx="150.9" cy="2424.1" r="8.8" fill="url(#gR)"/>
<circle cx="157.9" cy="2423.1" r="8.8" fill="url(#gR)"/>
<circle cx="164.9" cy="2422.0" r="8.8" fill="url(#gR)"/>
<circle cx="171.9" cy="2420.7" r="8.8" fill="url(#gR)"/>
<circle cx="178.9" cy="2419.2" r="8.8" fill="url(#gR)"/>
<circle cx="185.9" cy="2417.4" r="8.8" fill="url(#gR)"/>
<circle cx="193.0" cy="2415.4" r="8.8" fill="url(#gR)"/>
<circle cx="200.0" cy="2413.1" r="8.8" fill="url(#gR)"/>
<circle cx="207.0" cy="2410.5" r="8.8" fill="url(#gR)"/>
<circle cx="214.0" cy="2407.4" r="8.8" fill="url(#gR)"/>
<circle cx="221.0" cy="2404.0" r="8.8" fill="url(#gR)"/>
<circle cx="228.0" cy="2400.1" r="8.8" fill="url(#gR)"/>
<circle cx="235.0" cy="2395.7" r="8.8" fill="url(#gR)"/>
<circle cx="242.0" cy="2390.7" r="8.8" fill="url(#gR)"/>
<circle cx="249.1" cy="2385.2" r="8.8" fill="url(#gR)"/>
<circle cx="256.1" cy="2379.2" r="8.8" fill="url(#gR)"/>
<circle cx="263.1" cy="2372.5" r="8.8" fill="url(#gR)"/>
<circle cx="270.1" cy="2365.4" r="8.8" fill="url(#gR)"/>
<circle cx="277.1" cy="2357.7" r="8.8" fill="url(#gR)"/>
<circle cx="284.1" cy="2349.5" r="8.8" fill="url(#gR)"/>
<circle cx="291.1" cy="2340.9" r="8.8" fill="url(#gR)"/>
<circle cx="298.2" cy="2332.0" r="8.8" fill="url(#gR)"/>
<circle cx="305.2" cy="2322.9" r="8.8" fill="url(#gR)"/>
<circle cx="312.2" cy="2313.9" r="8.8" fill="url(#gR)"/>
<circle cx="319.2" cy="2304.9" r="8.8" fill="url(#gR)"/>
<circle cx="326.2" cy="2296.5" r="8.8" fill="url(#gR)"/>
<circle cx="333.2" cy="2288.7" r="8.8" fill="url(#gR)"/>
<circle cx="340.2" cy="2281.9" r="8.8" fill="url(#gR)"/>
<circle cx="347.2" cy="2276.4" r="8.8" fill="url(#gR)"/>
<circle cx="354.3" cy="2272.4" r="8.8" fill="url(#gR)"/>
<circle cx="361.3" cy="2270.3" r="8.8" fill="url(#gR)"/>
<circle cx="368.3" cy="2270.3" r="8.8" fill="url(#gR)"/>
<circle cx="375.3" cy="2272.2" r="8.8" fill="url(#gR)"/>
<circle cx="382.3" cy="2276.1" r="8.8" fill="url(#gR)"/>
<circle cx="389.3" cy="2281.7" r="8.8" fill="url(#gR)"/>
<circle cx="396.3" cy="2288.9" r="8.8" fill="url(#gR)"/>
<circle cx="403.3" cy="2297.3" r="8.8" fill="url(#gR)"/>
<circle cx="410.4" cy="2306.6" r="8.8" fill="url(#gR)"/>
<circle cx="417.4" cy="2316.5" r="8.8" fill="url(#gR)"/>
<circle cx="424.4" cy="2326.7" r="8.8" fill="url(#gR)"/>
<circle cx="431.4" cy="2336.9" r="8.8" fill="url(#gR)"/>
<circle cx="438.4" cy="2347.0" r="8.8" fill="url(#gR)"/>
<circle cx="445.4" cy="2356.7" r="8.8" fill="url(#gR)"/>
<circle cx="452.4" cy="2366.1" r="8.8" fill="url(#gR)"/>
<circle cx="459.4" cy="2374.9" r="8.8" fill="url(#gR)"/>
<circle cx="466.5" cy="2383.2" r="8.8" fill="url(#gR)"/>
<circle cx="473.5" cy="2390.8" r="8.8" fill="url(#gR)"/>
<circle cx="480.5" cy="2397.8" r="8.8" fill="url(#gR)"/>
<circle cx="487.5" cy="2404.1" r="8.8" fill="url(#gR)"/>
<circle cx="494.5" cy="2409.8" r="8.8" fill="url(#gR)"/>
<circle cx="501.5" cy="2414.8" r="8.8" fill="url(#gR)"/>
<circle cx="508.5" cy="2419.3" r="8.8" fill="url(#gR)"/>
<circle cx="515.6" cy="2423.1" r="8.8" fill="url(#gR)"/>
<circle cx="522.6" cy="2426.5" r="8.8" fill="url(#gR)"/>
<circle cx="529.6" cy="2429.3" r="8.8" fill="url(#gR)"/>
<circle cx="536.6" cy="2431.7" r="8.8" fill="url(#gR)"/>
<circle cx="543.6" cy="2433.7" r="8.8" fill="url(#gR)"/>
<circle cx="550.6" cy="2435.3" r="8.8" fill="url(#gR)"/>
<circle cx="557.6" cy="2436.6" r="8.8" fill="url(#gR)"/>
<circle cx="564.6" cy="2437.6" r="8.8" fill="url(#gR)"/>
<circle cx="571.7" cy="2438.3" r="8.8" fill="url(#gR)"/>
<circle cx="578.7" cy="2438.7" r="8.8" fill="url(#gR)"/>
<circle cx="585.7" cy="2438.8" r="8.8" fill="url(#gR)"/>
<circle cx="592.7" cy="2438.7" r="8.8" fill="url(#gR)"/>
<circle cx="599.7" cy="2438.1" r="8.8" fill="url(#gR)"/>
<circle cx="606.7" cy="2437.2" r="8.8" fill="url(#gR)"/>
<circle cx="613.7" cy="2435.7" r="8.8" fill="url(#gR)"/>
<circle cx="620.7" cy="2433.6" r="8.8" fill="url(#gR)"/>
<circle cx="627.8" cy="2430.5" r="8.8" fill="url(#gR)"/>
<circle cx="634.8" cy="2426.3" r="8.8" fill="url(#gR)"/>
<circle cx="641.8" cy="2420.5" r="8.8" fill="url(#gR)"/>
<circle cx="648.8" cy="2412.8" r="8.8" fill="url(#gR)"/>
<circle cx="655.8" cy="2402.7" r="8.8" fill="url(#gR)"/>
<circle cx="662.8" cy="2389.7" r="8.8" fill="url(#gR)"/>
<circle cx="669.8" cy="2373.3" r="8.8" fill="url(#gR)"/>
<circle cx="676.9" cy="2353.1" r="8.8" fill="url(#gR)"/>
<circle cx="683.9" cy="2328.6" r="8.8" fill="url(#gR)"/>
<circle cx="690.9" cy="2299.8" r="8.8" fill="url(#gR)"/>
<circle cx="697.9" cy="2266.8" r="8.8" fill="url(#gR)"/>
<circle cx="704.9" cy="2229.8" r="8.8" fill="url(#gR)"/>
<circle cx="711.9" cy="2189.6" r="8.8" fill="url(#gR)"/>
<circle cx="718.9" cy="2147.4" r="8.8" fill="url(#gR)"/>
<circle cx="725.9" cy="2104.5" r="8.8" fill="url(#gR)"/>
<circle cx="733.0" cy="2063.0" r="8.8" fill="url(#gR)"/>
<circle cx="740.0" cy="2025.0" r="8.8" fill="url(#gR)"/>
<circle cx="747.0" cy="1993.1" r="8.8" fill="url(#gR)"/>
<circle cx="754.0" cy="1969.6" r="8.8" fill="url(#gR)"/>
<circle cx="761.0" cy="1956.9" r="8.8" fill="url(#gR)"/>
<circle cx="768.0" cy="1956.3" r="8.8" fill="url(#gR)"/>
<circle cx="775.0" cy="1968.0" r="8.8" fill="url(#gR)"/>
<circle cx="782.0" cy="1991.2" r="8.8" fill="url(#gR)"/>
<circle cx="789.1" cy="2024.0" r="8.8" fill="url(#gR)"/>
<circle cx="796.1" cy="2063.8" r="8.8" fill="url(#gR)"/>
<circle cx="803.1" cy="2108.2" r="8.8" fill="url(#gR)"/>
<circle cx="810.1" cy="2154.5" r="8.8" fill="url(#gR)"/>
<circle cx="817.1" cy="2200.9" r="8.8" fill="url(#gR)"/>
<circle cx="824.1" cy="2245.5" r="8.8" fill="url(#gR)"/>
<circle cx="831.1" cy="2287.1" r="8.8" fill="url(#gR)"/>
<circle cx="838.2" cy="2324.8" r="8.8" fill="url(#gR)"/>
<circle cx="845.2" cy="2358.0" r="8.8" fill="url(#gR)"/>
<circle cx="852.2" cy="2386.6" r="8.8" fill="url(#gR)"/>
<circle cx="859.2" cy="2410.6" r="8.8" fill="url(#gR)"/>
<circle cx="866.2" cy="2430.4" r="8.8" fill="url(#gR)"/>
<circle cx="873.2" cy="2446.4" r="8.8" fill="url(#gR)"/>
<circle cx="880.2" cy="2459.1" r="8.8" fill="url(#gR)"/>
<circle cx="887.2" cy="2469.0" r="8.8" fill="url(#gR)"/>
<circle cx="894.3" cy="2476.6" r="8.8" fill="url(#gR)"/>
<circle cx="901.3" cy="2482.5" r="8.8" fill="url(#gR)"/>
<circle cx="908.3" cy="2486.9" r="8.8" fill="url(#gR)"/>
<circle cx="915.3" cy="2490.3" r="8.8" fill="url(#gR)"/>
<circle cx="922.3" cy="2493.0" r="8.8" fill="url(#gR)"/>
<circle cx="929.3" cy="2495.0" r="8.8" fill="url(#gR)"/>
<circle cx="936.3" cy="2496.6" r="8.8" fill="url(#gR)"/>
<circle cx="943.3" cy="2497.9" r="8.8" fill="url(#gR)"/>
<circle cx="950.4" cy="2499.0" r="8.8" fill="url(#gR)"/>
<circle cx="957.4" cy="2500.0" r="8.8" fill="url(#gR)"/>
<circle cx="964.4" cy="2500.8" r="8.8" fill="url(#gR)"/>
<circle cx="971.4" cy="2501.5" r="8.8" fill="url(#gR)"/>
<circle cx="978.4" cy="2502.1" r="8.8" fill="url(#gR)"/>
<circle cx="985.4" cy="2502.7" r="8.8" fill="url(#gR)"/>
<circle cx="992.4" cy="2503.2" r="8.8" fill="url(#gR)"/>
<circle cx="999.5" cy="2503.7" r="8.8" fill="url(#gR)"/>
<circle cx="1006.5" cy="2504.1" r="8.8" fill="url(#gR)"/>
<circle cx="1013.5" cy="2504.5" r="8.8" fill="url(#gR)"/>
<circle cx="1020.5" cy="2504.9" r="8.8" fill="url(#gR)"/>
<circle cx="1027.5" cy="2505.3" r="8.8" fill="url(#gR)"/>
<circle cx="1034.5" cy="2505.6" r="8.8" fill="url(#gR)"/>
<circle cx="1041.5" cy="2505.9" r="8.8" fill="url(#gR)"/>
<circle cx="1048.5" cy="2506.2" r="8.8" fill="url(#gR)"/>
<circle cx="1055.6" cy="2506.4" r="8.8" fill="url(#gR)"/>
<circle cx="1062.6" cy="2506.7" r="8.8" fill="url(#gR)"/>
<circle cx="1069.6" cy="2506.9" r="8.8" fill="url(#gR)"/>
<circle cx="1076.6" cy="2507.1" r="8.8" fill="url(#gR)"/>
<circle cx="1083.6" cy="2507.3" r="8.8" fill="url(#gR)"/>
<circle cx="1090.6" cy="2507.5" r="8.8" fill="url(#gR)"/>
<polyline points="108.8,2436.7 115.8,2436.7 122.8,2436.7 129.8,2436.6 136.9,2436.6 143.9,2436.6 150.9,2436.6 157.9,2436.6 164.9,2436.6 171.9,2436.6 178.9,2436.6 185.9,2436.6 193.0,2436.6 200.0,2436.6 207.0,2436.7 214.0,2436.7 221.0,2436.7 228.0,2436.8 235.0,2436.8 242.0,2436.9 249.1,2437.0 256.1,2437.1 263.1,2437.3 270.1,2437.4 277.1,2437.6 284.1,2437.9 291.1,2438.1 298.2,2438.4 305.2,2438.8 312.2,2439.2 319.2,2439.6 326.2,2440.1 333.2,2440.7 340.2,2441.3 347.2,2441.9 354.3,2442.7 361.3,2443.4 368.3,2444.2 375.3,2445.1 382.3,2446.0 389.3,2446.9 396.3,2447.8 403.3,2448.7 410.4,2449.6 417.4,2450.4 424.4,2451.2 431.4,2451.9 438.4,2452.6 445.4,2453.2 452.4,2453.8 459.4,2454.3 466.5,2454.7 473.5,2455.0 480.5,2455.3 487.5,2455.5 494.5,2455.6 501.5,2455.6 508.5,2455.6 515.6,2455.6 522.6,2455.5 529.6,2455.3 536.6,2455.0 543.6,2454.7 550.6,2454.4 557.6,2453.9 564.6,2453.4 571.7,2452.8 578.7,2452.1 585.7,2451.3 592.7,2450.2 599.7,2449.0 606.7,2447.4 613.7,2445.3 620.7,2442.6 627.8,2439.1 634.8,2434.4 641.8,2428.2 648.8,2420.1 655.8,2409.7 662.8,2396.4 669.8,2379.7 676.9,2359.2 683.9,2334.5 690.9,2305.5 697.9,2272.2 704.9,2235.0 711.9,2194.6 718.9,2152.2 725.9,2109.2 733.0,2067.5 740.0,2029.4 747.0,1997.2 754.0,1973.7 761.0,1960.8 768.0,1960.0 775.0,1971.7 782.0,1994.8 789.1,2027.4 796.1,2067.1 803.1,2111.4 810.1,2157.6 817.1,2203.9 824.1,2248.4 831.1,2289.9 838.2,2327.5 845.2,2360.7 852.2,2389.2 859.2,2413.2 866.2,2432.9 873.2,2448.8 880.2,2461.4 887.2,2471.3 894.3,2478.8 901.3,2484.6 908.3,2489.0 915.3,2492.4 922.3,2495.0 929.3,2497.0 936.3,2498.5 943.3,2499.8 950.4,2500.9 957.4,2501.7 964.4,2502.5 971.4,2503.2 978.4,2503.8 985.4,2504.3 992.4,2504.8 999.5,2505.2 1006.5,2505.7 1013.5,2506.0 1020.5,2506.4 1027.5,2506.7 1034.5,2507.0 1041.5,2507.3 1048.5,2507.5 1055.6,2507.7 1062.6,2508.0 1069.6,2508.2 1076.6,2508.4 1083.6,2508.5 1090.6,2508.7" fill="none" stroke="#3a7f6a" stroke-width="1.5" stroke-linejoin="round" stroke-linecap="round"/>
<circle cx="108.8" cy="2436.7" r="8.8" fill="url(#gG)"/>
<circle cx="115.8" cy="2436.7" r="8.8" fill="url(#gG)"/>
<circle cx="122.8" cy="2436.7" r="8.8" fill="url(#gG)"/>
<circle cx="129.8" cy="2436.6" r="8.8" fill="url(#gG)"/>
<circle cx="136.9" cy="2436.6" r="8.8" fill="url(#gG)"/>
<circle cx="143.9" cy="2436.6" r="8.8" fill="url(#gG)"/>
<circle cx="150.9" cy="2436.6" r="8.8" fill="url(#gG)"/>
<circle cx="157.9" cy="2436.6" r="8.8" fill="url(#gG)"/>
<circle cx="164.9" cy="2436.6" r="8.8" fill="url(#gG)"/>
<circle cx="171.9" cy="2436.6" r="8.8" fill="url(#gG)"/>
<circle cx="178.9" cy="2436.6" r="8.8" fill="url(#gG)"/>
<circle cx="185.9" cy="2436.6" r="8.8" fill="url(#gG)"/>
<circle cx="193.0" cy="2436.6" r="8.8" fill="url(#gG)"/>
<circle cx="200.0" cy="2436.6" r="8.8" fill="url(#gG)"/>
<circle cx="207.0" cy="2436.7" r="8.8" fill="url(#gG)"/>
<circle cx="214.0" cy="2436.7" r="8.8" fill="url(#gG)"/>
<circle cx="221.0" cy="2436.7" r="8.8" fill="url(#gG)"/>
<circle cx="228.0" cy="2436.8" r="8.8" fill="url(#gG)"/>
<circle cx="235.0" cy="2436.8" r="8.8" fill="url(#gG)"/>
<circle cx="242.0" cy="2436.9" r="8.8" fill="url(#gG)"/>
<circle cx="249.1" cy="2437.0" r="8.8" fill="url(#gG)"/>
<circle cx="256.1" cy="2437.1" r="8.8" fill="url(#gG)"/>
<circle cx="263.1" cy="2437.3" r="8.8" fill="url(#gG)"/>
<circle cx="270.1" cy="2437.4" r="8.8" fill="url(#gG)"/>
<circle cx="277.1" cy="2437.6" r="8.8" fill="url(#gG)"/>
<circle cx="284.1" cy="2437.9" r="8.8" fill="url(#gG)"/>
<circle cx="291.1" cy="2438.1" r="8.8" fill="url(#gG)"/>
<circle cx="298.2" cy="2438.4" r="8.8" fill="url(#gG)"/>
<circle cx="305.2" cy="2438.8" r="8.8" fill="url(#gG)"/>
<circle cx="312.2" cy="2439.2" r="8.8" fill="url(#gG)"/>
<circle cx="319.2" cy="2439.6" r="8.8" fill="url(#gG)"/>
<circle cx="326.2" cy="2440.1" r="8.8" fill="url(#gG)"/>
<circle cx="333.2" cy="2440.7" r="8.8" fill="url(#gG)"/>
<circle cx="340.2" cy="2441.3" r="8.8" fill="url(#gG)"/>
<circle cx="347.2" cy="2441.9" r="8.8" fill="url(#gG)"/>
<circle cx="354.3" cy="2442.7" r="8.8" fill="url(#gG)"/>
<circle cx="361.3" cy="2443.4" r="8.8" fill="url(#gG)"/>
<circle cx="368.3" cy="2444.2" r="8.8" fill="url(#gG)"/>
<circle cx="375.3" cy="2445.1" r="8.8" fill="url(#gG)"/>
<circle cx="382.3" cy="2446.0" r="8.8" fill="url(#gG)"/>
<circle cx="389.3" cy="2446.9" r="8.8" fill="url(#gG)"/>
<circle cx="396.3" cy="2447.8" r="8.8" fill="url(#gG)"/>
<circle cx="403.3" cy="2448.7" r="8.8" fill="url(#gG)"/>
<circle cx="410.4" cy="2449.6" r="8.8" fill="url(#gG)"/>
<circle cx="417.4" cy="2450.4" r="8.8" fill="url(#gG)"/>
<circle cx="424.4" cy="2451.2" r="8.8" fill="url(#gG)"/>
<circle cx="431.4" cy="2451.9" r="8.8" fill="url(#gG)"/>
<circle cx="438.4" cy="2452.6" r="8.8" fill="url(#gG)"/>
<circle cx="445.4" cy="2453.2" r="8.8" fill="url(#gG)"/>
<circle cx="452.4" cy="2453.8" r="8.8" fill="url(#gG)"/>
<circle cx="459.4" cy="2454.3" r="8.8" fill="url(#gG)"/>
<circle cx="466.5" cy="2454.7" r="8.8" fill="url(#gG)"/>
<circle cx="473.5" cy="2455.0" r="8.8" fill="url(#gG)"/>
<circle cx="480.5" cy="2455.3" r="8.8" fill="url(#gG)"/>
<circle cx="487.5" cy="2455.5" r="8.8" fill="url(#gG)"/>
<circle cx="494.5" cy="2455.6" r="8.8" fill="url(#gG)"/>
<circle cx="501.5" cy="2455.6" r="8.8" fill="url(#gG)"/>
<circle cx="508.5" cy="2455.6" r="8.8" fill="url(#gG)"/>
<circle cx="515.6" cy="2455.6" r="8.8" fill="url(#gG)"/>
<circle cx="522.6" cy="2455.5" r="8.8" fill="url(#gG)"/>
<circle cx="529.6" cy="2455.3" r="8.8" fill="url(#gG)"/>
<circle cx="536.6" cy="2455.0" r="8.8" fill="url(#gG)"/>
<circle cx="543.6" cy="2454.7" r="8.8" fill="url(#gG)"/>
<circle cx="550.6" cy="2454.4" r="8.8" fill="url(#gG)"/>
<circle cx="557.6" cy="2453.9" r="8.8" fill="url(#gG)"/>
<circle cx="564.6" cy="2453.4" r="8.8" fill="url(#gG)"/>
<circle cx="571.7" cy="2452.8" r="8.8" fill="url(#gG)"/>
<circle cx="578.7" cy="2452.1" r="8.8" fill="url(#gG)"/>
<circle cx="585.7" cy="2451.3" r="8.8" fill="url(#gG)"/>
<circle cx="592.7" cy="2450.2" r="8.8" fill="url(#gG)"/>
<circle cx="599.7" cy="2449.0" r="8.8" fill="url(#gG)"/>
<circle cx="606.7" cy="2447.4" r="8.8" fill="url(#gG)"/>
<circle cx="613.7" cy="2445.3" r="8.8" fill="url(#gG)"/>
<circle cx="620.7" cy="2442.6" r="8.8" fill="url(#gG)"/>
<circle cx="627.8" cy="2439.1" r="8.8" fill="url(#gG)"/>
<circle cx="634.8" cy="2434.4" r="8.8" fill="url(#gG)"/>
<circle cx="641.8" cy="2428.2" r="8.8" fill="url(#gG)"/>
<circle cx="648.8" cy="2420.1" r="8.8" fill="url(#gG)"/>
<circle cx="655.8" cy="2409.7" r="8.8" fill="url(#gG)"/>
<circle cx="662.8" cy="2396.4" r="8.8" fill="url(#gG)"/>
<circle cx="669.8" cy="2379.7" r="8.8" fill="url(#gG)"/>
<circle cx="676.9" cy="2359.2" r="8.8" fill="url(#gG)"/>
<circle cx="683.9" cy="2334.5" r="8.8" fill="url(#gG)"/>
<circle cx="690.9" cy="2305.5" r="8.8" fill="url(#gG)"/>
<circle cx="697.9" cy="2272.2" r="8.8" fill="url(#gG)"/>
<circle cx="704.9" cy="2235.0" r="8.8" fill="url(#gG)"/>
<circle cx="711.9" cy="2194.6" r="8.8" fill="url(#gG)"/>
<circle cx="718.9" cy="2152.2" r="8.8" fill="url(#gG)"/>
<circle cx="725.9" cy="2109.2" r="8.8" fill="url(#gG)"/>
<circle cx="733.0" cy="2067.5" r="8.8" fill="url(#gG)"/>
<circle cx="740.0" cy="2029.4" r="8.8" fill="url(#gG)"/>
<circle cx="747.0" cy="1997.2" r="8.8" fill="url(#gG)"/>
<circle cx="754.0" cy="1973.7" r="8.8" fill="url(#gG)"/>
<circle cx="761.0" cy="1960.8" r="8.8" fill="url(#gG)"/>
<circle cx="768.0" cy="1960.0" r="8.8" fill="url(#gG)"/>
<circle cx="775.0" cy="1971.7" r="8.8" fill="url(#gG)"/>
<circle cx="782.0" cy="1994.8" r="8.8" fill="url(#gG)"/>
<circle cx="789.1" cy="2027.4" r="8.8" fill="url(#gG)"/>
<circle cx="796.1" cy="2067.1" r="8.8" fill="url(#gG)"/>
<circle cx="803.1" cy="2111.4" r="8.8" fill="url(#gG)"/>
<circle cx="810.1" cy="2157.6" r="8.8" fill="url(#gG)"/>
<circle cx="817.1" cy="2203.9" r="8.8" fill="url(#gG)"/>
<circle cx="824.1" cy="2248.4" r="8.8" fill="url(#gG)"/>
<circle cx="831.1" cy="2289.9" r="8.8" fill="url(#gG)"/>
<circle cx="838.2" cy="2327.5" r="8.8" fill="url(#gG)"/>
<circle cx="845.2" cy="2360.7" r="8.8" fill="url(#gG)"/>
<circle cx="852.2" cy="2389.2" r="8.8" fill="url(#gG)"/>
<circle cx="859.2" cy="2413.2" r="8.8" fill="url(#gG)"/>
<circle cx="866.2" cy="2432.9" r="8.8" fill="url(#gG)"/>
<circle cx="873.2" cy="2448.8" r="8.8" fill="url(#gG)"/>
<circle cx="880.2" cy="2461.4" r="8.8" fill="url(#gG)"/>
<circle cx="887.2" cy="2471.3" r="8.8" fill="url(#gG)"/>
<circle cx="894.3" cy="2478.8" r="8.8" fill="url(#gG)"/>
<circle cx="901.3" cy="2484.6" r="8.8" fill="url(#gG)"/>
<circle cx="908.3" cy="2489.0" r="8.8" fill="url(#gG)"/>
<circle cx="915.3" cy="2492.4" r="8.8" fill="url(#gG)"/>
<circle cx="922.3" cy="2495.0" r="8.8" fill="url(#gG)"/>
<circle cx="929.3" cy="2497.0" r="8.8" fill="url(#gG)"/>
<circle cx="936.3" cy="2498.5" r="8.8" fill="url(#gG)"/>
<circle cx="943.3" cy="2499.8" r="8.8" fill="url(#gG)"/>
<circle cx="950.4" cy="2500.9" r="8.8" fill="url(#gG)"/>
<circle cx="957.4" cy="2501.7" r="8.8" fill="url(#gG)"/>
<circle cx="964.4" cy="2502.5" r="8.8" fill="url(#gG)"/>
<circle cx="971.4" cy="2503.2" r="8.8" fill="url(#gG)"/>
<circle cx="978.4" cy="2503.8" r="8.8" fill="url(#gG)"/>
<circle cx="985.4" cy="2504.3" r="8.8" fill="url(#gG)"/>
<circle cx="992.4" cy="2504.8" r="8.8" fill="url(#gG)"/>
<circle cx="999.5" cy="2505.2" r="8.8" fill="url(#gG)"/>
<circle cx="1006.5" cy="2505.7" r="8.8" fill="url(#gG)"/>
<circle cx="1013.5" cy="2506.0" r="8.8" fill="url(#gG)"/>
<circle cx="1020.5" cy="2506.4" r="8.8" fill="url(#gG)"/>
<circle cx="1027.5" cy="2506.7" r="8.8" fill="url(#gG)"/>
<circle cx="1034.5" cy="2507.0" r="8.8" fill="url(#gG)"/>
<circle cx="1041.5" cy="2507.3" r="8.8" fill="url(#gG)"/>
<circle cx="1048.5" cy="2507.5" r="8.8" fill="url(#gG)"/>
<circle cx="1055.6" cy="2507.7" r="8.8" fill="url(#gG)"/>
<circle cx="1062.6" cy="2508.0" r="8.8" fill="url(#gG)"/>
<circle cx="1069.6" cy="2508.2" r="8.8" fill="url(#gG)"/>
<circle cx="1076.6" cy="2508.4" r="8.8" fill="url(#gG)"/>
<circle cx="1083.6" cy="2508.5" r="8.8" fill="url(#gG)"/>
<circle cx="1090.6" cy="2508.7" r="8.8" fill="url(#gG)"/>
<circle cx="108.8" cy="2429.1" r="8.8" fill="url(#gP)"/>
<circle cx="115.8" cy="2428.6" r="8.8" fill="url(#gP)"/>
<circle cx="122.8" cy="2428.1" r="8.8" fill="url(#gP)"/>
<circle cx="129.8" cy="2427.5" r="8.8" fill="url(#gP)"/>
<circle cx="136.9" cy="2426.8" r="8.8" fill="url(#gP)"/>
<circle cx="143.9" cy="2426.1" r="8.8" fill="url(#gP)"/>
<circle cx="150.9" cy="2425.2" r="8.8" fill="url(#gP)"/>
<circle cx="157.9" cy="2424.2" r="8.8" fill="url(#gP)"/>
<circle cx="164.9" cy="2423.1" r="8.8" fill="url(#gP)"/>
<circle cx="171.9" cy="2421.8" r="8.8" fill="url(#gP)"/>
<circle cx="178.9" cy="2420.4" r="8.8" fill="url(#gP)"/>
<circle cx="185.9" cy="2418.7" r="8.8" fill="url(#gP)"/>
<circle cx="193.0" cy="2416.7" r="8.8" fill="url(#gP)"/>
<circle cx="200.0" cy="2414.4" r="8.8" fill="url(#gP)"/>
<circle cx="207.0" cy="2411.8" r="8.8" fill="url(#gP)"/>
<circle cx="214.0" cy="2408.8" r="8.8" fill="url(#gP)"/>
<circle cx="221.0" cy="2405.4" r="8.8" fill="url(#gP)"/>
<circle cx="228.0" cy="2401.5" r="8.8" fill="url(#gP)"/>
<circle cx="235.0" cy="2397.1" r="8.8" fill="url(#gP)"/>
<circle cx="242.0" cy="2392.2" r="8.8" fill="url(#gP)"/>
<circle cx="249.1" cy="2386.8" r="8.8" fill="url(#gP)"/>
<circle cx="256.1" cy="2380.8" r="8.8" fill="url(#gP)"/>
<circle cx="263.1" cy="2374.2" r="8.8" fill="url(#gP)"/>
<circle cx="270.1" cy="2367.0" r="8.8" fill="url(#gP)"/>
<circle cx="277.1" cy="2359.4" r="8.8" fill="url(#gP)"/>
<circle cx="284.1" cy="2351.3" r="8.8" fill="url(#gP)"/>
<circle cx="291.1" cy="2342.7" r="8.8" fill="url(#gP)"/>
<circle cx="298.2" cy="2333.9" r="8.8" fill="url(#gP)"/>
<circle cx="305.2" cy="2324.9" r="8.8" fill="url(#gP)"/>
<circle cx="312.2" cy="2315.9" r="8.8" fill="url(#gP)"/>
<circle cx="319.2" cy="2307.0" r="8.8" fill="url(#gP)"/>
<circle cx="326.2" cy="2298.6" r="8.8" fill="url(#gP)"/>
<circle cx="333.2" cy="2290.9" r="8.8" fill="url(#gP)"/>
<circle cx="340.2" cy="2284.1" r="8.8" fill="url(#gP)"/>
<circle cx="347.2" cy="2278.7" r="8.8" fill="url(#gP)"/>
<circle cx="354.3" cy="2274.9" r="8.8" fill="url(#gP)"/>
<circle cx="361.3" cy="2272.9" r="8.8" fill="url(#gP)"/>
<circle cx="368.3" cy="2272.9" r="8.8" fill="url(#gP)"/>
<circle cx="375.3" cy="2274.9" r="8.8" fill="url(#gP)"/>
<circle cx="382.3" cy="2278.9" r="8.8" fill="url(#gP)"/>
<circle cx="389.3" cy="2284.6" r="8.8" fill="url(#gP)"/>
<circle cx="396.3" cy="2291.9" r="8.8" fill="url(#gP)"/>
<circle cx="403.3" cy="2300.5" r="8.8" fill="url(#gP)"/>
<circle cx="410.4" cy="2309.9" r="8.8" fill="url(#gP)"/>
<circle cx="417.4" cy="2319.9" r="8.8" fill="url(#gP)"/>
<circle cx="424.4" cy="2330.2" r="8.8" fill="url(#gP)"/>
<circle cx="431.4" cy="2340.5" r="8.8" fill="url(#gP)"/>
<circle cx="438.4" cy="2350.8" r="8.8" fill="url(#gP)"/>
<circle cx="445.4" cy="2360.7" r="8.8" fill="url(#gP)"/>
<circle cx="452.4" cy="2370.2" r="8.8" fill="url(#gP)"/>
<circle cx="459.4" cy="2379.3" r="8.8" fill="url(#gP)"/>
<circle cx="466.5" cy="2387.7" r="8.8" fill="url(#gP)"/>
<circle cx="473.5" cy="2395.6" r="8.8" fill="url(#gP)"/>
<circle cx="480.5" cy="2402.8" r="8.8" fill="url(#gP)"/>
<circle cx="487.5" cy="2409.3" r="8.8" fill="url(#gP)"/>
<circle cx="494.5" cy="2415.2" r="8.8" fill="url(#gP)"/>
<circle cx="501.5" cy="2420.6" r="8.8" fill="url(#gP)"/>
<circle cx="508.5" cy="2425.3" r="8.8" fill="url(#gP)"/>
<circle cx="515.6" cy="2429.5" r="8.8" fill="url(#gP)"/>
<circle cx="522.6" cy="2433.2" r="8.8" fill="url(#gP)"/>
<circle cx="529.6" cy="2436.4" r="8.8" fill="url(#gP)"/>
<circle cx="536.6" cy="2439.2" r="8.8" fill="url(#gP)"/>
<circle cx="543.6" cy="2441.7" r="8.8" fill="url(#gP)"/>
<circle cx="550.6" cy="2443.8" r="8.8" fill="url(#gP)"/>
<circle cx="557.6" cy="2445.6" r="8.8" fill="url(#gP)"/>
<circle cx="564.6" cy="2447.2" r="8.8" fill="url(#gP)"/>
<circle cx="571.7" cy="2448.6" r="8.8" fill="url(#gP)"/>
<circle cx="578.7" cy="2449.8" r="8.8" fill="url(#gP)"/>
<circle cx="585.7" cy="2450.9" r="8.8" fill="url(#gP)"/>
<circle cx="592.7" cy="2451.8" r="8.8" fill="url(#gP)"/>
<circle cx="599.7" cy="2452.6" r="8.8" fill="url(#gP)"/>
<circle cx="606.7" cy="2453.4" r="8.8" fill="url(#gP)"/>
<circle cx="613.7" cy="2454.1" r="8.8" fill="url(#gP)"/>
<circle cx="620.7" cy="2454.7" r="8.8" fill="url(#gP)"/>
<circle cx="627.8" cy="2455.3" r="8.8" fill="url(#gP)"/>
<circle cx="634.8" cy="2455.8" r="8.8" fill="url(#gP)"/>
<circle cx="641.8" cy="2456.4" r="8.8" fill="url(#gP)"/>
<circle cx="648.8" cy="2456.9" r="8.8" fill="url(#gP)"/>
<circle cx="655.8" cy="2457.4" r="8.8" fill="url(#gP)"/>
<circle cx="662.8" cy="2458.0" r="8.8" fill="url(#gP)"/>
<circle cx="669.8" cy="2458.6" r="8.8" fill="url(#gP)"/>
<circle cx="676.9" cy="2459.3" r="8.8" fill="url(#gP)"/>
<circle cx="683.9" cy="2460.1" r="8.8" fill="url(#gP)"/>
<circle cx="690.9" cy="2460.9" r="8.8" fill="url(#gP)"/>
<circle cx="697.9" cy="2461.9" r="8.8" fill="url(#gP)"/>
<circle cx="704.9" cy="2463.1" r="8.8" fill="url(#gP)"/>
<circle cx="711.9" cy="2464.4" r="8.8" fill="url(#gP)"/>
<circle cx="718.9" cy="2465.9" r="8.8" fill="url(#gP)"/>
<circle cx="725.9" cy="2467.7" r="8.8" fill="url(#gP)"/>
<circle cx="733.0" cy="2469.8" r="8.8" fill="url(#gP)"/>
<circle cx="740.0" cy="2472.1" r="8.8" fill="url(#gP)"/>
<circle cx="747.0" cy="2474.7" r="8.8" fill="url(#gP)"/>
<circle cx="754.0" cy="2477.5" r="8.8" fill="url(#gP)"/>
<circle cx="761.0" cy="2480.4" r="8.8" fill="url(#gP)"/>
<circle cx="768.0" cy="2483.5" r="8.8" fill="url(#gP)"/>
<circle cx="775.0" cy="2486.6" r="8.8" fill="url(#gP)"/>
<circle cx="782.0" cy="2489.6" r="8.8" fill="url(#gP)"/>
<circle cx="789.1" cy="2492.5" r="8.8" fill="url(#gP)"/>
<circle cx="796.1" cy="2495.1" r="8.8" fill="url(#gP)"/>
<circle cx="803.1" cy="2497.5" r="8.8" fill="url(#gP)"/>
<circle cx="810.1" cy="2499.7" r="8.8" fill="url(#gP)"/>
<circle cx="817.1" cy="2501.5" r="8.8" fill="url(#gP)"/>
<circle cx="824.1" cy="2503.1" r="8.8" fill="url(#gP)"/>
<circle cx="831.1" cy="2504.5" r="8.8" fill="url(#gP)"/>
<circle cx="838.2" cy="2505.6" r="8.8" fill="url(#gP)"/>
<circle cx="845.2" cy="2506.5" r="8.8" fill="url(#gP)"/>
<circle cx="852.2" cy="2507.3" r="8.8" fill="url(#gP)"/>
<circle cx="859.2" cy="2507.9" r="8.8" fill="url(#gP)"/>
<circle cx="866.2" cy="2508.4" r="8.8" fill="url(#gP)"/>
<circle cx="873.2" cy="2508.8" r="8.8" fill="url(#gP)"/>
<circle cx="880.2" cy="2509.2" r="8.8" fill="url(#gP)"/>
<circle cx="887.2" cy="2509.5" r="8.8" fill="url(#gP)"/>
<circle cx="894.3" cy="2509.7" r="8.8" fill="url(#gP)"/>
<circle cx="901.3" cy="2509.9" r="8.8" fill="url(#gP)"/>
<circle cx="908.3" cy="2510.1" r="8.8" fill="url(#gP)"/>
<circle cx="915.3" cy="2510.2" r="8.8" fill="url(#gP)"/>
<circle cx="922.3" cy="2510.3" r="8.8" fill="url(#gP)"/>
<circle cx="929.3" cy="2510.4" r="8.8" fill="url(#gP)"/>
<circle cx="936.3" cy="2510.5" r="8.8" fill="url(#gP)"/>
<circle cx="943.3" cy="2510.6" r="8.8" fill="url(#gP)"/>
<circle cx="950.4" cy="2510.7" r="8.8" fill="url(#gP)"/>
<circle cx="957.4" cy="2510.8" r="8.8" fill="url(#gP)"/>
<circle cx="964.4" cy="2510.8" r="8.8" fill="url(#gP)"/>
<circle cx="971.4" cy="2510.9" r="8.8" fill="url(#gP)"/>
<circle cx="978.4" cy="2510.9" r="8.8" fill="url(#gP)"/>
<circle cx="985.4" cy="2511.0" r="8.8" fill="url(#gP)"/>
<circle cx="992.4" cy="2511.0" r="8.8" fill="url(#gP)"/>
<circle cx="999.5" cy="2511.0" r="8.8" fill="url(#gP)"/>
<circle cx="1006.5" cy="2511.1" r="8.8" fill="url(#gP)"/>
<circle cx="1013.5" cy="2511.1" r="8.8" fill="url(#gP)"/>
<circle cx="1020.5" cy="2511.1" r="8.8" fill="url(#gP)"/>
<circle cx="1027.5" cy="2511.2" r="8.8" fill="url(#gP)"/>
<circle cx="1034.5" cy="2511.2" r="8.8" fill="url(#gP)"/>
<circle cx="1041.5" cy="2511.2" r="8.8" fill="url(#gP)"/>
<circle cx="1048.5" cy="2511.3" r="8.8" fill="url(#gP)"/>
<circle cx="1055.6" cy="2511.3" r="8.8" fill="url(#gP)"/>
<circle cx="1062.6" cy="2511.3" r="8.8" fill="url(#gP)"/>
<circle cx="1069.6" cy="2511.3" r="8.8" fill="url(#gP)"/>
<circle cx="1076.6" cy="2511.4" r="8.8" fill="url(#gP)"/>
<circle cx="1083.6" cy="2511.4" r="8.8" fill="url(#gP)"/>
<circle cx="1090.6" cy="2511.4" r="8.8" fill="url(#gP)"/>
</g>
<clipPath id="cf"><rect x="1195" y="1857" width="968" height="748"/></clipPath>
<g clip-path="url(#cf)">
<circle cx="1190.5" cy="2476.0" r="8.5" fill="url(#gR)"/>
<circle cx="1197.0" cy="2476.1" r="8.5" fill="url(#gR)"/>
<circle cx="1203.5" cy="2476.2" r="8.5" fill="url(#gR)"/>
<circle cx="1210.0" cy="2476.3" r="8.5" fill="url(#gR)"/>
<circle cx="1216.5" cy="2476.4" r="8.5" fill="url(#gR)"/>
<circle cx="1223.0" cy="2476.5" r="8.5" fill="url(#gR)"/>
<circle cx="1229.5" cy="2476.6" r="8.5" fill="url(#gR)"/>
<circle cx="1236.1" cy="2476.7" r="8.5" fill="url(#gR)"/>
<circle cx="1242.6" cy="2476.8" r="8.5" fill="url(#gR)"/>
<circle cx="1249.1" cy="2476.8" r="8.5" fill="url(#gR)"/>
<circle cx="1255.6" cy="2476.9" r="8.5" fill="url(#gR)"/>
<circle cx="1262.1" cy="2477.0" r="8.5" fill="url(#gR)"/>
<circle cx="1268.6" cy="2477.1" r="8.5" fill="url(#gR)"/>
<circle cx="1275.1" cy="2477.2" r="8.5" fill="url(#gR)"/>
<circle cx="1281.6" cy="2477.3" r="8.5" fill="url(#gR)"/>
<circle cx="1288.1" cy="2477.4" r="8.5" fill="url(#gR)"/>
<circle cx="1294.6" cy="2477.5" r="8.5" fill="url(#gR)"/>
<circle cx="1301.1" cy="2477.6" r="8.5" fill="url(#gR)"/>
<circle cx="1307.6" cy="2477.7" r="8.5" fill="url(#gR)"/>
<circle cx="1314.2" cy="2477.8" r="8.5" fill="url(#gR)"/>
<circle cx="1320.7" cy="2477.9" r="8.5" fill="url(#gR)"/>
<circle cx="1327.2" cy="2478.0" r="8.5" fill="url(#gR)"/>
<circle cx="1333.7" cy="2478.1" r="8.5" fill="url(#gR)"/>
<circle cx="1340.2" cy="2478.2" r="8.5" fill="url(#gR)"/>
<circle cx="1346.7" cy="2478.3" r="8.5" fill="url(#gR)"/>
<circle cx="1353.2" cy="2478.4" r="8.5" fill="url(#gR)"/>
<circle cx="1359.7" cy="2478.5" r="8.5" fill="url(#gR)"/>
<circle cx="1366.2" cy="2478.6" r="8.5" fill="url(#gR)"/>
<circle cx="1372.7" cy="2478.7" r="8.5" fill="url(#gR)"/>
<circle cx="1379.2" cy="2478.7" r="8.5" fill="url(#gR)"/>
<circle cx="1385.7" cy="2478.8" r="8.5" fill="url(#gR)"/>
<circle cx="1392.2" cy="2478.9" r="8.5" fill="url(#gR)"/>
<circle cx="1398.8" cy="2479.0" r="8.5" fill="url(#gR)"/>
<circle cx="1405.3" cy="2479.1" r="8.5" fill="url(#gR)"/>
<circle cx="1411.8" cy="2479.2" r="8.5" fill="url(#gR)"/>
<circle cx="1418.3" cy="2479.3" r="8.5" fill="url(#gR)"/>
<circle cx="1424.8" cy="2479.4" r="8.5" fill="url(#gR)"/>
<circle cx="1431.3" cy="2479.5" r="8.5" fill="url(#gR)"/>
<circle cx="1437.8" cy="2479.6" r="8.5" fill="url(#gR)"/>
<circle cx="1444.3" cy="2479.7" r="8.5" fill="url(#gR)"/>
<circle cx="1450.8" cy="2479.8" r="8.5" fill="url(#gR)"/>
<circle cx="1457.3" cy="2479.9" r="8.5" fill="url(#gR)"/>
<circle cx="1463.8" cy="2480.0" r="8.5" fill="url(#gR)"/>
<circle cx="1470.3" cy="2480.1" r="8.5" fill="url(#gR)"/>
<circle cx="1476.9" cy="2480.2" r="8.5" fill="url(#gR)"/>
<circle cx="1483.4" cy="2480.3" r="8.5" fill="url(#gR)"/>
<circle cx="1489.9" cy="2480.4" r="8.5" fill="url(#gR)"/>
<circle cx="1496.4" cy="2480.5" r="8.5" fill="url(#gR)"/>
<circle cx="1502.9" cy="2480.6" r="8.5" fill="url(#gR)"/>
<circle cx="1509.4" cy="2480.6" r="8.5" fill="url(#gR)"/>
<circle cx="1515.9" cy="2480.7" r="8.5" fill="url(#gR)"/>
<circle cx="1522.4" cy="2480.8" r="8.5" fill="url(#gR)"/>
<circle cx="1528.9" cy="2480.9" r="8.5" fill="url(#gR)"/>
<circle cx="1535.4" cy="2481.0" r="8.5" fill="url(#gR)"/>
<circle cx="1541.9" cy="2481.1" r="8.5" fill="url(#gR)"/>
<circle cx="1548.4" cy="2481.2" r="8.5" fill="url(#gR)"/>
<circle cx="1554.9" cy="2481.3" r="8.5" fill="url(#gR)"/>
<circle cx="1561.5" cy="2481.4" r="8.5" fill="url(#gR)"/>
<circle cx="1568.0" cy="2481.5" r="8.5" fill="url(#gR)"/>
<circle cx="1574.5" cy="2481.6" r="8.5" fill="url(#gR)"/>
<circle cx="1581.0" cy="2481.7" r="8.5" fill="url(#gR)"/>
<circle cx="1587.5" cy="2481.8" r="8.5" fill="url(#gR)"/>
<circle cx="1594.0" cy="2481.9" r="8.5" fill="url(#gR)"/>
<circle cx="1600.5" cy="2482.0" r="8.5" fill="url(#gR)"/>
<circle cx="1607.0" cy="2482.1" r="8.5" fill="url(#gR)"/>
<circle cx="1613.5" cy="2482.2" r="8.5" fill="url(#gR)"/>
<circle cx="1620.0" cy="2482.3" r="8.5" fill="url(#gR)"/>
<circle cx="1626.5" cy="2482.4" r="8.5" fill="url(#gR)"/>
<circle cx="1633.0" cy="2482.5" r="8.5" fill="url(#gR)"/>
<circle cx="1639.6" cy="2482.5" r="8.5" fill="url(#gR)"/>
<circle cx="1646.1" cy="2482.6" r="8.5" fill="url(#gR)"/>
<circle cx="1652.6" cy="2482.7" r="8.5" fill="url(#gR)"/>
<circle cx="1659.1" cy="2482.8" r="8.5" fill="url(#gR)"/>
<circle cx="1665.6" cy="2482.9" r="8.5" fill="url(#gR)"/>
<circle cx="1672.1" cy="2483.0" r="8.5" fill="url(#gR)"/>
<circle cx="1678.6" cy="2483.1" r="8.5" fill="url(#gR)"/>
<circle cx="1685.1" cy="2483.2" r="8.5" fill="url(#gR)"/>
<circle cx="1691.6" cy="2483.3" r="8.5" fill="url(#gR)"/>
<circle cx="1698.1" cy="2483.4" r="8.5" fill="url(#gR)"/>
<circle cx="1704.6" cy="2483.5" r="8.5" fill="url(#gR)"/>
<circle cx="1711.1" cy="2483.6" r="8.5" fill="url(#gR)"/>
<circle cx="1717.6" cy="2483.7" r="8.5" fill="url(#gR)"/>
<circle cx="1724.2" cy="2483.8" r="8.5" fill="url(#gR)"/>
<circle cx="1730.7" cy="2483.9" r="8.5" fill="url(#gR)"/>
<circle cx="1737.2" cy="2484.0" r="8.5" fill="url(#gR)"/>
<circle cx="1743.7" cy="2484.1" r="8.5" fill="url(#gR)"/>
<circle cx="1750.2" cy="2484.2" r="8.5" fill="url(#gR)"/>
<circle cx="1756.7" cy="2484.3" r="8.5" fill="url(#gR)"/>
<circle cx="1763.2" cy="2484.4" r="8.5" fill="url(#gR)"/>
<circle cx="1769.7" cy="2484.4" r="8.5" fill="url(#gR)"/>
<circle cx="1776.2" cy="2484.5" r="8.5" fill="url(#gR)"/>
<circle cx="1782.7" cy="2484.6" r="8.5" fill="url(#gR)"/>
<circle cx="1789.2" cy="2484.7" r="8.5" fill="url(#gR)"/>
<circle cx="1795.7" cy="2484.8" r="8.5" fill="url(#gR)"/>
<circle cx="1802.3" cy="2484.9" r="8.5" fill="url(#gR)"/>
<circle cx="1808.8" cy="2485.0" r="8.5" fill="url(#gR)"/>
<circle cx="1815.3" cy="2485.1" r="8.5" fill="url(#gR)"/>
<circle cx="1821.8" cy="2485.2" r="8.5" fill="url(#gR)"/>
<circle cx="1828.3" cy="2485.3" r="8.5" fill="url(#gR)"/>
<circle cx="1834.8" cy="2485.4" r="8.5" fill="url(#gR)"/>
<circle cx="1841.3" cy="2485.5" r="8.5" fill="url(#gR)"/>
<circle cx="1847.8" cy="2485.6" r="8.5" fill="url(#gR)"/>
<circle cx="1854.3" cy="2485.7" r="8.5" fill="url(#gR)"/>
<circle cx="1860.8" cy="2485.8" r="8.5" fill="url(#gR)"/>
<circle cx="1867.3" cy="2485.9" r="8.5" fill="url(#gR)"/>
<circle cx="1873.8" cy="2486.0" r="8.5" fill="url(#gR)"/>
<circle cx="1880.3" cy="2486.1" r="8.5" fill="url(#gR)"/>
<circle cx="1886.9" cy="2486.2" r="8.5" fill="url(#gR)"/>
<circle cx="1893.4" cy="2486.3" r="8.5" fill="url(#gR)"/>
<circle cx="1899.9" cy="2486.3" r="8.5" fill="url(#gR)"/>
<circle cx="1906.4" cy="2486.4" r="8.5" fill="url(#gR)"/>
<circle cx="1912.9" cy="2486.5" r="8.5" fill="url(#gR)"/>
<circle cx="1919.4" cy="2486.6" r="8.5" fill="url(#gR)"/>
<circle cx="1925.9" cy="2486.7" r="8.5" fill="url(#gR)"/>
<circle cx="1932.4" cy="2486.8" r="8.5" fill="url(#gR)"/>
<circle cx="1938.9" cy="2486.9" r="8.5" fill="url(#gR)"/>
<circle cx="1945.4" cy="2487.0" r="8.5" fill="url(#gR)"/>
<circle cx="1951.9" cy="2487.1" r="8.5" fill="url(#gR)"/>
<circle cx="1958.4" cy="2487.2" r="8.5" fill="url(#gR)"/>
<circle cx="1965.0" cy="2487.3" r="8.5" fill="url(#gR)"/>
<circle cx="1971.5" cy="2487.4" r="8.5" fill="url(#gR)"/>
<circle cx="1978.0" cy="2487.5" r="8.5" fill="url(#gR)"/>
<circle cx="1984.5" cy="2487.6" r="8.5" fill="url(#gR)"/>
<circle cx="1991.0" cy="2487.7" r="8.5" fill="url(#gR)"/>
<circle cx="1997.5" cy="2487.8" r="8.5" fill="url(#gR)"/>
<circle cx="2004.0" cy="2487.9" r="8.5" fill="url(#gR)"/>
<circle cx="2010.5" cy="2488.0" r="8.5" fill="url(#gR)"/>
<circle cx="2017.0" cy="2488.1" r="8.5" fill="url(#gR)"/>
<circle cx="2023.5" cy="2488.2" r="8.5" fill="url(#gR)"/>
<circle cx="2030.0" cy="2488.2" r="8.5" fill="url(#gR)"/>
<circle cx="2036.5" cy="2488.3" r="8.5" fill="url(#gR)"/>
<circle cx="2043.0" cy="2488.4" r="8.5" fill="url(#gR)"/>
<circle cx="2049.6" cy="2488.5" r="8.5" fill="url(#gR)"/>
<circle cx="2056.1" cy="2488.6" r="8.5" fill="url(#gR)"/>
<circle cx="2062.6" cy="2488.7" r="8.5" fill="url(#gR)"/>
<circle cx="2069.1" cy="2488.8" r="8.5" fill="url(#gR)"/>
<circle cx="2075.6" cy="2488.9" r="8.5" fill="url(#gR)"/>
<circle cx="2082.1" cy="2489.0" r="8.5" fill="url(#gR)"/>
<circle cx="1190.5" cy="2459.2" r="8.5" fill="url(#gU)"/>
<circle cx="1197.0" cy="2470.4" r="8.5" fill="url(#gU)"/>
<circle cx="1203.5" cy="2474.3" r="8.5" fill="url(#gU)"/>
<circle cx="1210.0" cy="2468.7" r="8.5" fill="url(#gU)"/>
<circle cx="1216.5" cy="2475.1" r="8.5" fill="url(#gU)"/>
<circle cx="1223.0" cy="2479.1" r="8.5" fill="url(#gU)"/>
<circle cx="1229.5" cy="2480.2" r="8.5" fill="url(#gU)"/>
<circle cx="1236.1" cy="2467.4" r="8.5" fill="url(#gU)"/>
<circle cx="1242.6" cy="2474.3" r="8.5" fill="url(#gU)"/>
<circle cx="1249.1" cy="2461.3" r="8.5" fill="url(#gU)"/>
<circle cx="1255.6" cy="2474.2" r="8.5" fill="url(#gU)"/>
<circle cx="1262.1" cy="2465.5" r="8.5" fill="url(#gU)"/>
<circle cx="1268.6" cy="2473.3" r="8.5" fill="url(#gU)"/>
<circle cx="1275.1" cy="2465.2" r="8.5" fill="url(#gU)"/>
<circle cx="1281.6" cy="2469.4" r="8.5" fill="url(#gU)"/>
<circle cx="1288.1" cy="2468.1" r="8.5" fill="url(#gU)"/>
<circle cx="1294.6" cy="2476.3" r="8.5" fill="url(#gU)"/>
<circle cx="1301.1" cy="2474.0" r="8.5" fill="url(#gU)"/>
<circle cx="1307.6" cy="2460.8" r="8.5" fill="url(#gU)"/>
<circle cx="1314.2" cy="2466.5" r="8.5" fill="url(#gU)"/>
<circle cx="1320.7" cy="2468.6" r="8.5" fill="url(#gU)"/>
<circle cx="1327.2" cy="2455.8" r="8.5" fill="url(#gU)"/>
<circle cx="1333.7" cy="2460.2" r="8.5" fill="url(#gU)"/>
<circle cx="1340.2" cy="2469.2" r="8.5" fill="url(#gU)"/>
<circle cx="1346.7" cy="2459.6" r="8.5" fill="url(#gU)"/>
<circle cx="1353.2" cy="2454.1" r="8.5" fill="url(#gU)"/>
<circle cx="1359.7" cy="2456.9" r="8.5" fill="url(#gU)"/>
<circle cx="1366.2" cy="2450.0" r="8.5" fill="url(#gU)"/>
<circle cx="1372.7" cy="2448.8" r="8.5" fill="url(#gU)"/>
<circle cx="1379.2" cy="2452.9" r="8.5" fill="url(#gU)"/>
<circle cx="1385.7" cy="2452.4" r="8.5" fill="url(#gU)"/>
<circle cx="1392.2" cy="2441.9" r="8.5" fill="url(#gU)"/>
<circle cx="1398.8" cy="2425.6" r="8.5" fill="url(#gU)"/>
<circle cx="1405.3" cy="2440.6" r="8.5" fill="url(#gU)"/>
<circle cx="1411.8" cy="2443.1" r="8.5" fill="url(#gU)"/>
<circle cx="1418.3" cy="2443.3" r="8.5" fill="url(#gU)"/>
<circle cx="1424.8" cy="2441.1" r="8.5" fill="url(#gU)"/>
<circle cx="1431.3" cy="2430.5" r="8.5" fill="url(#gU)"/>
<circle cx="1437.8" cy="2429.0" r="8.5" fill="url(#gU)"/>
<circle cx="1444.3" cy="2430.8" r="8.5" fill="url(#gU)"/>
<circle cx="1450.8" cy="2420.7" r="8.5" fill="url(#gU)"/>
<circle cx="1457.3" cy="2424.1" r="8.5" fill="url(#gU)"/>
<circle cx="1463.8" cy="2421.6" r="8.5" fill="url(#gU)"/>
<circle cx="1470.3" cy="2418.9" r="8.5" fill="url(#gU)"/>
<circle cx="1476.9" cy="2424.9" r="8.5" fill="url(#gU)"/>
<circle cx="1483.4" cy="2416.3" r="8.5" fill="url(#gU)"/>
<circle cx="1489.9" cy="2411.2" r="8.5" fill="url(#gU)"/>
<circle cx="1496.4" cy="2420.3" r="8.5" fill="url(#gU)"/>
<circle cx="1502.9" cy="2408.3" r="8.5" fill="url(#gU)"/>
<circle cx="1509.4" cy="2413.0" r="8.5" fill="url(#gU)"/>
<circle cx="1515.9" cy="2416.6" r="8.5" fill="url(#gU)"/>
<circle cx="1522.4" cy="2403.3" r="8.5" fill="url(#gU)"/>
<circle cx="1528.9" cy="2410.3" r="8.5" fill="url(#gU)"/>
<circle cx="1535.4" cy="2396.7" r="8.5" fill="url(#gU)"/>
<circle cx="1541.9" cy="2413.6" r="8.5" fill="url(#gU)"/>
<circle cx="1548.4" cy="2408.4" r="8.5" fill="url(#gU)"/>
<circle cx="1554.9" cy="2408.4" r="8.5" fill="url(#gU)"/>
<circle cx="1561.5" cy="2401.8" r="8.5" fill="url(#gU)"/>
<circle cx="1568.0" cy="2407.1" r="8.5" fill="url(#gU)"/>
<circle cx="1574.5" cy="2399.7" r="8.5" fill="url(#gU)"/>
<circle cx="1581.0" cy="2391.5" r="8.5" fill="url(#gU)"/>
<circle cx="1587.5" cy="2397.6" r="8.5" fill="url(#gU)"/>
<circle cx="1594.0" cy="2365.4" r="8.5" fill="url(#gU)"/>
<circle cx="1600.5" cy="2378.3" r="8.5" fill="url(#gU)"/>
<circle cx="1607.0" cy="2355.9" r="8.5" fill="url(#gU)"/>
<circle cx="1613.5" cy="2338.7" r="8.5" fill="url(#gU)"/>
<circle cx="1620.0" cy="2324.7" r="8.5" fill="url(#gU)"/>
<circle cx="1626.5" cy="2301.4" r="8.5" fill="url(#gU)"/>
<circle cx="1633.0" cy="2287.2" r="8.5" fill="url(#gU)"/>
<circle cx="1639.6" cy="2246.1" r="8.5" fill="url(#gU)"/>
<circle cx="1646.1" cy="2213.8" r="8.5" fill="url(#gU)"/>
<circle cx="1652.6" cy="2192.8" r="8.5" fill="url(#gU)"/>
<circle cx="1659.1" cy="2162.7" r="8.5" fill="url(#gU)"/>
<circle cx="1665.6" cy="2130.0" r="8.5" fill="url(#gU)"/>
<circle cx="1672.1" cy="2079.0" r="8.5" fill="url(#gU)"/>
<circle cx="1678.6" cy="2067.7" r="8.5" fill="url(#gU)"/>
<circle cx="1685.1" cy="2021.2" r="8.5" fill="url(#gU)"/>
<circle cx="1691.6" cy="2013.6" r="8.5" fill="url(#gU)"/>
<circle cx="1698.1" cy="1977.2" r="8.5" fill="url(#gU)"/>
<circle cx="1704.6" cy="1968.0" r="8.5" fill="url(#gU)"/>
<circle cx="1711.1" cy="1950.9" r="8.5" fill="url(#gU)"/>
<circle cx="1717.6" cy="1974.7" r="8.5" fill="url(#gU)"/>
<circle cx="1724.2" cy="1975.3" r="8.5" fill="url(#gU)"/>
<circle cx="1730.7" cy="1976.3" r="8.5" fill="url(#gU)"/>
<circle cx="1737.2" cy="1996.5" r="8.5" fill="url(#gU)"/>
<circle cx="1743.7" cy="2012.3" r="8.5" fill="url(#gU)"/>
<circle cx="1750.2" cy="2038.2" r="8.5" fill="url(#gU)"/>
<circle cx="1756.7" cy="2081.3" r="8.5" fill="url(#gU)"/>
<circle cx="1763.2" cy="2118.1" r="8.5" fill="url(#gU)"/>
<circle cx="1769.7" cy="2167.4" r="8.5" fill="url(#gU)"/>
<circle cx="1776.2" cy="2204.4" r="8.5" fill="url(#gU)"/>
<circle cx="1782.7" cy="2259.3" r="8.5" fill="url(#gU)"/>
<circle cx="1789.2" cy="2304.8" r="8.5" fill="url(#gU)"/>
<circle cx="1795.7" cy="2336.1" r="8.5" fill="url(#gU)"/>
<circle cx="1802.3" cy="2372.2" r="8.5" fill="url(#gU)"/>
<circle cx="1808.8" cy="2395.2" r="8.5" fill="url(#gU)"/>
<circle cx="1815.3" cy="2410.8" r="8.5" fill="url(#gU)"/>
<circle cx="1821.8" cy="2435.5" r="8.5" fill="url(#gU)"/>
<circle cx="1828.3" cy="2453.0" r="8.5" fill="url(#gU)"/>
<circle cx="1834.8" cy="2458.8" r="8.5" fill="url(#gU)"/>
<circle cx="1841.3" cy="2476.5" r="8.5" fill="url(#gU)"/>
<circle cx="1847.8" cy="2471.7" r="8.5" fill="url(#gU)"/>
<circle cx="1854.3" cy="2465.9" r="8.5" fill="url(#gU)"/>
<circle cx="1860.8" cy="2488.6" r="8.5" fill="url(#gU)"/>
<circle cx="1867.3" cy="2473.5" r="8.5" fill="url(#gU)"/>
<circle cx="1873.8" cy="2490.5" r="8.5" fill="url(#gU)"/>
<circle cx="1880.3" cy="2490.4" r="8.5" fill="url(#gU)"/>
<circle cx="1886.9" cy="2481.3" r="8.5" fill="url(#gU)"/>
<circle cx="1893.4" cy="2490.6" r="8.5" fill="url(#gU)"/>
<circle cx="1899.9" cy="2487.4" r="8.5" fill="url(#gU)"/>
<circle cx="1906.4" cy="2484.5" r="8.5" fill="url(#gU)"/>
<circle cx="1912.9" cy="2495.4" r="8.5" fill="url(#gU)"/>
<circle cx="1919.4" cy="2487.6" r="8.5" fill="url(#gU)"/>
<circle cx="1925.9" cy="2491.3" r="8.5" fill="url(#gU)"/>
<circle cx="1932.4" cy="2501.2" r="8.5" fill="url(#gU)"/>
<circle cx="1938.9" cy="2487.7" r="8.5" fill="url(#gU)"/>
<circle cx="1945.4" cy="2492.1" r="8.5" fill="url(#gU)"/>
<circle cx="1951.9" cy="2488.2" r="8.5" fill="url(#gU)"/>
<circle cx="1958.4" cy="2505.3" r="8.5" fill="url(#gU)"/>
<circle cx="1965.0" cy="2491.7" r="8.5" fill="url(#gU)"/>
<circle cx="1971.5" cy="2500.1" r="8.5" fill="url(#gU)"/>
<circle cx="1978.0" cy="2495.8" r="8.5" fill="url(#gU)"/>
<circle cx="1984.5" cy="2494.6" r="8.5" fill="url(#gU)"/>
<circle cx="1991.0" cy="2495.3" r="8.5" fill="url(#gU)"/>
<circle cx="1997.5" cy="2500.8" r="8.5" fill="url(#gU)"/>
<circle cx="2004.0" cy="2494.5" r="8.5" fill="url(#gU)"/>
<circle cx="2010.5" cy="2506.5" r="8.5" fill="url(#gU)"/>
<circle cx="2017.0" cy="2504.2" r="8.5" fill="url(#gU)"/>
<circle cx="2023.5" cy="2493.4" r="8.5" fill="url(#gU)"/>
<circle cx="2030.0" cy="2506.7" r="8.5" fill="url(#gU)"/>
<circle cx="2036.5" cy="2499.4" r="8.5" fill="url(#gU)"/>
<circle cx="2043.0" cy="2500.3" r="8.5" fill="url(#gU)"/>
<circle cx="2049.6" cy="2499.6" r="8.5" fill="url(#gU)"/>
<circle cx="2056.1" cy="2502.2" r="8.5" fill="url(#gU)"/>
<circle cx="2062.6" cy="2500.9" r="8.5" fill="url(#gU)"/>
<circle cx="2069.1" cy="2498.8" r="8.5" fill="url(#gU)"/>
<circle cx="2075.6" cy="2501.9" r="8.5" fill="url(#gU)"/>
<circle cx="2082.1" cy="2509.0" r="8.5" fill="url(#gU)"/>
<polyline points="1190.5,2473.4 1197.0,2473.3 1203.5,2473.2 1210.0,2473.1 1216.5,2473.0 1223.0,2472.8 1229.5,2472.6 1236.1,2472.4 1242.6,2472.1 1249.1,2471.8 1255.6,2471.4 1262.1,2471.0 1268.6,2470.5 1275.1,2469.9 1281.6,2469.3 1288.1,2468.6 1294.6,2467.8 1301.1,2467.0 1307.6,2466.0 1314.2,2465.0 1320.7,2463.9 1327.2,2462.7 1333.7,2461.4 1340.2,2460.0 1346.7,2458.5 1353.2,2456.9 1359.7,2455.2 1366.2,2453.5 1372.7,2451.6 1379.2,2449.7 1385.7,2447.7 1392.2,2445.6 1398.8,2443.5 1405.3,2441.4 1411.8,2439.3 1418.3,2437.1 1424.8,2434.9 1431.3,2432.8 1437.8,2430.6 1444.3,2428.6 1450.8,2426.6 1457.3,2424.6 1463.8,2422.8 1470.3,2421.0 1476.9,2419.4 1483.4,2417.8 1489.9,2416.4 1496.4,2415.2 1502.9,2414.0 1509.4,2412.9 1515.9,2412.0 1522.4,2411.1 1528.9,2410.2 1535.4,2409.4 1541.9,2408.4 1548.4,2407.2 1554.9,2405.8 1561.5,2403.9 1568.0,2401.3 1574.5,2397.9 1581.0,2393.5 1587.5,2387.6 1594.0,2380.0 1600.5,2370.4 1607.0,2358.5 1613.5,2343.9 1620.0,2326.5 1626.5,2306.0 1633.0,2282.3 1639.6,2255.6 1646.1,2226.0 1652.6,2194.0 1659.1,2160.2 1665.6,2125.4 1672.1,2090.7 1678.6,2057.2 1685.1,2026.5 1691.6,2000.2 1698.1,1979.8 1704.6,1966.9 1711.1,1962.6 1717.6,1964.5 1724.2,1969.8 1730.7,1979.8 1737.2,1995.6 1743.7,2017.5 1750.2,2045.7 1756.7,2079.8 1763.2,2119.0 1769.7,2161.7 1776.2,2206.4 1782.7,2251.1 1789.2,2294.0 1795.7,2333.3 1802.3,2367.8 1808.8,2396.9 1815.3,2420.4 1821.8,2438.5 1828.3,2451.9 1834.8,2461.5 1841.3,2468.2 1847.8,2473.4 1854.3,2477.1 1860.8,2479.8 1867.3,2482.0 1873.8,2483.7 1880.3,2485.3 1886.9,2486.7 1893.4,2488.0 1899.9,2489.3 1906.4,2490.5 1912.9,2491.8 1919.4,2493.0 1925.9,2494.1 1932.4,2495.3 1938.9,2496.4 1945.4,2496.8 1951.9,2497.1 1958.4,2497.3 1965.0,2497.6 1971.5,2497.8 1978.0,2498.0 1984.5,2498.2 1991.0,2498.4 1997.5,2498.6 2004.0,2498.8 2010.5,2499.0 2017.0,2499.2 2023.5,2499.3 2030.0,2499.5 2036.5,2499.7 2043.0,2499.8 2049.6,2500.0 2056.1,2500.1 2062.6,2500.3 2069.1,2500.4 2075.6,2500.6 2082.1,2500.7" fill="none" stroke="#555" stroke-width="1.2" stroke-linejoin="round" stroke-linecap="round"/>
<circle cx="1190.5" cy="2471.5" r="8.5" fill="url(#gG)"/>
<circle cx="1197.0" cy="2471.4" r="8.5" fill="url(#gG)"/>
<circle cx="1203.5" cy="2471.2" r="8.5" fill="url(#gG)"/>
<circle cx="1210.0" cy="2471.1" r="8.5" fill="url(#gG)"/>
<circle cx="1216.5" cy="2470.9" r="8.5" fill="url(#gG)"/>
<circle cx="1223.0" cy="2470.7" r="8.5" fill="url(#gG)"/>
<circle cx="1229.5" cy="2470.4" r="8.5" fill="url(#gG)"/>
<circle cx="1236.1" cy="2470.1" r="8.5" fill="url(#gG)"/>
<circle cx="1242.6" cy="2469.8" r="8.5" fill="url(#gG)"/>
<circle cx="1249.1" cy="2469.4" r="8.5" fill="url(#gG)"/>
<circle cx="1255.6" cy="2468.9" r="8.5" fill="url(#gG)"/>
<circle cx="1262.1" cy="2468.4" r="8.5" fill="url(#gG)"/>
<circle cx="1268.6" cy="2467.9" r="8.5" fill="url(#gG)"/>
<circle cx="1275.1" cy="2467.3" r="8.5" fill="url(#gG)"/>
<circle cx="1281.6" cy="2466.6" r="8.5" fill="url(#gG)"/>
<circle cx="1288.1" cy="2465.8" r="8.5" fill="url(#gG)"/>
<circle cx="1294.6" cy="2464.9" r="8.5" fill="url(#gG)"/>
<circle cx="1301.1" cy="2464.0" r="8.5" fill="url(#gG)"/>
<circle cx="1307.6" cy="2463.0" r="8.5" fill="url(#gG)"/>
<circle cx="1314.2" cy="2461.8" r="8.5" fill="url(#gG)"/>
<circle cx="1320.7" cy="2460.6" r="8.5" fill="url(#gG)"/>
<circle cx="1327.2" cy="2459.3" r="8.5" fill="url(#gG)"/>
<circle cx="1333.7" cy="2457.9" r="8.5" fill="url(#gG)"/>
<circle cx="1340.2" cy="2456.4" r="8.5" fill="url(#gG)"/>
<circle cx="1346.7" cy="2454.7" r="8.5" fill="url(#gG)"/>
<circle cx="1353.2" cy="2453.0" r="8.5" fill="url(#gG)"/>
<circle cx="1359.7" cy="2451.2" r="8.5" fill="url(#gG)"/>
<circle cx="1366.2" cy="2449.3" r="8.5" fill="url(#gG)"/>
<circle cx="1372.7" cy="2447.3" r="8.5" fill="url(#gG)"/>
<circle cx="1379.2" cy="2445.2" r="8.5" fill="url(#gG)"/>
<circle cx="1385.7" cy="2443.0" r="8.5" fill="url(#gG)"/>
<circle cx="1392.2" cy="2440.8" r="8.5" fill="url(#gG)"/>
<circle cx="1398.8" cy="2438.5" r="8.5" fill="url(#gG)"/>
<circle cx="1405.3" cy="2436.2" r="8.5" fill="url(#gG)"/>
<circle cx="1411.8" cy="2433.8" r="8.5" fill="url(#gG)"/>
<circle cx="1418.3" cy="2431.4" r="8.5" fill="url(#gG)"/>
<circle cx="1424.8" cy="2429.0" r="8.5" fill="url(#gG)"/>
<circle cx="1431.3" cy="2426.5" r="8.5" fill="url(#gG)"/>
<circle cx="1437.8" cy="2424.1" r="8.5" fill="url(#gG)"/>
<circle cx="1444.3" cy="2421.8" r="8.5" fill="url(#gG)"/>
<circle cx="1450.8" cy="2419.4" r="8.5" fill="url(#gG)"/>
<circle cx="1457.3" cy="2417.1" r="8.5" fill="url(#gG)"/>
<circle cx="1463.8" cy="2414.9" r="8.5" fill="url(#gG)"/>
<circle cx="1470.3" cy="2412.8" r="8.5" fill="url(#gG)"/>
<circle cx="1476.9" cy="2410.7" r="8.5" fill="url(#gG)"/>
<circle cx="1483.4" cy="2408.7" r="8.5" fill="url(#gG)"/>
<circle cx="1489.9" cy="2406.8" r="8.5" fill="url(#gG)"/>
<circle cx="1496.4" cy="2405.0" r="8.5" fill="url(#gG)"/>
<circle cx="1502.9" cy="2403.3" r="8.5" fill="url(#gG)"/>
<circle cx="1509.4" cy="2401.6" r="8.5" fill="url(#gG)"/>
<circle cx="1515.9" cy="2400.1" r="8.5" fill="url(#gG)"/>
<circle cx="1522.4" cy="2398.6" r="8.5" fill="url(#gG)"/>
<circle cx="1528.9" cy="2397.1" r="8.5" fill="url(#gG)"/>
<circle cx="1535.4" cy="2395.7" r="8.5" fill="url(#gG)"/>
<circle cx="1541.9" cy="2394.2" r="8.5" fill="url(#gG)"/>
<circle cx="1548.4" cy="2392.7" r="8.5" fill="url(#gG)"/>
<circle cx="1554.9" cy="2391.1" r="8.5" fill="url(#gG)"/>
<circle cx="1561.5" cy="2389.3" r="8.5" fill="url(#gG)"/>
<circle cx="1568.0" cy="2387.3" r="8.5" fill="url(#gG)"/>
<circle cx="1574.5" cy="2384.9" r="8.5" fill="url(#gG)"/>
<circle cx="1581.0" cy="2382.2" r="8.5" fill="url(#gG)"/>
<circle cx="1587.5" cy="2378.8" r="8.5" fill="url(#gG)"/>
<circle cx="1594.0" cy="2374.7" r="8.5" fill="url(#gG)"/>
<circle cx="1600.5" cy="2369.7" r="8.5" fill="url(#gG)"/>
<circle cx="1607.0" cy="2363.5" r="8.5" fill="url(#gG)"/>
<circle cx="1613.5" cy="2355.8" r="8.5" fill="url(#gG)"/>
<circle cx="1620.0" cy="2346.4" r="8.5" fill="url(#gG)"/>
<circle cx="1626.5" cy="2334.7" r="8.5" fill="url(#gG)"/>
<circle cx="1633.0" cy="2320.5" r="8.5" fill="url(#gG)"/>
<circle cx="1639.6" cy="2303.4" r="8.5" fill="url(#gG)"/>
<circle cx="1646.1" cy="2282.9" r="8.5" fill="url(#gG)"/>
<circle cx="1652.6" cy="2258.7" r="8.5" fill="url(#gG)"/>
<circle cx="1659.1" cy="2230.5" r="8.5" fill="url(#gG)"/>
<circle cx="1665.6" cy="2198.1" r="8.5" fill="url(#gG)"/>
<circle cx="1672.1" cy="2161.8" r="8.5" fill="url(#gG)"/>
<circle cx="1678.6" cy="2122.1" r="8.5" fill="url(#gG)"/>
<circle cx="1685.1" cy="2080.2" r="8.5" fill="url(#gG)"/>
<circle cx="1691.6" cy="2038.3" r="8.5" fill="url(#gG)"/>
<circle cx="1698.1" cy="1999.5" r="8.5" fill="url(#gG)"/>
<circle cx="1704.6" cy="1968.0" r="8.5" fill="url(#gG)"/>
<circle cx="1711.1" cy="1948.0" r="8.5" fill="url(#gG)"/>
<circle cx="1717.6" cy="1942.8" r="8.5" fill="url(#gG)"/>
<circle cx="1724.2" cy="1953.5" r="8.5" fill="url(#gG)"/>
<circle cx="1730.7" cy="1978.6" r="8.5" fill="url(#gG)"/>
<circle cx="1737.2" cy="2014.3" r="8.5" fill="url(#gG)"/>
<circle cx="1743.7" cy="2056.5" r="8.5" fill="url(#gG)"/>
<circle cx="1750.2" cy="2101.1" r="8.5" fill="url(#gG)"/>
<circle cx="1756.7" cy="2145.2" r="8.5" fill="url(#gG)"/>
<circle cx="1763.2" cy="2186.7" r="8.5" fill="url(#gG)"/>
<circle cx="1769.7" cy="2224.8" r="8.5" fill="url(#gG)"/>
<circle cx="1776.2" cy="2258.8" r="8.5" fill="url(#gG)"/>
<circle cx="1782.7" cy="2288.7" r="8.5" fill="url(#gG)"/>
<circle cx="1789.2" cy="2314.6" r="8.5" fill="url(#gG)"/>
<circle cx="1795.7" cy="2336.9" r="8.5" fill="url(#gG)"/>
<circle cx="1802.3" cy="2355.9" r="8.5" fill="url(#gG)"/>
<circle cx="1808.8" cy="2372.0" r="8.5" fill="url(#gG)"/>
<circle cx="1815.3" cy="2385.6" r="8.5" fill="url(#gG)"/>
<circle cx="1821.8" cy="2397.1" r="8.5" fill="url(#gG)"/>
<circle cx="1828.3" cy="2406.8" r="8.5" fill="url(#gG)"/>
<circle cx="1834.8" cy="2415.0" r="8.5" fill="url(#gG)"/>
<circle cx="1841.3" cy="2421.9" r="8.5" fill="url(#gG)"/>
<circle cx="1847.8" cy="2427.9" r="8.5" fill="url(#gG)"/>
<circle cx="1854.3" cy="2433.1" r="8.5" fill="url(#gG)"/>
<circle cx="1860.8" cy="2437.5" r="8.5" fill="url(#gG)"/>
<circle cx="1867.3" cy="2441.5" r="8.5" fill="url(#gG)"/>
<circle cx="1873.8" cy="2445.0" r="8.5" fill="url(#gG)"/>
<circle cx="1880.3" cy="2448.0" r="8.5" fill="url(#gG)"/>
<circle cx="1886.9" cy="2450.8" r="8.5" fill="url(#gG)"/>
<circle cx="1893.4" cy="2453.3" r="8.5" fill="url(#gG)"/>
<circle cx="1899.9" cy="2455.6" r="8.5" fill="url(#gG)"/>
<circle cx="1906.4" cy="2457.6" r="8.5" fill="url(#gG)"/>
<circle cx="1912.9" cy="2459.5" r="8.5" fill="url(#gG)"/>
<circle cx="1919.4" cy="2461.2" r="8.5" fill="url(#gG)"/>
<circle cx="1925.9" cy="2462.8" r="8.5" fill="url(#gG)"/>
<circle cx="1932.4" cy="2464.2" r="8.5" fill="url(#gG)"/>
<circle cx="1938.9" cy="2465.6" r="8.5" fill="url(#gG)"/>
<circle cx="1945.4" cy="2466.8" r="8.5" fill="url(#gG)"/>
<circle cx="1951.9" cy="2468.0" r="8.5" fill="url(#gG)"/>
<circle cx="1958.4" cy="2469.0" r="8.5" fill="url(#gG)"/>
<circle cx="1965.0" cy="2470.0" r="8.5" fill="url(#gG)"/>
<circle cx="1971.5" cy="2471.0" r="8.5" fill="url(#gG)"/>
<circle cx="1978.0" cy="2471.9" r="8.5" fill="url(#gG)"/>
<circle cx="1984.5" cy="2472.7" r="8.5" fill="url(#gG)"/>
<circle cx="1991.0" cy="2473.5" r="8.5" fill="url(#gG)"/>
<circle cx="1997.5" cy="2474.2" r="8.5" fill="url(#gG)"/>
<circle cx="2004.0" cy="2474.9" r="8.5" fill="url(#gG)"/>
<circle cx="2010.5" cy="2475.5" r="8.5" fill="url(#gG)"/>
<circle cx="2017.0" cy="2476.1" r="8.5" fill="url(#gG)"/>
<circle cx="2023.5" cy="2476.7" r="8.5" fill="url(#gG)"/>
<circle cx="2030.0" cy="2477.3" r="8.5" fill="url(#gG)"/>
<circle cx="2036.5" cy="2477.8" r="8.5" fill="url(#gG)"/>
<circle cx="2043.0" cy="2478.3" r="8.5" fill="url(#gG)"/>
<circle cx="2049.6" cy="2478.8" r="8.5" fill="url(#gG)"/>
<circle cx="2056.1" cy="2479.2" r="8.5" fill="url(#gG)"/>
<circle cx="2062.6" cy="2479.7" r="8.5" fill="url(#gG)"/>
<circle cx="2069.1" cy="2480.1" r="8.5" fill="url(#gG)"/>
<circle cx="2075.6" cy="2480.5" r="8.5" fill="url(#gG)"/>
<circle cx="2082.1" cy="2480.9" r="8.5" fill="url(#gG)"/>
<circle cx="1190.5" cy="2475.4" r="8.5" fill="url(#gO)"/>
<circle cx="1197.0" cy="2475.4" r="8.5" fill="url(#gO)"/>
<circle cx="1203.5" cy="2475.4" r="8.5" fill="url(#gO)"/>
<circle cx="1210.0" cy="2475.3" r="8.5" fill="url(#gO)"/>
<circle cx="1216.5" cy="2475.3" r="8.5" fill="url(#gO)"/>
<circle cx="1223.0" cy="2475.1" r="8.5" fill="url(#gO)"/>
<circle cx="1229.5" cy="2475.0" r="8.5" fill="url(#gO)"/>
<circle cx="1236.1" cy="2474.8" r="8.5" fill="url(#gO)"/>
<circle cx="1242.6" cy="2474.6" r="8.5" fill="url(#gO)"/>
<circle cx="1249.1" cy="2474.4" r="8.5" fill="url(#gO)"/>
<circle cx="1255.6" cy="2474.1" r="8.5" fill="url(#gO)"/>
<circle cx="1262.1" cy="2473.7" r="8.5" fill="url(#gO)"/>
<circle cx="1268.6" cy="2473.3" r="8.5" fill="url(#gO)"/>
<circle cx="1275.1" cy="2472.8" r="8.5" fill="url(#gO)"/>
<circle cx="1281.6" cy="2472.3" r="8.5" fill="url(#gO)"/>
<circle cx="1288.1" cy="2471.7" r="8.5" fill="url(#gO)"/>
<circle cx="1294.6" cy="2471.0" r="8.5" fill="url(#gO)"/>
<circle cx="1301.1" cy="2470.3" r="8.5" fill="url(#gO)"/>
<circle cx="1307.6" cy="2469.5" r="8.5" fill="url(#gO)"/>
<circle cx="1314.2" cy="2468.5" r="8.5" fill="url(#gO)"/>
<circle cx="1320.7" cy="2467.5" r="8.5" fill="url(#gO)"/>
<circle cx="1327.2" cy="2466.4" r="8.5" fill="url(#gO)"/>
<circle cx="1333.7" cy="2465.3" r="8.5" fill="url(#gO)"/>
<circle cx="1340.2" cy="2464.0" r="8.5" fill="url(#gO)"/>
<circle cx="1346.7" cy="2462.6" r="8.5" fill="url(#gO)"/>
<circle cx="1353.2" cy="2461.2" r="8.5" fill="url(#gO)"/>
<circle cx="1359.7" cy="2459.7" r="8.5" fill="url(#gO)"/>
<circle cx="1366.2" cy="2458.1" r="8.5" fill="url(#gO)"/>
<circle cx="1372.7" cy="2456.4" r="8.5" fill="url(#gO)"/>
<circle cx="1379.2" cy="2454.7" r="8.5" fill="url(#gO)"/>
<circle cx="1385.7" cy="2452.9" r="8.5" fill="url(#gO)"/>
<circle cx="1392.2" cy="2451.0" r="8.5" fill="url(#gO)"/>
<circle cx="1398.8" cy="2449.1" r="8.5" fill="url(#gO)"/>
<circle cx="1405.3" cy="2447.2" r="8.5" fill="url(#gO)"/>
<circle cx="1411.8" cy="2445.3" r="8.5" fill="url(#gO)"/>
<circle cx="1418.3" cy="2443.4" r="8.5" fill="url(#gO)"/>
<circle cx="1424.8" cy="2441.5" r="8.5" fill="url(#gO)"/>
<circle cx="1431.3" cy="2439.7" r="8.5" fill="url(#gO)"/>
<circle cx="1437.8" cy="2437.9" r="8.5" fill="url(#gO)"/>
<circle cx="1444.3" cy="2436.1" r="8.5" fill="url(#gO)"/>
<circle cx="1450.8" cy="2434.5" r="8.5" fill="url(#gO)"/>
<circle cx="1457.3" cy="2432.9" r="8.5" fill="url(#gO)"/>
<circle cx="1463.8" cy="2431.5" r="8.5" fill="url(#gO)"/>
<circle cx="1470.3" cy="2430.2" r="8.5" fill="url(#gO)"/>
<circle cx="1476.9" cy="2429.0" r="8.5" fill="url(#gO)"/>
<circle cx="1483.4" cy="2428.0" r="8.5" fill="url(#gO)"/>
<circle cx="1489.9" cy="2427.2" r="8.5" fill="url(#gO)"/>
<circle cx="1496.4" cy="2426.5" r="8.5" fill="url(#gO)"/>
<circle cx="1502.9" cy="2426.1" r="8.5" fill="url(#gO)"/>
<circle cx="1509.4" cy="2425.8" r="8.5" fill="url(#gO)"/>
<circle cx="1515.9" cy="2425.8" r="8.5" fill="url(#gO)"/>
<circle cx="1522.4" cy="2425.9" r="8.5" fill="url(#gO)"/>
<circle cx="1528.9" cy="2426.2" r="8.5" fill="url(#gO)"/>
<circle cx="1535.4" cy="2426.7" r="8.5" fill="url(#gO)"/>
<circle cx="1541.9" cy="2427.5" r="8.5" fill="url(#gO)"/>
<circle cx="1548.4" cy="2428.4" r="8.5" fill="url(#gO)"/>
<circle cx="1554.9" cy="2429.4" r="8.5" fill="url(#gO)"/>
<circle cx="1561.5" cy="2430.7" r="8.5" fill="url(#gO)"/>
<circle cx="1568.0" cy="2432.1" r="8.5" fill="url(#gO)"/>
<circle cx="1574.5" cy="2433.6" r="8.5" fill="url(#gO)"/>
<circle cx="1581.0" cy="2435.3" r="8.5" fill="url(#gO)"/>
<circle cx="1587.5" cy="2437.1" r="8.5" fill="url(#gO)"/>
<circle cx="1594.0" cy="2438.9" r="8.5" fill="url(#gO)"/>
<circle cx="1600.5" cy="2440.9" r="8.5" fill="url(#gO)"/>
<circle cx="1607.0" cy="2442.9" r="8.5" fill="url(#gO)"/>
<circle cx="1613.5" cy="2445.0" r="8.5" fill="url(#gO)"/>
<circle cx="1620.0" cy="2447.1" r="8.5" fill="url(#gO)"/>
<circle cx="1626.5" cy="2449.2" r="8.5" fill="url(#gO)"/>
<circle cx="1633.0" cy="2451.3" r="8.5" fill="url(#gO)"/>
<circle cx="1639.6" cy="2453.4" r="8.5" fill="url(#gO)"/>
<circle cx="1646.1" cy="2455.4" r="8.5" fill="url(#gO)"/>
<circle cx="1652.6" cy="2457.4" r="8.5" fill="url(#gO)"/>
<circle cx="1659.1" cy="2459.4" r="8.5" fill="url(#gO)"/>
<circle cx="1665.6" cy="2461.3" r="8.5" fill="url(#gO)"/>
<circle cx="1672.1" cy="2463.1" r="8.5" fill="url(#gO)"/>
<circle cx="1678.6" cy="2464.9" r="8.5" fill="url(#gO)"/>
<circle cx="1685.1" cy="2466.6" r="8.5" fill="url(#gO)"/>
<circle cx="1691.6" cy="2468.2" r="8.5" fill="url(#gO)"/>
<circle cx="1698.1" cy="2469.7" r="8.5" fill="url(#gO)"/>
<circle cx="1704.6" cy="2471.1" r="8.5" fill="url(#gO)"/>
<circle cx="1711.1" cy="2472.5" r="8.5" fill="url(#gO)"/>
<circle cx="1717.6" cy="2473.7" r="8.5" fill="url(#gO)"/>
<circle cx="1724.2" cy="2474.9" r="8.5" fill="url(#gO)"/>
<circle cx="1730.7" cy="2476.0" r="8.5" fill="url(#gO)"/>
<circle cx="1737.2" cy="2477.0" r="8.5" fill="url(#gO)"/>
<circle cx="1743.7" cy="2477.9" r="8.5" fill="url(#gO)"/>
<circle cx="1750.2" cy="2478.7" r="8.5" fill="url(#gO)"/>
<circle cx="1756.7" cy="2479.5" r="8.5" fill="url(#gO)"/>
<circle cx="1763.2" cy="2480.2" r="8.5" fill="url(#gO)"/>
<circle cx="1769.7" cy="2480.8" r="8.5" fill="url(#gO)"/>
<circle cx="1776.2" cy="2481.4" r="8.5" fill="url(#gO)"/>
<circle cx="1782.7" cy="2481.9" r="8.5" fill="url(#gO)"/>
<circle cx="1789.2" cy="2482.4" r="8.5" fill="url(#gO)"/>
<circle cx="1795.7" cy="2482.8" r="8.5" fill="url(#gO)"/>
<circle cx="1802.3" cy="2483.2" r="8.5" fill="url(#gO)"/>
<circle cx="1808.8" cy="2483.6" r="8.5" fill="url(#gO)"/>
<circle cx="1815.3" cy="2483.9" r="8.5" fill="url(#gO)"/>
<circle cx="1821.8" cy="2484.2" r="8.5" fill="url(#gO)"/>
<circle cx="1828.3" cy="2484.4" r="8.5" fill="url(#gO)"/>
<circle cx="1834.8" cy="2484.7" r="8.5" fill="url(#gO)"/>
<circle cx="1841.3" cy="2484.9" r="8.5" fill="url(#gO)"/>
<circle cx="1847.8" cy="2485.1" r="8.5" fill="url(#gO)"/>
<circle cx="1854.3" cy="2485.3" r="8.5" fill="url(#gO)"/>
<circle cx="1860.8" cy="2485.4" r="8.5" fill="url(#gO)"/>
<circle cx="1867.3" cy="2485.6" r="8.5" fill="url(#gO)"/>
<circle cx="1873.8" cy="2485.7" r="8.5" fill="url(#gO)"/>
<circle cx="1880.3" cy="2485.9" r="8.5" fill="url(#gO)"/>
<circle cx="1886.9" cy="2486.0" r="8.5" fill="url(#gO)"/>
<circle cx="1893.4" cy="2486.1" r="8.5" fill="url(#gO)"/>
<circle cx="1899.9" cy="2486.2" r="8.5" fill="url(#gO)"/>
<circle cx="1906.4" cy="2486.4" r="8.5" fill="url(#gO)"/>
<circle cx="1912.9" cy="2486.5" r="8.5" fill="url(#gO)"/>
<circle cx="1919.4" cy="2486.6" r="8.5" fill="url(#gO)"/>
<circle cx="1925.9" cy="2486.7" r="8.5" fill="url(#gO)"/>
<circle cx="1932.4" cy="2486.8" r="8.5" fill="url(#gO)"/>
<circle cx="1938.9" cy="2486.9" r="8.5" fill="url(#gO)"/>
<circle cx="1945.4" cy="2487.0" r="8.5" fill="url(#gO)"/>
<circle cx="1951.9" cy="2487.1" r="8.5" fill="url(#gO)"/>
<circle cx="1958.4" cy="2487.2" r="8.5" fill="url(#gO)"/>
<circle cx="1965.0" cy="2487.3" r="8.5" fill="url(#gO)"/>
<circle cx="1971.5" cy="2487.4" r="8.5" fill="url(#gO)"/>
<circle cx="1978.0" cy="2487.5" r="8.5" fill="url(#gO)"/>
<circle cx="1984.5" cy="2487.6" r="8.5" fill="url(#gO)"/>
<circle cx="1991.0" cy="2487.7" r="8.5" fill="url(#gO)"/>
<circle cx="1997.5" cy="2487.8" r="8.5" fill="url(#gO)"/>
<circle cx="2004.0" cy="2487.9" r="8.5" fill="url(#gO)"/>
<circle cx="2010.5" cy="2488.0" r="8.5" fill="url(#gO)"/>
<circle cx="2017.0" cy="2488.1" r="8.5" fill="url(#gO)"/>
<circle cx="2023.5" cy="2488.2" r="8.5" fill="url(#gO)"/>
<circle cx="2030.0" cy="2488.2" r="8.5" fill="url(#gO)"/>
<circle cx="2036.5" cy="2488.3" r="8.5" fill="url(#gO)"/>
<circle cx="2043.0" cy="2488.4" r="8.5" fill="url(#gO)"/>
<circle cx="2049.6" cy="2488.5" r="8.5" fill="url(#gO)"/>
<circle cx="2056.1" cy="2488.6" r="8.5" fill="url(#gO)"/>
<circle cx="2062.6" cy="2488.7" r="8.5" fill="url(#gO)"/>
<circle cx="2069.1" cy="2488.8" r="8.5" fill="url(#gO)"/>
<circle cx="2075.6" cy="2488.9" r="8.5" fill="url(#gO)"/>
<circle cx="2082.1" cy="2489.0" r="8.5" fill="url(#gO)"/>
<polyline points="1190.5,2472.0 1197.0,2472.0 1203.5,2472.0 1210.0,2472.0 1216.5,2472.0 1223.0,2472.0 1229.5,2472.0 1236.1,2471.9 1242.6,2471.9 1249.1,2471.9 1255.6,2471.8 1262.1,2471.8 1268.6,2471.7 1275.1,2471.6 1281.6,2471.6 1288.1,2471.5 1294.6,2471.4 1301.1,2471.3 1307.6,2471.2 1314.2,2471.1 1320.7,2471.0 1327.2,2470.8 1333.7,2470.7 1340.2,2470.5 1346.7,2470.4 1353.2,2470.2 1359.7,2470.0 1366.2,2469.8 1372.7,2469.5 1379.2,2469.3 1385.7,2469.0 1392.2,2468.7 1398.8,2468.4 1405.3,2468.1 1411.8,2467.7 1418.3,2467.3 1424.8,2466.9 1431.3,2466.4 1437.8,2465.9 1444.3,2465.3 1450.8,2464.8 1457.3,2464.1 1463.8,2463.4 1470.3,2462.7 1476.9,2461.8 1483.4,2460.9 1489.9,2460.0 1496.4,2458.9 1502.9,2457.7 1509.4,2456.5 1515.9,2455.1 1522.4,2453.5 1528.9,2451.8 1535.4,2450.0 1541.9,2447.9 1548.4,2445.5 1554.9,2442.9 1561.5,2440.0 1568.0,2436.7 1574.5,2432.9 1581.0,2428.6 1587.5,2423.5 1594.0,2417.7 1600.5,2410.8 1607.0,2402.7 1613.5,2393.0 1620.0,2381.6 1626.5,2367.9 1633.0,2351.7 1639.6,2332.6 1646.1,2310.1 1652.6,2284.0 1659.1,2253.9 1665.6,2219.8 1672.1,2181.7 1678.6,2140.3 1685.1,2096.8 1691.6,2053.4 1698.1,2013.2 1704.6,1980.3 1711.1,1959.1 1717.6,1952.8 1724.2,1962.4 1730.7,1986.5 1737.2,2021.4 1743.7,2062.7 1750.2,2106.6 1756.7,2149.9 1763.2,2190.9 1769.7,2228.4 1776.2,2261.9 1782.7,2291.4 1789.2,2317.0 1795.7,2338.9 1802.3,2357.7 1808.8,2373.5 1815.3,2386.9 1821.8,2398.1 1828.3,2407.7 1834.8,2415.7 1841.3,2422.6 1847.8,2428.4 1854.3,2433.5 1860.8,2437.9 1867.3,2441.8 1873.8,2445.2 1880.3,2448.2 1886.9,2451.0 1893.4,2453.4 1899.9,2455.7 1906.4,2457.7 1912.9,2459.6 1919.4,2461.3 1925.9,2462.8 1932.4,2464.3 1938.9,2465.6 1945.4,2466.8 1951.9,2468.0 1958.4,2469.1 1965.0,2470.1 1971.5,2471.0 1978.0,2471.9 1984.5,2472.7 1991.0,2473.5 1997.5,2474.2 2004.0,2474.9 2010.5,2475.5 2017.0,2476.1 2023.5,2476.7 2030.0,2477.3 2036.5,2477.8 2043.0,2478.3 2049.6,2478.8 2056.1,2479.2 2062.6,2479.7 2069.1,2480.1 2075.6,2480.5 2082.1,2480.9" fill="none" stroke="#c05090" stroke-width="1.2" stroke-linejoin="round" stroke-linecap="round"/>
<circle cx="1190.5" cy="2472.0" r="8.5" fill="url(#gP)"/>
<circle cx="1197.0" cy="2472.0" r="8.5" fill="url(#gP)"/>
<circle cx="1203.5" cy="2472.0" r="8.5" fill="url(#gP)"/>
<circle cx="1210.0" cy="2472.0" r="8.5" fill="url(#gP)"/>
<circle cx="1216.5" cy="2472.0" r="8.5" fill="url(#gP)"/>
<circle cx="1223.0" cy="2472.0" r="8.5" fill="url(#gP)"/>
<circle cx="1229.5" cy="2472.0" r="8.5" fill="url(#gP)"/>
<circle cx="1236.1" cy="2471.9" r="8.5" fill="url(#gP)"/>
<circle cx="1242.6" cy="2471.9" r="8.5" fill="url(#gP)"/>
<circle cx="1249.1" cy="2471.9" r="8.5" fill="url(#gP)"/>
<circle cx="1255.6" cy="2471.8" r="8.5" fill="url(#gP)"/>
<circle cx="1262.1" cy="2471.8" r="8.5" fill="url(#gP)"/>
<circle cx="1268.6" cy="2471.7" r="8.5" fill="url(#gP)"/>
<circle cx="1275.1" cy="2471.6" r="8.5" fill="url(#gP)"/>
<circle cx="1281.6" cy="2471.6" r="8.5" fill="url(#gP)"/>
<circle cx="1288.1" cy="2471.5" r="8.5" fill="url(#gP)"/>
<circle cx="1294.6" cy="2471.4" r="8.5" fill="url(#gP)"/>
<circle cx="1301.1" cy="2471.3" r="8.5" fill="url(#gP)"/>
<circle cx="1307.6" cy="2471.2" r="8.5" fill="url(#gP)"/>
<circle cx="1314.2" cy="2471.1" r="8.5" fill="url(#gP)"/>
<circle cx="1320.7" cy="2471.0" r="8.5" fill="url(#gP)"/>
<circle cx="1327.2" cy="2470.8" r="8.5" fill="url(#gP)"/>
<circle cx="1333.7" cy="2470.7" r="8.5" fill="url(#gP)"/>
<circle cx="1340.2" cy="2470.5" r="8.5" fill="url(#gP)"/>
<circle cx="1346.7" cy="2470.4" r="8.5" fill="url(#gP)"/>
<circle cx="1353.2" cy="2470.2" r="8.5" fill="url(#gP)"/>
<circle cx="1359.7" cy="2470.0" r="8.5" fill="url(#gP)"/>
<circle cx="1366.2" cy="2469.8" r="8.5" fill="url(#gP)"/>
<circle cx="1372.7" cy="2469.5" r="8.5" fill="url(#gP)"/>
<circle cx="1379.2" cy="2469.3" r="8.5" fill="url(#gP)"/>
<circle cx="1385.7" cy="2469.0" r="8.5" fill="url(#gP)"/>
<circle cx="1392.2" cy="2468.7" r="8.5" fill="url(#gP)"/>
<circle cx="1398.8" cy="2468.4" r="8.5" fill="url(#gP)"/>
<circle cx="1405.3" cy="2468.1" r="8.5" fill="url(#gP)"/>
<circle cx="1411.8" cy="2467.7" r="8.5" fill="url(#gP)"/>
<circle cx="1418.3" cy="2467.3" r="8.5" fill="url(#gP)"/>
<circle cx="1424.8" cy="2466.9" r="8.5" fill="url(#gP)"/>
<circle cx="1431.3" cy="2466.4" r="8.5" fill="url(#gP)"/>
<circle cx="1437.8" cy="2465.9" r="8.5" fill="url(#gP)"/>
<circle cx="1444.3" cy="2465.3" r="8.5" fill="url(#gP)"/>
<circle cx="1450.8" cy="2464.8" r="8.5" fill="url(#gP)"/>
<circle cx="1457.3" cy="2464.1" r="8.5" fill="url(#gP)"/>
<circle cx="1463.8" cy="2463.4" r="8.5" fill="url(#gP)"/>
<circle cx="1470.3" cy="2462.7" r="8.5" fill="url(#gP)"/>
<circle cx="1476.9" cy="2461.8" r="8.5" fill="url(#gP)"/>
<circle cx="1483.4" cy="2460.9" r="8.5" fill="url(#gP)"/>
<circle cx="1489.9" cy="2460.0" r="8.5" fill="url(#gP)"/>
<circle cx="1496.4" cy="2458.9" r="8.5" fill="url(#gP)"/>
<circle cx="1502.9" cy="2457.7" r="8.5" fill="url(#gP)"/>
<circle cx="1509.4" cy="2456.5" r="8.5" fill="url(#gP)"/>
<circle cx="1515.9" cy="2455.1" r="8.5" fill="url(#gP)"/>
<circle cx="1522.4" cy="2453.5" r="8.5" fill="url(#gP)"/>
<circle cx="1528.9" cy="2451.8" r="8.5" fill="url(#gP)"/>
<circle cx="1535.4" cy="2450.0" r="8.5" fill="url(#gP)"/>
<circle cx="1541.9" cy="2447.9" r="8.5" fill="url(#gP)"/>
<circle cx="1548.4" cy="2445.5" r="8.5" fill="url(#gP)"/>
<circle cx="1554.9" cy="2442.9" r="8.5" fill="url(#gP)"/>
<circle cx="1561.5" cy="2440.0" r="8.5" fill="url(#gP)"/>
<circle cx="1568.0" cy="2436.7" r="8.5" fill="url(#gP)"/>
<circle cx="1574.5" cy="2432.9" r="8.5" fill="url(#gP)"/>
<circle cx="1581.0" cy="2428.6" r="8.5" fill="url(#gP)"/>
<circle cx="1587.5" cy="2423.5" r="8.5" fill="url(#gP)"/>
<circle cx="1594.0" cy="2417.7" r="8.5" fill="url(#gP)"/>
<circle cx="1600.5" cy="2410.8" r="8.5" fill="url(#gP)"/>
<circle cx="1607.0" cy="2402.7" r="8.5" fill="url(#gP)"/>
<circle cx="1613.5" cy="2393.0" r="8.5" fill="url(#gP)"/>
<circle cx="1620.0" cy="2381.6" r="8.5" fill="url(#gP)"/>
<circle cx="1626.5" cy="2367.9" r="8.5" fill="url(#gP)"/>
<circle cx="1633.0" cy="2351.7" r="8.5" fill="url(#gP)"/>
<circle cx="1639.6" cy="2332.6" r="8.5" fill="url(#gP)"/>
<circle cx="1646.1" cy="2310.1" r="8.5" fill="url(#gP)"/>
<circle cx="1652.6" cy="2284.0" r="8.5" fill="url(#gP)"/>
<circle cx="1659.1" cy="2253.9" r="8.5" fill="url(#gP)"/>
<circle cx="1665.6" cy="2219.8" r="8.5" fill="url(#gP)"/>
<circle cx="1672.1" cy="2181.7" r="8.5" fill="url(#gP)"/>
<circle cx="1678.6" cy="2140.3" r="8.5" fill="url(#gP)"/>
<circle cx="1685.1" cy="2096.8" r="8.5" fill="url(#gP)"/>
<circle cx="1691.6" cy="2053.4" r="8.5" fill="url(#gP)"/>
<circle cx="1698.1" cy="2013.2" r="8.5" fill="url(#gP)"/>
<circle cx="1704.6" cy="1980.3" r="8.5" fill="url(#gP)"/>
<circle cx="1711.1" cy="1959.1" r="8.5" fill="url(#gP)"/>
<circle cx="1717.6" cy="1952.8" r="8.5" fill="url(#gP)"/>
<circle cx="1724.2" cy="1962.4" r="8.5" fill="url(#gP)"/>
<circle cx="1730.7" cy="1986.5" r="8.5" fill="url(#gP)"/>
<circle cx="1737.2" cy="2021.4" r="8.5" fill="url(#gP)"/>
<circle cx="1743.7" cy="2062.7" r="8.5" fill="url(#gP)"/>
<circle cx="1750.2" cy="2106.6" r="8.5" fill="url(#gP)"/>
<circle cx="1756.7" cy="2149.9" r="8.5" fill="url(#gP)"/>
<circle cx="1763.2" cy="2190.9" r="8.5" fill="url(#gP)"/>
<circle cx="1769.7" cy="2228.4" r="8.5" fill="url(#gP)"/>
<circle cx="1776.2" cy="2261.9" r="8.5" fill="url(#gP)"/>
<circle cx="1782.7" cy="2291.4" r="8.5" fill="url(#gP)"/>
<circle cx="1789.2" cy="2317.0" r="8.5" fill="url(#gP)"/>
<circle cx="1795.7" cy="2338.9" r="8.5" fill="url(#gP)"/>
<circle cx="1802.3" cy="2357.7" r="8.5" fill="url(#gP)"/>
<circle cx="1808.8" cy="2373.5" r="8.5" fill="url(#gP)"/>
<circle cx="1815.3" cy="2386.9" r="8.5" fill="url(#gP)"/>
<circle cx="1821.8" cy="2398.1" r="8.5" fill="url(#gP)"/>
<circle cx="1828.3" cy="2407.7" r="8.5" fill="url(#gP)"/>
<circle cx="1834.8" cy="2415.7" r="8.5" fill="url(#gP)"/>
<circle cx="1841.3" cy="2422.6" r="8.5" fill="url(#gP)"/>
<circle cx="1847.8" cy="2428.4" r="8.5" fill="url(#gP)"/>
<circle cx="1854.3" cy="2433.5" r="8.5" fill="url(#gP)"/>
<circle cx="1860.8" cy="2437.9" r="8.5" fill="url(#gP)"/>
<circle cx="1867.3" cy="2441.8" r="8.5" fill="url(#gP)"/>
<circle cx="1873.8" cy="2445.2" r="8.5" fill="url(#gP)"/>
<circle cx="1880.3" cy="2448.2" r="8.5" fill="url(#gP)"/>
<circle cx="1886.9" cy="2451.0" r="8.5" fill="url(#gP)"/>
<circle cx="1893.4" cy="2453.4" r="8.5" fill="url(#gP)"/>
<circle cx="1899.9" cy="2455.7" r="8.5" fill="url(#gP)"/>
<circle cx="1906.4" cy="2457.7" r="8.5" fill="url(#gP)"/>
<circle cx="1912.9" cy="2459.6" r="8.5" fill="url(#gP)"/>
<circle cx="1919.4" cy="2461.3" r="8.5" fill="url(#gP)"/>
<circle cx="1925.9" cy="2462.8" r="8.5" fill="url(#gP)"/>
<circle cx="1932.4" cy="2464.3" r="8.5" fill="url(#gP)"/>
<circle cx="1938.9" cy="2465.6" r="8.5" fill="url(#gP)"/>
<circle cx="1945.4" cy="2466.8" r="8.5" fill="url(#gP)"/>
<circle cx="1951.9" cy="2468.0" r="8.5" fill="url(#gP)"/>
<circle cx="1958.4" cy="2469.1" r="8.5" fill="url(#gP)"/>
<circle cx="1965.0" cy="2470.1" r="8.5" fill="url(#gP)"/>
<circle cx="1971.5" cy="2471.0" r="8.5" fill="url(#gP)"/>
<circle cx="1978.0" cy="2471.9" r="8.5" fill="url(#gP)"/>
<circle cx="1984.5" cy="2472.7" r="8.5" fill="url(#gP)"/>
<circle cx="1991.0" cy="2473.5" r="8.5" fill="url(#gP)"/>
<circle cx="1997.5" cy="2474.2" r="8.5" fill="url(#gP)"/>
<circle cx="2004.0" cy="2474.9" r="8.5" fill="url(#gP)"/>
<circle cx="2010.5" cy="2475.5" r="8.5" fill="url(#gP)"/>
<circle cx="2017.0" cy="2476.1" r="8.5" fill="url(#gP)"/>
<circle cx="2023.5" cy="2476.7" r="8.5" fill="url(#gP)"/>
<circle cx="2030.0" cy="2477.3" r="8.5" fill="url(#gP)"/>
<circle cx="2036.5" cy="2477.8" r="8.5" fill="url(#gP)"/>
<circle cx="2043.0" cy="2478.3" r="8.5" fill="url(#gP)"/>
<circle cx="2049.6" cy="2478.8" r="8.5" fill="url(#gP)"/>
<circle cx="2056.1" cy="2479.2" r="8.5" fill="url(#gP)"/>
<circle cx="2062.6" cy="2479.7" r="8.5" fill="url(#gP)"/>
<circle cx="2069.1" cy="2480.1" r="8.5" fill="url(#gP)"/>
<circle cx="2075.6" cy="2480.5" r="8.5" fill="url(#gP)"/>
<circle cx="2082.1" cy="2480.9" r="8.5" fill="url(#gP)"/>
</g>
<text x="143.6" y="188.7" font-size="128" fill="#ff0000">a</text>
<text x="1208.4" y="188.5" font-size="128" fill="#ff0000">b</text>
<text x="131.5" y="1084.6" font-size="128" fill="#ff0000">c</text>
<text x="1203.5" y="1076.8" font-size="128" fill="#ff0000">d</text>
<text x="130.9" y="1966.5" font-size="128" fill="#ff0000">e</text>
<g transform="translate(1210.6,1974.2) scale(1.18,0.965) translate(-1210.6,-1974.2)">
<text x="1209.7" y="1974.2" font-size="128" fill="#ff0000">f</text>
</g>
<text x="545.2" y="125.0" font-size="65.5" fill="#9900cc">O 1s</text>
<text x="727.8" y="250.8" font-size="65.5" fill="#ff44aa">Ti 2p</text>
<text x="161.3" y="352.7" font-size="65.5" fill="#0000ff">Zn 2p</text>
<text x="436.9" y="392.5" font-size="65.5" fill="#ff0000">Fe 2p</text>
<text x="831.6" y="591.2" font-size="65.5" fill="#008800">C 1s</text>
<text x="1917.6" y="140.3" font-size="105" fill="#f83a3d">Fe 2p</text>
<text x="1693.5" y="108.2" font-size="50" fill="#000">711.29 eV</text>
<text x="1332.9" y="192.8" font-size="50" fill="#000">722.99 eV</text>
<text x="1216.0" y="265.3" font-size="81.5" fill="#000">Fe 2p</text>
<text x="1409.3" y="287.2" font-size="55.5" fill="#000">1/2</text>
<text x="1578.9" y="179.4" font-size="81.5" fill="#000">Fe 2p</text>
<text x="1770.9" y="200.4" font-size="55.5" fill="#000">3/2</text>
<text x="806.9" y="1051.0" font-size="106" fill="#0000ff">Zn 2p</text>
<text x="517.0" y="1098.7" font-size="83" fill="#000">Zn 2p</text>
<text x="725.7" y="1121.0" font-size="56" fill="#000">3/2</text>
<text x="565.4" y="1188.7" font-size="50" fill="#000">1021.86 eV</text>
<text x="229.7" y="1268.5" font-size="83" fill="#000">Zn 2p</text>
<text x="436.8" y="1290.0" font-size="56" fill="#000">1/2</text>
<text x="339.6" y="1354.0" font-size="50" fill="#000">1044.72 eV</text>
<text x="1947.5" y="1058.2" font-size="105.6" fill="#660080">O 1s</text>
<text x="1427.5" y="1075.3" font-size="50" fill="#000">529.92 eV</text>
<text x="1439.0" y="1172.4" font-size="87" fill="#000">Ti-O</text>
<text x="1266.4" y="1328.8" font-size="50" fill="#000">531.68 eV</text>
<text x="1276.2" y="1439.7" font-size="83" fill="#000">Zn-O</text>
<text x="1261.6" y="1522.6" font-size="83" fill="#000">Fe-O</text>
<text x="844.7" y="1962.4" font-size="105" fill="#ff44aa">Ti 2p</text>
<text x="441.8" y="1958.0" font-size="50" fill="#000">458.65 eV</text>
<text x="157.7" y="2069.5" font-size="50" fill="#000">464.29 eV</text>
<text x="408.7" y="2061.9" font-size="81" fill="#000">Ti 2p</text>
<text x="591.3" y="2079.2" font-size="82" fill="#000">3/2</text>
<text x="162.1" y="2146.4" font-size="81" fill="#000">Ti 2p</text>
<text x="343.9" y="2163.8" font-size="82" fill="#000">1/2</text>
<text x="1944.0" y="1954.7" font-size="106.3" fill="#008f00">C 1s</text>
<text x="1459.0" y="2042.3" font-size="83" fill="#000">C-O</text>
<text x="1472.1" y="2113.6" font-size="50" fill="#000">284.91 eV</text>
<text x="1269.8" y="2242.0" font-size="83" fill="#000">C-OH</text>
<text x="1276.1" y="2337.1" font-size="50" fill="#000">287.97 eV</text>
<line x1="281.7" y1="519.0" x2="252.2" y2="402.3" stroke="#000" stroke-width="7.5"/>
<path d="M244.8,372.8 L264.0,405.9 L243.6,411.1 Z" fill="#000" stroke="#000" stroke-width="4.0" stroke-linejoin="round"/>
<line x1="530.8" y1="504.0" x2="493.4" y2="414.3" stroke="#000" stroke-width="7.5"/>
<path d="M481.7,386.3 L505.6,416.2 L486.2,424.3 Z" fill="#000" stroke="#000" stroke-width="4.0" stroke-linejoin="round"/>
<line x1="1584.4" y1="442.3" x2="1465.9" y2="325.6" stroke="#000" stroke-width="7.5"/>
<path d="M1444.3,304.2 L1477.9,322.6 L1463.1,337.6 Z" fill="#000" stroke="#000" stroke-width="4.0" stroke-linejoin="round"/>
<line x1="1917.6" y1="299.9" x2="1865.1" y2="200.6" stroke="#000" stroke-width="7.5"/>
<path d="M1850.9,173.7 L1877.4,201.4 L1858.8,211.2 Z" fill="#000" stroke="#000" stroke-width="4.0" stroke-linejoin="round"/>
<line x1="300.8" y1="1505.2" x2="350.1" y2="1391.0" stroke="#000" stroke-width="7.5"/>
<path d="M362.1,1363.1 L357.2,1401.1 L337.9,1392.8 Z" fill="#000" stroke="#000" stroke-width="4.0" stroke-linejoin="round"/>
<line x1="903.7" y1="1167.7" x2="841.3" y2="1151.3" stroke="#000" stroke-width="7.5"/>
<path d="M811.9,1143.6 L850.2,1142.8 L844.8,1163.1 Z" fill="#000" stroke="#000" stroke-width="4.0" stroke-linejoin="round"/>
<line x1="1725.0" y1="1055.8" x2="1633.1" y2="1117.8" stroke="#000" stroke-width="7.5"/>
<path d="M1607.9,1134.8 L1632.5,1105.5 L1644.2,1122.9 Z" fill="#000" stroke="#000" stroke-width="4.0" stroke-linejoin="round"/>
<line x1="1569.2" y1="1516.1" x2="1456.3" y2="1443.5" stroke="#000" stroke-width="7.5"/>
<path d="M1430.7,1427.0 L1467.3,1438.1 L1456.0,1455.8 Z" fill="#000" stroke="#000" stroke-width="4.0" stroke-linejoin="round"/>
<line x1="362.6" y1="2258.7" x2="350.8" y2="2233.1" stroke="#000" stroke-width="7.5"/>
<path d="M338.1,2205.5 L363.1,2234.6 L344.0,2243.3 Z" fill="#000" stroke="#000" stroke-width="4.0" stroke-linejoin="round"/>
<line x1="749.8" y1="1949.4" x2="694.9" y2="1969.5" stroke="#000" stroke-width="7.5"/>
<path d="M666.4,1980.0 L697.3,1957.5 L704.6,1977.2 Z" fill="#000" stroke="#000" stroke-width="4.0" stroke-linejoin="round"/>
<line x1="1708.7" y1="1948.8" x2="1646.6" y2="1996.5" stroke="#000" stroke-width="7.5"/>
<path d="M1622.5,2015.0 L1645.3,1984.3 L1658.1,2000.9 Z" fill="#000" stroke="#000" stroke-width="4.0" stroke-linejoin="round"/>
<line x1="1492.1" y1="2433.8" x2="1420.7" y2="2385.4" stroke="#000" stroke-width="7.5"/>
<path d="M1395.5,2368.4 L1431.9,2380.3 L1420.1,2397.7 Z" fill="#000" stroke="#000" stroke-width="4.0" stroke-linejoin="round"/>
</svg></body></html>
